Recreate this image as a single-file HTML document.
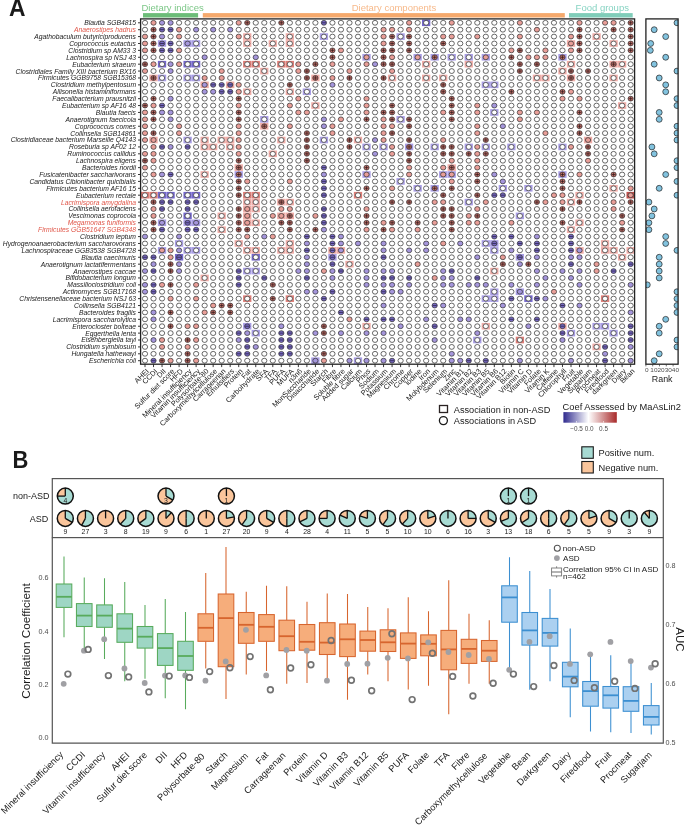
<!DOCTYPE html>
<html><head><meta charset="utf-8"><style>
html,body{margin:0;padding:0;background:#fff;overflow:hidden;}
svg{display:block;will-change:transform;}
text{font-family:"Liberation Sans", sans-serif;}
</style></head><body>
<svg width="685" height="825" viewBox="0 0 685 825" font-family='"Liberation Sans", sans-serif'><rect x="0" y="0" width="685" height="825" fill="#fff"/>
<text transform="translate(8.9,15.9) scale(1.04,1.09)" font-size="22" font-weight="bold" fill="#1a1a1a">A</text>
<text x="141.5" y="10.9" font-size="9.5" fill="#7cc787">Dietary indices</text>
<rect x="143" y="13.1" width="55.1" height="4.4" fill="#6cbd78"/>
<text x="351.7" y="10.9" font-size="9.5" fill="#f7b98a">Dietary components</text>
<rect x="202.8" y="13.1" width="362" height="4.4" fill="#f5a96c"/>
<text x="575.6" y="10.9" font-size="9.5" fill="#86d3c2">Food groups</text>
<rect x="569" y="13.1" width="63.7" height="4.4" fill="#7fcdb9"/>
<rect x="422.01" y="19.50" width="8.3" height="6.6" fill="#7467cc"/>
<rect x="243.09" y="33.29" width="8.3" height="6.6" fill="#efaca7"/>
<rect x="285.69" y="33.29" width="8.3" height="6.6" fill="#efaca7"/>
<rect x="319.77" y="33.29" width="8.3" height="6.6" fill="#a99ee5"/>
<rect x="396.45" y="33.29" width="8.3" height="6.6" fill="#a99ee5"/>
<rect x="592.41" y="33.29" width="8.3" height="6.6" fill="#efaca7"/>
<rect x="157.89" y="40.19" width="8.3" height="6.6" fill="#a99ee5"/>
<rect x="183.45" y="40.19" width="8.3" height="6.6" fill="#a99ee5"/>
<rect x="191.97" y="40.19" width="8.3" height="6.6" fill="#a99ee5"/>
<rect x="243.09" y="40.19" width="8.3" height="6.6" fill="#efaca7"/>
<rect x="268.65" y="40.19" width="8.3" height="6.6" fill="#efaca7"/>
<rect x="285.69" y="40.19" width="8.3" height="6.6" fill="#efaca7"/>
<rect x="566.85" y="40.19" width="8.3" height="6.6" fill="#efaca7"/>
<rect x="609.45" y="40.19" width="8.3" height="6.6" fill="#efaca7"/>
<rect x="362.37" y="53.98" width="8.3" height="6.6" fill="#a99ee5"/>
<rect x="413.49" y="53.98" width="8.3" height="6.6" fill="#a99ee5"/>
<rect x="430.53" y="53.98" width="8.3" height="6.6" fill="#a99ee5"/>
<rect x="447.57" y="53.98" width="8.3" height="6.6" fill="#a99ee5"/>
<rect x="464.61" y="53.98" width="8.3" height="6.6" fill="#a99ee5"/>
<rect x="481.65" y="53.98" width="8.3" height="6.6" fill="#a99ee5"/>
<rect x="558.33" y="53.98" width="8.3" height="6.6" fill="#a99ee5"/>
<rect x="157.89" y="60.88" width="8.3" height="6.6" fill="#7467cc"/>
<rect x="183.45" y="60.88" width="8.3" height="6.6" fill="#7467cc"/>
<rect x="191.97" y="60.88" width="8.3" height="6.6" fill="#7467cc"/>
<rect x="243.09" y="60.88" width="8.3" height="6.6" fill="#dc7d77"/>
<rect x="251.61" y="60.88" width="8.3" height="6.6" fill="#dc7d77"/>
<rect x="277.17" y="60.88" width="8.3" height="6.6" fill="#dc7d77"/>
<rect x="285.69" y="60.88" width="8.3" height="6.6" fill="#dc7d77"/>
<rect x="422.01" y="60.88" width="8.3" height="6.6" fill="#efaca7"/>
<rect x="464.61" y="60.88" width="8.3" height="6.6" fill="#efaca7"/>
<rect x="566.85" y="60.88" width="8.3" height="6.6" fill="#efaca7"/>
<rect x="609.45" y="60.88" width="8.3" height="6.6" fill="#efaca7"/>
<rect x="617.97" y="60.88" width="8.3" height="6.6" fill="#efaca7"/>
<rect x="260.13" y="67.77" width="8.3" height="6.6" fill="#efaca7"/>
<rect x="558.33" y="67.77" width="8.3" height="6.6" fill="#efaca7"/>
<rect x="149.37" y="74.67" width="8.3" height="6.6" fill="#efaca7"/>
<rect x="157.89" y="74.67" width="8.3" height="6.6" fill="#a99ee5"/>
<rect x="183.45" y="74.67" width="8.3" height="6.6" fill="#a99ee5"/>
<rect x="191.97" y="74.67" width="8.3" height="6.6" fill="#a99ee5"/>
<rect x="311.25" y="74.67" width="8.3" height="6.6" fill="#efaca7"/>
<rect x="387.93" y="74.67" width="8.3" height="6.6" fill="#efaca7"/>
<rect x="422.01" y="74.67" width="8.3" height="6.6" fill="#efaca7"/>
<rect x="439.05" y="74.67" width="8.3" height="6.6" fill="#efaca7"/>
<rect x="532.77" y="74.67" width="8.3" height="6.6" fill="#efaca7"/>
<rect x="541.29" y="74.67" width="8.3" height="6.6" fill="#efaca7"/>
<rect x="566.85" y="74.67" width="8.3" height="6.6" fill="#efaca7"/>
<rect x="609.45" y="74.67" width="8.3" height="6.6" fill="#efaca7"/>
<rect x="200.49" y="81.56" width="8.3" height="6.6" fill="#efaca7"/>
<rect x="226.05" y="81.56" width="8.3" height="6.6" fill="#efaca7"/>
<rect x="481.65" y="81.56" width="8.3" height="6.6" fill="#a99ee5"/>
<rect x="490.17" y="81.56" width="8.3" height="6.6" fill="#a99ee5"/>
<rect x="243.09" y="88.46" width="8.3" height="6.6" fill="#efaca7"/>
<rect x="285.69" y="88.46" width="8.3" height="6.6" fill="#efaca7"/>
<rect x="302.73" y="88.46" width="8.3" height="6.6" fill="#a99ee5"/>
<rect x="311.25" y="102.25" width="8.3" height="6.6" fill="#efaca7"/>
<rect x="617.97" y="102.25" width="8.3" height="6.6" fill="#efaca7"/>
<rect x="490.17" y="109.15" width="8.3" height="6.6" fill="#a99ee5"/>
<rect x="260.13" y="116.04" width="8.3" height="6.6" fill="#a99ee5"/>
<rect x="396.45" y="116.04" width="8.3" height="6.6" fill="#a99ee5"/>
<rect x="260.13" y="122.94" width="8.3" height="6.6" fill="#efaca7"/>
<rect x="149.37" y="136.73" width="8.3" height="6.6" fill="#efaca7"/>
<rect x="183.45" y="136.73" width="8.3" height="6.6" fill="#a99ee5"/>
<rect x="200.49" y="136.73" width="8.3" height="6.6" fill="#efaca7"/>
<rect x="217.53" y="136.73" width="8.3" height="6.6" fill="#efaca7"/>
<rect x="226.05" y="136.73" width="8.3" height="6.6" fill="#efaca7"/>
<rect x="277.17" y="136.73" width="8.3" height="6.6" fill="#efaca7"/>
<rect x="319.77" y="136.73" width="8.3" height="6.6" fill="#a99ee5"/>
<rect x="353.85" y="136.73" width="8.3" height="6.6" fill="#efaca7"/>
<rect x="583.89" y="136.73" width="8.3" height="6.6" fill="#efaca7"/>
<rect x="200.49" y="143.63" width="8.3" height="6.6" fill="#efaca7"/>
<rect x="209.01" y="143.63" width="8.3" height="6.6" fill="#efaca7"/>
<rect x="226.05" y="143.63" width="8.3" height="6.6" fill="#efaca7"/>
<rect x="362.37" y="143.63" width="8.3" height="6.6" fill="#a99ee5"/>
<rect x="379.41" y="143.63" width="8.3" height="6.6" fill="#a99ee5"/>
<rect x="404.97" y="143.63" width="8.3" height="6.6" fill="#a99ee5"/>
<rect x="430.53" y="143.63" width="8.3" height="6.6" fill="#a99ee5"/>
<rect x="464.61" y="143.63" width="8.3" height="6.6" fill="#a99ee5"/>
<rect x="481.65" y="143.63" width="8.3" height="6.6" fill="#a99ee5"/>
<rect x="507.21" y="143.63" width="8.3" height="6.6" fill="#a99ee5"/>
<rect x="558.33" y="143.63" width="8.3" height="6.6" fill="#a99ee5"/>
<rect x="268.65" y="150.52" width="8.3" height="6.6" fill="#efaca7"/>
<rect x="234.57" y="164.32" width="8.3" height="6.6" fill="#efaca7"/>
<rect x="447.57" y="164.32" width="8.3" height="6.6" fill="#efaca7"/>
<rect x="200.49" y="171.21" width="8.3" height="6.6" fill="#efaca7"/>
<rect x="234.57" y="171.21" width="8.3" height="6.6" fill="#a99ee5"/>
<rect x="362.37" y="171.21" width="8.3" height="6.6" fill="#a99ee5"/>
<rect x="439.05" y="171.21" width="8.3" height="6.6" fill="#a99ee5"/>
<rect x="447.57" y="171.21" width="8.3" height="6.6" fill="#a99ee5"/>
<rect x="558.33" y="171.21" width="8.3" height="6.6" fill="#a99ee5"/>
<rect x="396.45" y="178.11" width="8.3" height="6.6" fill="#a99ee5"/>
<rect x="413.49" y="185.00" width="8.3" height="6.6" fill="#a99ee5"/>
<rect x="430.53" y="185.00" width="8.3" height="6.6" fill="#a99ee5"/>
<rect x="498.69" y="185.00" width="8.3" height="6.6" fill="#a99ee5"/>
<rect x="524.25" y="185.00" width="8.3" height="6.6" fill="#a99ee5"/>
<rect x="609.45" y="185.00" width="8.3" height="6.6" fill="#efaca7"/>
<rect x="140.85" y="191.90" width="8.3" height="6.6" fill="#dc7d77"/>
<rect x="149.37" y="191.90" width="8.3" height="6.6" fill="#dc7d77"/>
<rect x="157.89" y="191.90" width="8.3" height="6.6" fill="#7467cc"/>
<rect x="166.41" y="191.90" width="8.3" height="6.6" fill="#7467cc"/>
<rect x="183.45" y="191.90" width="8.3" height="6.6" fill="#7467cc"/>
<rect x="191.97" y="191.90" width="8.3" height="6.6" fill="#7467cc"/>
<rect x="243.09" y="191.90" width="8.3" height="6.6" fill="#dc7d77"/>
<rect x="251.61" y="191.90" width="8.3" height="6.6" fill="#dc7d77"/>
<rect x="353.85" y="191.90" width="8.3" height="6.6" fill="#dc7d77"/>
<rect x="575.37" y="191.90" width="8.3" height="6.6" fill="#efaca7"/>
<rect x="626.49" y="191.90" width="8.3" height="6.6" fill="#c2524d"/>
<rect x="243.09" y="198.80" width="8.3" height="6.6" fill="#efaca7"/>
<rect x="251.61" y="198.80" width="8.3" height="6.6" fill="#efaca7"/>
<rect x="277.17" y="198.80" width="8.3" height="6.6" fill="#efaca7"/>
<rect x="285.69" y="198.80" width="8.3" height="6.6" fill="#efaca7"/>
<rect x="464.61" y="198.80" width="8.3" height="6.6" fill="#a99ee5"/>
<rect x="566.85" y="198.80" width="8.3" height="6.6" fill="#efaca7"/>
<rect x="243.09" y="205.69" width="8.3" height="6.6" fill="#efaca7"/>
<rect x="251.61" y="205.69" width="8.3" height="6.6" fill="#efaca7"/>
<rect x="183.45" y="212.59" width="8.3" height="6.6" fill="#7467cc"/>
<rect x="217.53" y="212.59" width="8.3" height="6.6" fill="#efaca7"/>
<rect x="243.09" y="212.59" width="8.3" height="6.6" fill="#efaca7"/>
<rect x="277.17" y="212.59" width="8.3" height="6.6" fill="#efaca7"/>
<rect x="285.69" y="212.59" width="8.3" height="6.6" fill="#efaca7"/>
<rect x="515.73" y="212.59" width="8.3" height="6.6" fill="#a99ee5"/>
<rect x="157.89" y="219.48" width="8.3" height="6.6" fill="#a99ee5"/>
<rect x="183.45" y="219.48" width="8.3" height="6.6" fill="#a99ee5"/>
<rect x="191.97" y="219.48" width="8.3" height="6.6" fill="#a99ee5"/>
<rect x="243.09" y="219.48" width="8.3" height="6.6" fill="#efaca7"/>
<rect x="251.61" y="219.48" width="8.3" height="6.6" fill="#efaca7"/>
<rect x="575.37" y="219.48" width="8.3" height="6.6" fill="#efaca7"/>
<rect x="217.53" y="226.38" width="8.3" height="6.6" fill="#efaca7"/>
<rect x="566.85" y="226.38" width="8.3" height="6.6" fill="#efaca7"/>
<rect x="174.93" y="240.17" width="8.3" height="6.6" fill="#a99ee5"/>
<rect x="234.57" y="240.17" width="8.3" height="6.6" fill="#efaca7"/>
<rect x="285.69" y="240.17" width="8.3" height="6.6" fill="#efaca7"/>
<rect x="481.65" y="240.17" width="8.3" height="6.6" fill="#a99ee5"/>
<rect x="490.17" y="240.17" width="8.3" height="6.6" fill="#a99ee5"/>
<rect x="600.93" y="240.17" width="8.3" height="6.6" fill="#efaca7"/>
<rect x="157.89" y="247.07" width="8.3" height="6.6" fill="#a99ee5"/>
<rect x="183.45" y="247.07" width="8.3" height="6.6" fill="#a99ee5"/>
<rect x="191.97" y="247.07" width="8.3" height="6.6" fill="#a99ee5"/>
<rect x="243.09" y="247.07" width="8.3" height="6.6" fill="#efaca7"/>
<rect x="251.61" y="247.07" width="8.3" height="6.6" fill="#efaca7"/>
<rect x="277.17" y="247.07" width="8.3" height="6.6" fill="#efaca7"/>
<rect x="285.69" y="247.07" width="8.3" height="6.6" fill="#efaca7"/>
<rect x="328.29" y="247.07" width="8.3" height="6.6" fill="#efaca7"/>
<rect x="336.81" y="247.07" width="8.3" height="6.6" fill="#efaca7"/>
<rect x="490.17" y="247.07" width="8.3" height="6.6" fill="#a99ee5"/>
<rect x="575.37" y="247.07" width="8.3" height="6.6" fill="#efaca7"/>
<rect x="600.93" y="247.07" width="8.3" height="6.6" fill="#efaca7"/>
<rect x="609.45" y="247.07" width="8.3" height="6.6" fill="#efaca7"/>
<rect x="626.49" y="247.07" width="8.3" height="6.6" fill="#efaca7"/>
<rect x="174.93" y="253.96" width="8.3" height="6.6" fill="#7467cc"/>
<rect x="251.61" y="253.96" width="8.3" height="6.6" fill="#7467cc"/>
<rect x="328.29" y="253.96" width="8.3" height="6.6" fill="#a99ee5"/>
<rect x="515.73" y="253.96" width="8.3" height="6.6" fill="#a99ee5"/>
<rect x="617.97" y="253.96" width="8.3" height="6.6" fill="#efaca7"/>
<rect x="345.33" y="260.86" width="8.3" height="6.6" fill="#efaca7"/>
<rect x="243.09" y="267.76" width="8.3" height="6.6" fill="#a99ee5"/>
<rect x="251.61" y="267.76" width="8.3" height="6.6" fill="#a99ee5"/>
<rect x="490.17" y="267.76" width="8.3" height="6.6" fill="#efaca7"/>
<rect x="200.49" y="274.65" width="8.3" height="6.6" fill="#efaca7"/>
<rect x="490.17" y="288.44" width="8.3" height="6.6" fill="#a99ee5"/>
<rect x="515.73" y="288.44" width="8.3" height="6.6" fill="#a99ee5"/>
<rect x="243.09" y="295.34" width="8.3" height="6.6" fill="#dc7d77"/>
<rect x="285.69" y="295.34" width="8.3" height="6.6" fill="#dc7d77"/>
<rect x="481.65" y="295.34" width="8.3" height="6.6" fill="#a99ee5"/>
<rect x="490.17" y="295.34" width="8.3" height="6.6" fill="#a99ee5"/>
<rect x="524.25" y="295.34" width="8.3" height="6.6" fill="#7467cc"/>
<rect x="600.93" y="295.34" width="8.3" height="6.6" fill="#dc7d77"/>
<rect x="243.09" y="322.92" width="8.3" height="6.6" fill="#a99ee5"/>
<rect x="362.37" y="322.92" width="8.3" height="6.6" fill="#efaca7"/>
<rect x="481.65" y="322.92" width="8.3" height="6.6" fill="#efaca7"/>
<rect x="558.33" y="322.92" width="8.3" height="6.6" fill="#efaca7"/>
<rect x="592.41" y="322.92" width="8.3" height="6.6" fill="#a99ee5"/>
<rect x="600.93" y="322.92" width="8.3" height="6.6" fill="#a99ee5"/>
<rect x="251.61" y="329.82" width="8.3" height="6.6" fill="#a99ee5"/>
<rect x="566.85" y="329.82" width="8.3" height="6.6" fill="#a99ee5"/>
<rect x="609.45" y="329.82" width="8.3" height="6.6" fill="#a99ee5"/>
<rect x="473.13" y="336.72" width="8.3" height="6.6" fill="#a99ee5"/>
<rect x="515.73" y="336.72" width="8.3" height="6.6" fill="#dc7d77"/>
<rect x="592.41" y="343.61" width="8.3" height="6.6" fill="#efaca7"/>
<rect x="311.25" y="357.40" width="8.3" height="6.6" fill="#a99ee5"/>
<rect x="353.85" y="357.40" width="8.3" height="6.6" fill="#a99ee5"/>
<defs><g id="c_"><ellipse rx="2.62" ry="2.42" fill="#fff" stroke="#303030" stroke-width="0.72"/></g><g id="cr"><ellipse rx="2.62" ry="2.42" fill="#e99e98" stroke="#303030" stroke-width="0.72"/></g><g id="cb_"><ellipse rx="2.62" ry="2.42" fill="#a596dc" stroke="#303030" stroke-width="0.72"/></g><g id="cR"><ellipse rx="2.62" ry="2.42" fill="#c26d67" stroke="#303030" stroke-width="0.72"/><path d="M-2 0h4M0 -2v4" stroke="#1a1010" stroke-width="0.6"/></g><g id="cB"><ellipse rx="2.62" ry="2.42" fill="#7768c2" stroke="#303030" stroke-width="0.72"/><path d="M-2.1 0h4.2" stroke="#1a1530" stroke-width="0.65"/></g></defs>
<use href="#c_" x="145.00" y="22.80"/>
<use href="#cr" x="153.52" y="22.80"/>
<use href="#cb_" x="162.04" y="22.80"/>
<use href="#cb_" x="170.56" y="22.80"/>
<use href="#c_" x="179.08" y="22.80"/>
<use href="#c_" x="187.60" y="22.80"/>
<use href="#c_" x="196.12" y="22.80"/>
<use href="#c_" x="204.64" y="22.80"/>
<use href="#c_" x="213.16" y="22.80"/>
<use href="#c_" x="221.68" y="22.80"/>
<use href="#c_" x="230.20" y="22.80"/>
<use href="#cr" x="238.72" y="22.80"/>
<use href="#cR" x="247.24" y="22.80"/>
<use href="#c_" x="255.76" y="22.80"/>
<use href="#c_" x="264.28" y="22.80"/>
<use href="#c_" x="272.80" y="22.80"/>
<use href="#cR" x="281.32" y="22.80"/>
<use href="#c_" x="289.84" y="22.80"/>
<use href="#c_" x="298.36" y="22.80"/>
<use href="#c_" x="306.88" y="22.80"/>
<use href="#c_" x="315.40" y="22.80"/>
<use href="#cB" x="323.92" y="22.80"/>
<use href="#c_" x="332.44" y="22.80"/>
<use href="#c_" x="340.96" y="22.80"/>
<use href="#c_" x="349.48" y="22.80"/>
<use href="#c_" x="358.00" y="22.80"/>
<use href="#c_" x="366.52" y="22.80"/>
<use href="#c_" x="375.04" y="22.80"/>
<use href="#c_" x="383.56" y="22.80"/>
<use href="#c_" x="392.08" y="22.80"/>
<use href="#c_" x="400.60" y="22.80"/>
<use href="#cr" x="409.12" y="22.80"/>
<use href="#c_" x="417.64" y="22.80"/>
<use href="#c_" x="426.16" y="22.80"/>
<use href="#c_" x="434.68" y="22.80"/>
<use href="#c_" x="443.20" y="22.80"/>
<use href="#cr" x="451.72" y="22.80"/>
<use href="#c_" x="460.24" y="22.80"/>
<use href="#c_" x="468.76" y="22.80"/>
<use href="#c_" x="477.28" y="22.80"/>
<use href="#c_" x="485.80" y="22.80"/>
<use href="#c_" x="494.32" y="22.80"/>
<use href="#c_" x="502.84" y="22.80"/>
<use href="#c_" x="511.36" y="22.80"/>
<use href="#cr" x="519.88" y="22.80"/>
<use href="#c_" x="528.40" y="22.80"/>
<use href="#c_" x="536.92" y="22.80"/>
<use href="#c_" x="545.44" y="22.80"/>
<use href="#c_" x="553.96" y="22.80"/>
<use href="#c_" x="562.48" y="22.80"/>
<use href="#c_" x="571.00" y="22.80"/>
<use href="#cr" x="579.52" y="22.80"/>
<use href="#c_" x="588.04" y="22.80"/>
<use href="#c_" x="596.56" y="22.80"/>
<use href="#cr" x="605.08" y="22.80"/>
<use href="#cr" x="613.60" y="22.80"/>
<use href="#c_" x="622.12" y="22.80"/>
<use href="#cR" x="630.64" y="22.80"/>
<use href="#c_" x="145.00" y="29.70"/>
<use href="#cR" x="153.52" y="29.70"/>
<use href="#cB" x="162.04" y="29.70"/>
<use href="#cB" x="170.56" y="29.70"/>
<use href="#cr" x="179.08" y="29.70"/>
<use href="#c_" x="187.60" y="29.70"/>
<use href="#cb_" x="196.12" y="29.70"/>
<use href="#c_" x="204.64" y="29.70"/>
<use href="#cb_" x="213.16" y="29.70"/>
<use href="#c_" x="221.68" y="29.70"/>
<use href="#cb_" x="230.20" y="29.70"/>
<use href="#c_" x="238.72" y="29.70"/>
<use href="#c_" x="247.24" y="29.70"/>
<use href="#c_" x="255.76" y="29.70"/>
<use href="#c_" x="264.28" y="29.70"/>
<use href="#c_" x="272.80" y="29.70"/>
<use href="#c_" x="281.32" y="29.70"/>
<use href="#c_" x="289.84" y="29.70"/>
<use href="#c_" x="298.36" y="29.70"/>
<use href="#c_" x="306.88" y="29.70"/>
<use href="#c_" x="315.40" y="29.70"/>
<use href="#c_" x="323.92" y="29.70"/>
<use href="#c_" x="332.44" y="29.70"/>
<use href="#c_" x="340.96" y="29.70"/>
<use href="#c_" x="349.48" y="29.70"/>
<use href="#c_" x="358.00" y="29.70"/>
<use href="#c_" x="366.52" y="29.70"/>
<use href="#c_" x="375.04" y="29.70"/>
<use href="#cr" x="383.56" y="29.70"/>
<use href="#cr" x="392.08" y="29.70"/>
<use href="#c_" x="400.60" y="29.70"/>
<use href="#cr" x="409.12" y="29.70"/>
<use href="#c_" x="417.64" y="29.70"/>
<use href="#c_" x="426.16" y="29.70"/>
<use href="#c_" x="434.68" y="29.70"/>
<use href="#c_" x="443.20" y="29.70"/>
<use href="#c_" x="451.72" y="29.70"/>
<use href="#c_" x="460.24" y="29.70"/>
<use href="#c_" x="468.76" y="29.70"/>
<use href="#c_" x="477.28" y="29.70"/>
<use href="#c_" x="485.80" y="29.70"/>
<use href="#c_" x="494.32" y="29.70"/>
<use href="#c_" x="502.84" y="29.70"/>
<use href="#c_" x="511.36" y="29.70"/>
<use href="#c_" x="519.88" y="29.70"/>
<use href="#c_" x="528.40" y="29.70"/>
<use href="#cr" x="536.92" y="29.70"/>
<use href="#c_" x="545.44" y="29.70"/>
<use href="#c_" x="553.96" y="29.70"/>
<use href="#c_" x="562.48" y="29.70"/>
<use href="#c_" x="571.00" y="29.70"/>
<use href="#cR" x="579.52" y="29.70"/>
<use href="#c_" x="588.04" y="29.70"/>
<use href="#c_" x="596.56" y="29.70"/>
<use href="#c_" x="605.08" y="29.70"/>
<use href="#cR" x="613.60" y="29.70"/>
<use href="#c_" x="622.12" y="29.70"/>
<use href="#cR" x="630.64" y="29.70"/>
<use href="#cr" x="145.00" y="36.59"/>
<use href="#cR" x="153.52" y="36.59"/>
<use href="#cb_" x="162.04" y="36.59"/>
<use href="#c_" x="170.56" y="36.59"/>
<use href="#cr" x="179.08" y="36.59"/>
<use href="#c_" x="187.60" y="36.59"/>
<use href="#c_" x="196.12" y="36.59"/>
<use href="#c_" x="204.64" y="36.59"/>
<use href="#c_" x="213.16" y="36.59"/>
<use href="#c_" x="221.68" y="36.59"/>
<use href="#c_" x="230.20" y="36.59"/>
<use href="#cr" x="238.72" y="36.59"/>
<use href="#c_" x="247.24" y="36.59"/>
<use href="#c_" x="255.76" y="36.59"/>
<use href="#c_" x="264.28" y="36.59"/>
<use href="#c_" x="272.80" y="36.59"/>
<use href="#c_" x="281.32" y="36.59"/>
<use href="#c_" x="289.84" y="36.59"/>
<use href="#c_" x="298.36" y="36.59"/>
<use href="#c_" x="306.88" y="36.59"/>
<use href="#c_" x="315.40" y="36.59"/>
<use href="#c_" x="323.92" y="36.59"/>
<use href="#c_" x="332.44" y="36.59"/>
<use href="#c_" x="340.96" y="36.59"/>
<use href="#c_" x="349.48" y="36.59"/>
<use href="#c_" x="358.00" y="36.59"/>
<use href="#c_" x="366.52" y="36.59"/>
<use href="#c_" x="375.04" y="36.59"/>
<use href="#cr" x="383.56" y="36.59"/>
<use href="#cR" x="392.08" y="36.59"/>
<use href="#c_" x="400.60" y="36.59"/>
<use href="#cR" x="409.12" y="36.59"/>
<use href="#c_" x="417.64" y="36.59"/>
<use href="#c_" x="426.16" y="36.59"/>
<use href="#c_" x="434.68" y="36.59"/>
<use href="#cr" x="443.20" y="36.59"/>
<use href="#cr" x="451.72" y="36.59"/>
<use href="#c_" x="460.24" y="36.59"/>
<use href="#c_" x="468.76" y="36.59"/>
<use href="#cr" x="477.28" y="36.59"/>
<use href="#c_" x="485.80" y="36.59"/>
<use href="#c_" x="494.32" y="36.59"/>
<use href="#c_" x="502.84" y="36.59"/>
<use href="#c_" x="511.36" y="36.59"/>
<use href="#cr" x="519.88" y="36.59"/>
<use href="#c_" x="528.40" y="36.59"/>
<use href="#c_" x="536.92" y="36.59"/>
<use href="#c_" x="545.44" y="36.59"/>
<use href="#c_" x="553.96" y="36.59"/>
<use href="#c_" x="562.48" y="36.59"/>
<use href="#cr" x="571.00" y="36.59"/>
<use href="#cR" x="579.52" y="36.59"/>
<use href="#c_" x="588.04" y="36.59"/>
<use href="#c_" x="596.56" y="36.59"/>
<use href="#c_" x="605.08" y="36.59"/>
<use href="#c_" x="613.60" y="36.59"/>
<use href="#c_" x="622.12" y="36.59"/>
<use href="#cR" x="630.64" y="36.59"/>
<use href="#cr" x="145.00" y="43.49"/>
<use href="#cR" x="153.52" y="43.49"/>
<use href="#cB" x="162.04" y="43.49"/>
<use href="#cB" x="170.56" y="43.49"/>
<use href="#c_" x="179.08" y="43.49"/>
<use href="#cb_" x="187.60" y="43.49"/>
<use href="#c_" x="196.12" y="43.49"/>
<use href="#c_" x="204.64" y="43.49"/>
<use href="#c_" x="213.16" y="43.49"/>
<use href="#c_" x="221.68" y="43.49"/>
<use href="#c_" x="230.20" y="43.49"/>
<use href="#c_" x="238.72" y="43.49"/>
<use href="#c_" x="247.24" y="43.49"/>
<use href="#c_" x="255.76" y="43.49"/>
<use href="#c_" x="264.28" y="43.49"/>
<use href="#c_" x="272.80" y="43.49"/>
<use href="#c_" x="281.32" y="43.49"/>
<use href="#c_" x="289.84" y="43.49"/>
<use href="#c_" x="298.36" y="43.49"/>
<use href="#c_" x="306.88" y="43.49"/>
<use href="#c_" x="315.40" y="43.49"/>
<use href="#c_" x="323.92" y="43.49"/>
<use href="#c_" x="332.44" y="43.49"/>
<use href="#c_" x="340.96" y="43.49"/>
<use href="#c_" x="349.48" y="43.49"/>
<use href="#c_" x="358.00" y="43.49"/>
<use href="#c_" x="366.52" y="43.49"/>
<use href="#c_" x="375.04" y="43.49"/>
<use href="#cr" x="383.56" y="43.49"/>
<use href="#cR" x="392.08" y="43.49"/>
<use href="#c_" x="400.60" y="43.49"/>
<use href="#cR" x="409.12" y="43.49"/>
<use href="#c_" x="417.64" y="43.49"/>
<use href="#c_" x="426.16" y="43.49"/>
<use href="#c_" x="434.68" y="43.49"/>
<use href="#cR" x="443.20" y="43.49"/>
<use href="#c_" x="451.72" y="43.49"/>
<use href="#c_" x="460.24" y="43.49"/>
<use href="#c_" x="468.76" y="43.49"/>
<use href="#c_" x="477.28" y="43.49"/>
<use href="#c_" x="485.80" y="43.49"/>
<use href="#c_" x="494.32" y="43.49"/>
<use href="#c_" x="502.84" y="43.49"/>
<use href="#c_" x="511.36" y="43.49"/>
<use href="#c_" x="519.88" y="43.49"/>
<use href="#c_" x="528.40" y="43.49"/>
<use href="#c_" x="536.92" y="43.49"/>
<use href="#c_" x="545.44" y="43.49"/>
<use href="#c_" x="553.96" y="43.49"/>
<use href="#c_" x="562.48" y="43.49"/>
<use href="#cr" x="571.00" y="43.49"/>
<use href="#cR" x="579.52" y="43.49"/>
<use href="#c_" x="588.04" y="43.49"/>
<use href="#c_" x="596.56" y="43.49"/>
<use href="#c_" x="605.08" y="43.49"/>
<use href="#c_" x="613.60" y="43.49"/>
<use href="#c_" x="622.12" y="43.49"/>
<use href="#cR" x="630.64" y="43.49"/>
<use href="#cr" x="145.00" y="50.38"/>
<use href="#cR" x="153.52" y="50.38"/>
<use href="#cB" x="162.04" y="50.38"/>
<use href="#cB" x="170.56" y="50.38"/>
<use href="#cr" x="179.08" y="50.38"/>
<use href="#c_" x="187.60" y="50.38"/>
<use href="#c_" x="196.12" y="50.38"/>
<use href="#c_" x="204.64" y="50.38"/>
<use href="#c_" x="213.16" y="50.38"/>
<use href="#c_" x="221.68" y="50.38"/>
<use href="#c_" x="230.20" y="50.38"/>
<use href="#c_" x="238.72" y="50.38"/>
<use href="#c_" x="247.24" y="50.38"/>
<use href="#c_" x="255.76" y="50.38"/>
<use href="#c_" x="264.28" y="50.38"/>
<use href="#c_" x="272.80" y="50.38"/>
<use href="#c_" x="281.32" y="50.38"/>
<use href="#c_" x="289.84" y="50.38"/>
<use href="#c_" x="298.36" y="50.38"/>
<use href="#c_" x="306.88" y="50.38"/>
<use href="#c_" x="315.40" y="50.38"/>
<use href="#c_" x="323.92" y="50.38"/>
<use href="#cR" x="332.44" y="50.38"/>
<use href="#cr" x="340.96" y="50.38"/>
<use href="#c_" x="349.48" y="50.38"/>
<use href="#c_" x="358.00" y="50.38"/>
<use href="#c_" x="366.52" y="50.38"/>
<use href="#c_" x="375.04" y="50.38"/>
<use href="#cR" x="383.56" y="50.38"/>
<use href="#cR" x="392.08" y="50.38"/>
<use href="#c_" x="400.60" y="50.38"/>
<use href="#cR" x="409.12" y="50.38"/>
<use href="#c_" x="417.64" y="50.38"/>
<use href="#c_" x="426.16" y="50.38"/>
<use href="#c_" x="434.68" y="50.38"/>
<use href="#c_" x="443.20" y="50.38"/>
<use href="#c_" x="451.72" y="50.38"/>
<use href="#c_" x="460.24" y="50.38"/>
<use href="#c_" x="468.76" y="50.38"/>
<use href="#c_" x="477.28" y="50.38"/>
<use href="#c_" x="485.80" y="50.38"/>
<use href="#c_" x="494.32" y="50.38"/>
<use href="#c_" x="502.84" y="50.38"/>
<use href="#cr" x="511.36" y="50.38"/>
<use href="#cR" x="519.88" y="50.38"/>
<use href="#c_" x="528.40" y="50.38"/>
<use href="#c_" x="536.92" y="50.38"/>
<use href="#cr" x="545.44" y="50.38"/>
<use href="#c_" x="553.96" y="50.38"/>
<use href="#c_" x="562.48" y="50.38"/>
<use href="#cr" x="571.00" y="50.38"/>
<use href="#cR" x="579.52" y="50.38"/>
<use href="#c_" x="588.04" y="50.38"/>
<use href="#c_" x="596.56" y="50.38"/>
<use href="#c_" x="605.08" y="50.38"/>
<use href="#c_" x="613.60" y="50.38"/>
<use href="#c_" x="622.12" y="50.38"/>
<use href="#cR" x="630.64" y="50.38"/>
<use href="#c_" x="145.00" y="57.28"/>
<use href="#c_" x="153.52" y="57.28"/>
<use href="#c_" x="162.04" y="57.28"/>
<use href="#c_" x="170.56" y="57.28"/>
<use href="#c_" x="179.08" y="57.28"/>
<use href="#c_" x="187.60" y="57.28"/>
<use href="#c_" x="196.12" y="57.28"/>
<use href="#cb_" x="204.64" y="57.28"/>
<use href="#c_" x="213.16" y="57.28"/>
<use href="#c_" x="221.68" y="57.28"/>
<use href="#c_" x="230.20" y="57.28"/>
<use href="#c_" x="238.72" y="57.28"/>
<use href="#c_" x="247.24" y="57.28"/>
<use href="#cb_" x="255.76" y="57.28"/>
<use href="#c_" x="264.28" y="57.28"/>
<use href="#c_" x="272.80" y="57.28"/>
<use href="#c_" x="281.32" y="57.28"/>
<use href="#c_" x="289.84" y="57.28"/>
<use href="#c_" x="298.36" y="57.28"/>
<use href="#c_" x="306.88" y="57.28"/>
<use href="#c_" x="315.40" y="57.28"/>
<use href="#c_" x="323.92" y="57.28"/>
<use href="#cR" x="332.44" y="57.28"/>
<use href="#c_" x="340.96" y="57.28"/>
<use href="#c_" x="349.48" y="57.28"/>
<use href="#c_" x="358.00" y="57.28"/>
<use href="#cr" x="366.52" y="57.28"/>
<use href="#c_" x="375.04" y="57.28"/>
<use href="#cR" x="383.56" y="57.28"/>
<use href="#cr" x="392.08" y="57.28"/>
<use href="#c_" x="400.60" y="57.28"/>
<use href="#c_" x="409.12" y="57.28"/>
<use href="#cr" x="417.64" y="57.28"/>
<use href="#c_" x="426.16" y="57.28"/>
<use href="#cR" x="434.68" y="57.28"/>
<use href="#c_" x="443.20" y="57.28"/>
<use href="#c_" x="451.72" y="57.28"/>
<use href="#c_" x="460.24" y="57.28"/>
<use href="#c_" x="468.76" y="57.28"/>
<use href="#c_" x="477.28" y="57.28"/>
<use href="#cr" x="485.80" y="57.28"/>
<use href="#c_" x="494.32" y="57.28"/>
<use href="#c_" x="502.84" y="57.28"/>
<use href="#cR" x="511.36" y="57.28"/>
<use href="#c_" x="519.88" y="57.28"/>
<use href="#cr" x="528.40" y="57.28"/>
<use href="#cr" x="536.92" y="57.28"/>
<use href="#cr" x="545.44" y="57.28"/>
<use href="#c_" x="553.96" y="57.28"/>
<use href="#cR" x="562.48" y="57.28"/>
<use href="#c_" x="571.00" y="57.28"/>
<use href="#c_" x="579.52" y="57.28"/>
<use href="#c_" x="588.04" y="57.28"/>
<use href="#c_" x="596.56" y="57.28"/>
<use href="#c_" x="605.08" y="57.28"/>
<use href="#c_" x="613.60" y="57.28"/>
<use href="#c_" x="622.12" y="57.28"/>
<use href="#c_" x="630.64" y="57.28"/>
<use href="#cR" x="145.00" y="64.18"/>
<use href="#cr" x="153.52" y="64.18"/>
<use href="#c_" x="162.04" y="64.18"/>
<use href="#cb_" x="170.56" y="64.18"/>
<use href="#cr" x="179.08" y="64.18"/>
<use href="#c_" x="187.60" y="64.18"/>
<use href="#c_" x="196.12" y="64.18"/>
<use href="#c_" x="204.64" y="64.18"/>
<use href="#c_" x="213.16" y="64.18"/>
<use href="#c_" x="221.68" y="64.18"/>
<use href="#c_" x="230.20" y="64.18"/>
<use href="#c_" x="238.72" y="64.18"/>
<use href="#c_" x="247.24" y="64.18"/>
<use href="#c_" x="255.76" y="64.18"/>
<use href="#c_" x="264.28" y="64.18"/>
<use href="#c_" x="272.80" y="64.18"/>
<use href="#c_" x="281.32" y="64.18"/>
<use href="#c_" x="289.84" y="64.18"/>
<use href="#cr" x="298.36" y="64.18"/>
<use href="#c_" x="306.88" y="64.18"/>
<use href="#cR" x="315.40" y="64.18"/>
<use href="#c_" x="323.92" y="64.18"/>
<use href="#cr" x="332.44" y="64.18"/>
<use href="#c_" x="340.96" y="64.18"/>
<use href="#c_" x="349.48" y="64.18"/>
<use href="#c_" x="358.00" y="64.18"/>
<use href="#cr" x="366.52" y="64.18"/>
<use href="#cb_" x="375.04" y="64.18"/>
<use href="#cR" x="383.56" y="64.18"/>
<use href="#cR" x="392.08" y="64.18"/>
<use href="#c_" x="400.60" y="64.18"/>
<use href="#c_" x="409.12" y="64.18"/>
<use href="#c_" x="417.64" y="64.18"/>
<use href="#c_" x="426.16" y="64.18"/>
<use href="#c_" x="434.68" y="64.18"/>
<use href="#c_" x="443.20" y="64.18"/>
<use href="#c_" x="451.72" y="64.18"/>
<use href="#c_" x="460.24" y="64.18"/>
<use href="#c_" x="468.76" y="64.18"/>
<use href="#c_" x="477.28" y="64.18"/>
<use href="#c_" x="485.80" y="64.18"/>
<use href="#c_" x="494.32" y="64.18"/>
<use href="#c_" x="502.84" y="64.18"/>
<use href="#c_" x="511.36" y="64.18"/>
<use href="#cR" x="519.88" y="64.18"/>
<use href="#c_" x="528.40" y="64.18"/>
<use href="#cR" x="536.92" y="64.18"/>
<use href="#c_" x="545.44" y="64.18"/>
<use href="#c_" x="553.96" y="64.18"/>
<use href="#c_" x="562.48" y="64.18"/>
<use href="#c_" x="571.00" y="64.18"/>
<use href="#c_" x="579.52" y="64.18"/>
<use href="#c_" x="588.04" y="64.18"/>
<use href="#c_" x="596.56" y="64.18"/>
<use href="#c_" x="605.08" y="64.18"/>
<use href="#cR" x="613.60" y="64.18"/>
<use href="#c_" x="622.12" y="64.18"/>
<use href="#c_" x="630.64" y="64.18"/>
<use href="#cr" x="145.00" y="71.07"/>
<use href="#c_" x="153.52" y="71.07"/>
<use href="#c_" x="162.04" y="71.07"/>
<use href="#cb_" x="170.56" y="71.07"/>
<use href="#c_" x="179.08" y="71.07"/>
<use href="#c_" x="187.60" y="71.07"/>
<use href="#c_" x="196.12" y="71.07"/>
<use href="#c_" x="204.64" y="71.07"/>
<use href="#c_" x="213.16" y="71.07"/>
<use href="#cr" x="221.68" y="71.07"/>
<use href="#c_" x="230.20" y="71.07"/>
<use href="#c_" x="238.72" y="71.07"/>
<use href="#c_" x="247.24" y="71.07"/>
<use href="#c_" x="255.76" y="71.07"/>
<use href="#c_" x="264.28" y="71.07"/>
<use href="#c_" x="272.80" y="71.07"/>
<use href="#c_" x="281.32" y="71.07"/>
<use href="#c_" x="289.84" y="71.07"/>
<use href="#cr" x="298.36" y="71.07"/>
<use href="#cR" x="306.88" y="71.07"/>
<use href="#c_" x="315.40" y="71.07"/>
<use href="#c_" x="323.92" y="71.07"/>
<use href="#c_" x="332.44" y="71.07"/>
<use href="#c_" x="340.96" y="71.07"/>
<use href="#cr" x="349.48" y="71.07"/>
<use href="#c_" x="358.00" y="71.07"/>
<use href="#c_" x="366.52" y="71.07"/>
<use href="#c_" x="375.04" y="71.07"/>
<use href="#c_" x="383.56" y="71.07"/>
<use href="#cr" x="392.08" y="71.07"/>
<use href="#c_" x="400.60" y="71.07"/>
<use href="#c_" x="409.12" y="71.07"/>
<use href="#c_" x="417.64" y="71.07"/>
<use href="#c_" x="426.16" y="71.07"/>
<use href="#c_" x="434.68" y="71.07"/>
<use href="#c_" x="443.20" y="71.07"/>
<use href="#c_" x="451.72" y="71.07"/>
<use href="#c_" x="460.24" y="71.07"/>
<use href="#c_" x="468.76" y="71.07"/>
<use href="#c_" x="477.28" y="71.07"/>
<use href="#c_" x="485.80" y="71.07"/>
<use href="#c_" x="494.32" y="71.07"/>
<use href="#c_" x="502.84" y="71.07"/>
<use href="#c_" x="511.36" y="71.07"/>
<use href="#cR" x="519.88" y="71.07"/>
<use href="#c_" x="528.40" y="71.07"/>
<use href="#c_" x="536.92" y="71.07"/>
<use href="#c_" x="545.44" y="71.07"/>
<use href="#c_" x="553.96" y="71.07"/>
<use href="#c_" x="562.48" y="71.07"/>
<use href="#cR" x="571.00" y="71.07"/>
<use href="#c_" x="579.52" y="71.07"/>
<use href="#cR" x="588.04" y="71.07"/>
<use href="#c_" x="596.56" y="71.07"/>
<use href="#c_" x="605.08" y="71.07"/>
<use href="#c_" x="613.60" y="71.07"/>
<use href="#c_" x="622.12" y="71.07"/>
<use href="#c_" x="630.64" y="71.07"/>
<use href="#c_" x="145.00" y="77.97"/>
<use href="#cR" x="153.52" y="77.97"/>
<use href="#c_" x="162.04" y="77.97"/>
<use href="#c_" x="170.56" y="77.97"/>
<use href="#c_" x="179.08" y="77.97"/>
<use href="#c_" x="187.60" y="77.97"/>
<use href="#c_" x="196.12" y="77.97"/>
<use href="#cr" x="204.64" y="77.97"/>
<use href="#c_" x="213.16" y="77.97"/>
<use href="#cr" x="221.68" y="77.97"/>
<use href="#c_" x="230.20" y="77.97"/>
<use href="#c_" x="238.72" y="77.97"/>
<use href="#c_" x="247.24" y="77.97"/>
<use href="#c_" x="255.76" y="77.97"/>
<use href="#c_" x="264.28" y="77.97"/>
<use href="#c_" x="272.80" y="77.97"/>
<use href="#c_" x="281.32" y="77.97"/>
<use href="#c_" x="289.84" y="77.97"/>
<use href="#c_" x="298.36" y="77.97"/>
<use href="#cR" x="306.88" y="77.97"/>
<use href="#cR" x="315.40" y="77.97"/>
<use href="#c_" x="323.92" y="77.97"/>
<use href="#cr" x="332.44" y="77.97"/>
<use href="#c_" x="340.96" y="77.97"/>
<use href="#cR" x="349.48" y="77.97"/>
<use href="#c_" x="358.00" y="77.97"/>
<use href="#c_" x="366.52" y="77.97"/>
<use href="#c_" x="375.04" y="77.97"/>
<use href="#cR" x="383.56" y="77.97"/>
<use href="#c_" x="392.08" y="77.97"/>
<use href="#c_" x="400.60" y="77.97"/>
<use href="#c_" x="409.12" y="77.97"/>
<use href="#c_" x="417.64" y="77.97"/>
<use href="#c_" x="426.16" y="77.97"/>
<use href="#c_" x="434.68" y="77.97"/>
<use href="#c_" x="443.20" y="77.97"/>
<use href="#c_" x="451.72" y="77.97"/>
<use href="#c_" x="460.24" y="77.97"/>
<use href="#c_" x="468.76" y="77.97"/>
<use href="#c_" x="477.28" y="77.97"/>
<use href="#c_" x="485.80" y="77.97"/>
<use href="#c_" x="494.32" y="77.97"/>
<use href="#c_" x="502.84" y="77.97"/>
<use href="#c_" x="511.36" y="77.97"/>
<use href="#c_" x="519.88" y="77.97"/>
<use href="#c_" x="528.40" y="77.97"/>
<use href="#c_" x="536.92" y="77.97"/>
<use href="#c_" x="545.44" y="77.97"/>
<use href="#c_" x="553.96" y="77.97"/>
<use href="#c_" x="562.48" y="77.97"/>
<use href="#cR" x="571.00" y="77.97"/>
<use href="#c_" x="579.52" y="77.97"/>
<use href="#c_" x="588.04" y="77.97"/>
<use href="#c_" x="596.56" y="77.97"/>
<use href="#c_" x="605.08" y="77.97"/>
<use href="#c_" x="613.60" y="77.97"/>
<use href="#c_" x="622.12" y="77.97"/>
<use href="#c_" x="630.64" y="77.97"/>
<use href="#c_" x="145.00" y="84.86"/>
<use href="#c_" x="153.52" y="84.86"/>
<use href="#c_" x="162.04" y="84.86"/>
<use href="#c_" x="170.56" y="84.86"/>
<use href="#c_" x="179.08" y="84.86"/>
<use href="#c_" x="187.60" y="84.86"/>
<use href="#c_" x="196.12" y="84.86"/>
<use href="#cb_" x="204.64" y="84.86"/>
<use href="#cB" x="213.16" y="84.86"/>
<use href="#cB" x="221.68" y="84.86"/>
<use href="#cB" x="230.20" y="84.86"/>
<use href="#cr" x="238.72" y="84.86"/>
<use href="#c_" x="247.24" y="84.86"/>
<use href="#c_" x="255.76" y="84.86"/>
<use href="#c_" x="264.28" y="84.86"/>
<use href="#c_" x="272.80" y="84.86"/>
<use href="#c_" x="281.32" y="84.86"/>
<use href="#cR" x="289.84" y="84.86"/>
<use href="#c_" x="298.36" y="84.86"/>
<use href="#c_" x="306.88" y="84.86"/>
<use href="#c_" x="315.40" y="84.86"/>
<use href="#c_" x="323.92" y="84.86"/>
<use href="#cb_" x="332.44" y="84.86"/>
<use href="#c_" x="340.96" y="84.86"/>
<use href="#c_" x="349.48" y="84.86"/>
<use href="#c_" x="358.00" y="84.86"/>
<use href="#c_" x="366.52" y="84.86"/>
<use href="#c_" x="375.04" y="84.86"/>
<use href="#c_" x="383.56" y="84.86"/>
<use href="#c_" x="392.08" y="84.86"/>
<use href="#c_" x="400.60" y="84.86"/>
<use href="#c_" x="409.12" y="84.86"/>
<use href="#c_" x="417.64" y="84.86"/>
<use href="#c_" x="426.16" y="84.86"/>
<use href="#c_" x="434.68" y="84.86"/>
<use href="#cR" x="443.20" y="84.86"/>
<use href="#c_" x="451.72" y="84.86"/>
<use href="#c_" x="460.24" y="84.86"/>
<use href="#c_" x="468.76" y="84.86"/>
<use href="#c_" x="477.28" y="84.86"/>
<use href="#c_" x="485.80" y="84.86"/>
<use href="#c_" x="494.32" y="84.86"/>
<use href="#c_" x="502.84" y="84.86"/>
<use href="#c_" x="511.36" y="84.86"/>
<use href="#c_" x="519.88" y="84.86"/>
<use href="#c_" x="528.40" y="84.86"/>
<use href="#c_" x="536.92" y="84.86"/>
<use href="#c_" x="545.44" y="84.86"/>
<use href="#c_" x="553.96" y="84.86"/>
<use href="#c_" x="562.48" y="84.86"/>
<use href="#c_" x="571.00" y="84.86"/>
<use href="#c_" x="579.52" y="84.86"/>
<use href="#c_" x="588.04" y="84.86"/>
<use href="#c_" x="596.56" y="84.86"/>
<use href="#c_" x="605.08" y="84.86"/>
<use href="#c_" x="613.60" y="84.86"/>
<use href="#c_" x="622.12" y="84.86"/>
<use href="#c_" x="630.64" y="84.86"/>
<use href="#c_" x="145.00" y="91.76"/>
<use href="#c_" x="153.52" y="91.76"/>
<use href="#c_" x="162.04" y="91.76"/>
<use href="#c_" x="170.56" y="91.76"/>
<use href="#c_" x="179.08" y="91.76"/>
<use href="#c_" x="187.60" y="91.76"/>
<use href="#c_" x="196.12" y="91.76"/>
<use href="#cb_" x="204.64" y="91.76"/>
<use href="#cb_" x="213.16" y="91.76"/>
<use href="#cB" x="221.68" y="91.76"/>
<use href="#cB" x="230.20" y="91.76"/>
<use href="#cr" x="238.72" y="91.76"/>
<use href="#c_" x="247.24" y="91.76"/>
<use href="#c_" x="255.76" y="91.76"/>
<use href="#c_" x="264.28" y="91.76"/>
<use href="#c_" x="272.80" y="91.76"/>
<use href="#c_" x="281.32" y="91.76"/>
<use href="#c_" x="289.84" y="91.76"/>
<use href="#c_" x="298.36" y="91.76"/>
<use href="#c_" x="306.88" y="91.76"/>
<use href="#c_" x="315.40" y="91.76"/>
<use href="#c_" x="323.92" y="91.76"/>
<use href="#c_" x="332.44" y="91.76"/>
<use href="#c_" x="340.96" y="91.76"/>
<use href="#c_" x="349.48" y="91.76"/>
<use href="#c_" x="358.00" y="91.76"/>
<use href="#c_" x="366.52" y="91.76"/>
<use href="#c_" x="375.04" y="91.76"/>
<use href="#c_" x="383.56" y="91.76"/>
<use href="#c_" x="392.08" y="91.76"/>
<use href="#c_" x="400.60" y="91.76"/>
<use href="#c_" x="409.12" y="91.76"/>
<use href="#c_" x="417.64" y="91.76"/>
<use href="#c_" x="426.16" y="91.76"/>
<use href="#c_" x="434.68" y="91.76"/>
<use href="#cR" x="443.20" y="91.76"/>
<use href="#c_" x="451.72" y="91.76"/>
<use href="#c_" x="460.24" y="91.76"/>
<use href="#c_" x="468.76" y="91.76"/>
<use href="#c_" x="477.28" y="91.76"/>
<use href="#c_" x="485.80" y="91.76"/>
<use href="#c_" x="494.32" y="91.76"/>
<use href="#c_" x="502.84" y="91.76"/>
<use href="#cR" x="511.36" y="91.76"/>
<use href="#c_" x="519.88" y="91.76"/>
<use href="#c_" x="528.40" y="91.76"/>
<use href="#c_" x="536.92" y="91.76"/>
<use href="#c_" x="545.44" y="91.76"/>
<use href="#c_" x="553.96" y="91.76"/>
<use href="#cR" x="562.48" y="91.76"/>
<use href="#cr" x="571.00" y="91.76"/>
<use href="#c_" x="579.52" y="91.76"/>
<use href="#c_" x="588.04" y="91.76"/>
<use href="#c_" x="596.56" y="91.76"/>
<use href="#c_" x="605.08" y="91.76"/>
<use href="#c_" x="613.60" y="91.76"/>
<use href="#c_" x="622.12" y="91.76"/>
<use href="#c_" x="630.64" y="91.76"/>
<use href="#c_" x="145.00" y="98.66"/>
<use href="#cR" x="153.52" y="98.66"/>
<use href="#c_" x="162.04" y="98.66"/>
<use href="#cb_" x="170.56" y="98.66"/>
<use href="#c_" x="179.08" y="98.66"/>
<use href="#c_" x="187.60" y="98.66"/>
<use href="#c_" x="196.12" y="98.66"/>
<use href="#c_" x="204.64" y="98.66"/>
<use href="#c_" x="213.16" y="98.66"/>
<use href="#c_" x="221.68" y="98.66"/>
<use href="#c_" x="230.20" y="98.66"/>
<use href="#cR" x="238.72" y="98.66"/>
<use href="#c_" x="247.24" y="98.66"/>
<use href="#c_" x="255.76" y="98.66"/>
<use href="#c_" x="264.28" y="98.66"/>
<use href="#c_" x="272.80" y="98.66"/>
<use href="#c_" x="281.32" y="98.66"/>
<use href="#c_" x="289.84" y="98.66"/>
<use href="#cr" x="298.36" y="98.66"/>
<use href="#c_" x="306.88" y="98.66"/>
<use href="#c_" x="315.40" y="98.66"/>
<use href="#c_" x="323.92" y="98.66"/>
<use href="#c_" x="332.44" y="98.66"/>
<use href="#c_" x="340.96" y="98.66"/>
<use href="#c_" x="349.48" y="98.66"/>
<use href="#c_" x="358.00" y="98.66"/>
<use href="#cr" x="366.52" y="98.66"/>
<use href="#c_" x="375.04" y="98.66"/>
<use href="#c_" x="383.56" y="98.66"/>
<use href="#c_" x="392.08" y="98.66"/>
<use href="#c_" x="400.60" y="98.66"/>
<use href="#c_" x="409.12" y="98.66"/>
<use href="#c_" x="417.64" y="98.66"/>
<use href="#c_" x="426.16" y="98.66"/>
<use href="#c_" x="434.68" y="98.66"/>
<use href="#c_" x="443.20" y="98.66"/>
<use href="#cR" x="451.72" y="98.66"/>
<use href="#c_" x="460.24" y="98.66"/>
<use href="#c_" x="468.76" y="98.66"/>
<use href="#c_" x="477.28" y="98.66"/>
<use href="#c_" x="485.80" y="98.66"/>
<use href="#c_" x="494.32" y="98.66"/>
<use href="#c_" x="502.84" y="98.66"/>
<use href="#c_" x="511.36" y="98.66"/>
<use href="#c_" x="519.88" y="98.66"/>
<use href="#c_" x="528.40" y="98.66"/>
<use href="#c_" x="536.92" y="98.66"/>
<use href="#c_" x="545.44" y="98.66"/>
<use href="#c_" x="553.96" y="98.66"/>
<use href="#cr" x="562.48" y="98.66"/>
<use href="#c_" x="571.00" y="98.66"/>
<use href="#cr" x="579.52" y="98.66"/>
<use href="#c_" x="588.04" y="98.66"/>
<use href="#c_" x="596.56" y="98.66"/>
<use href="#c_" x="605.08" y="98.66"/>
<use href="#c_" x="613.60" y="98.66"/>
<use href="#c_" x="622.12" y="98.66"/>
<use href="#cR" x="630.64" y="98.66"/>
<use href="#cR" x="145.00" y="105.55"/>
<use href="#cr" x="153.52" y="105.55"/>
<use href="#cB" x="162.04" y="105.55"/>
<use href="#c_" x="170.56" y="105.55"/>
<use href="#c_" x="179.08" y="105.55"/>
<use href="#c_" x="187.60" y="105.55"/>
<use href="#c_" x="196.12" y="105.55"/>
<use href="#c_" x="204.64" y="105.55"/>
<use href="#c_" x="213.16" y="105.55"/>
<use href="#c_" x="221.68" y="105.55"/>
<use href="#c_" x="230.20" y="105.55"/>
<use href="#cr" x="238.72" y="105.55"/>
<use href="#c_" x="247.24" y="105.55"/>
<use href="#c_" x="255.76" y="105.55"/>
<use href="#c_" x="264.28" y="105.55"/>
<use href="#c_" x="272.80" y="105.55"/>
<use href="#c_" x="281.32" y="105.55"/>
<use href="#cr" x="289.84" y="105.55"/>
<use href="#c_" x="298.36" y="105.55"/>
<use href="#c_" x="306.88" y="105.55"/>
<use href="#c_" x="315.40" y="105.55"/>
<use href="#c_" x="323.92" y="105.55"/>
<use href="#c_" x="332.44" y="105.55"/>
<use href="#c_" x="340.96" y="105.55"/>
<use href="#c_" x="349.48" y="105.55"/>
<use href="#c_" x="358.00" y="105.55"/>
<use href="#cr" x="366.52" y="105.55"/>
<use href="#c_" x="375.04" y="105.55"/>
<use href="#c_" x="383.56" y="105.55"/>
<use href="#cR" x="392.08" y="105.55"/>
<use href="#c_" x="400.60" y="105.55"/>
<use href="#c_" x="409.12" y="105.55"/>
<use href="#c_" x="417.64" y="105.55"/>
<use href="#c_" x="426.16" y="105.55"/>
<use href="#c_" x="434.68" y="105.55"/>
<use href="#c_" x="443.20" y="105.55"/>
<use href="#cR" x="451.72" y="105.55"/>
<use href="#c_" x="460.24" y="105.55"/>
<use href="#c_" x="468.76" y="105.55"/>
<use href="#cr" x="477.28" y="105.55"/>
<use href="#c_" x="485.80" y="105.55"/>
<use href="#cb_" x="494.32" y="105.55"/>
<use href="#c_" x="502.84" y="105.55"/>
<use href="#c_" x="511.36" y="105.55"/>
<use href="#c_" x="519.88" y="105.55"/>
<use href="#c_" x="528.40" y="105.55"/>
<use href="#c_" x="536.92" y="105.55"/>
<use href="#c_" x="545.44" y="105.55"/>
<use href="#c_" x="553.96" y="105.55"/>
<use href="#c_" x="562.48" y="105.55"/>
<use href="#c_" x="571.00" y="105.55"/>
<use href="#c_" x="579.52" y="105.55"/>
<use href="#c_" x="588.04" y="105.55"/>
<use href="#c_" x="596.56" y="105.55"/>
<use href="#c_" x="605.08" y="105.55"/>
<use href="#c_" x="613.60" y="105.55"/>
<use href="#c_" x="622.12" y="105.55"/>
<use href="#c_" x="630.64" y="105.55"/>
<use href="#cr" x="145.00" y="112.45"/>
<use href="#cR" x="153.52" y="112.45"/>
<use href="#cb_" x="162.04" y="112.45"/>
<use href="#cb_" x="170.56" y="112.45"/>
<use href="#c_" x="179.08" y="112.45"/>
<use href="#c_" x="187.60" y="112.45"/>
<use href="#c_" x="196.12" y="112.45"/>
<use href="#c_" x="204.64" y="112.45"/>
<use href="#c_" x="213.16" y="112.45"/>
<use href="#c_" x="221.68" y="112.45"/>
<use href="#c_" x="230.20" y="112.45"/>
<use href="#cR" x="238.72" y="112.45"/>
<use href="#c_" x="247.24" y="112.45"/>
<use href="#c_" x="255.76" y="112.45"/>
<use href="#c_" x="264.28" y="112.45"/>
<use href="#c_" x="272.80" y="112.45"/>
<use href="#c_" x="281.32" y="112.45"/>
<use href="#c_" x="289.84" y="112.45"/>
<use href="#cr" x="298.36" y="112.45"/>
<use href="#cr" x="306.88" y="112.45"/>
<use href="#c_" x="315.40" y="112.45"/>
<use href="#c_" x="323.92" y="112.45"/>
<use href="#c_" x="332.44" y="112.45"/>
<use href="#c_" x="340.96" y="112.45"/>
<use href="#c_" x="349.48" y="112.45"/>
<use href="#c_" x="358.00" y="112.45"/>
<use href="#cr" x="366.52" y="112.45"/>
<use href="#c_" x="375.04" y="112.45"/>
<use href="#cR" x="383.56" y="112.45"/>
<use href="#cR" x="392.08" y="112.45"/>
<use href="#c_" x="400.60" y="112.45"/>
<use href="#c_" x="409.12" y="112.45"/>
<use href="#c_" x="417.64" y="112.45"/>
<use href="#c_" x="426.16" y="112.45"/>
<use href="#c_" x="434.68" y="112.45"/>
<use href="#cr" x="443.20" y="112.45"/>
<use href="#cR" x="451.72" y="112.45"/>
<use href="#c_" x="460.24" y="112.45"/>
<use href="#c_" x="468.76" y="112.45"/>
<use href="#cr" x="477.28" y="112.45"/>
<use href="#c_" x="485.80" y="112.45"/>
<use href="#c_" x="494.32" y="112.45"/>
<use href="#c_" x="502.84" y="112.45"/>
<use href="#c_" x="511.36" y="112.45"/>
<use href="#cr" x="519.88" y="112.45"/>
<use href="#c_" x="528.40" y="112.45"/>
<use href="#cr" x="536.92" y="112.45"/>
<use href="#c_" x="545.44" y="112.45"/>
<use href="#c_" x="553.96" y="112.45"/>
<use href="#c_" x="562.48" y="112.45"/>
<use href="#c_" x="571.00" y="112.45"/>
<use href="#cR" x="579.52" y="112.45"/>
<use href="#c_" x="588.04" y="112.45"/>
<use href="#c_" x="596.56" y="112.45"/>
<use href="#c_" x="605.08" y="112.45"/>
<use href="#c_" x="613.60" y="112.45"/>
<use href="#c_" x="622.12" y="112.45"/>
<use href="#c_" x="630.64" y="112.45"/>
<use href="#cr" x="145.00" y="119.34"/>
<use href="#cR" x="153.52" y="119.34"/>
<use href="#c_" x="162.04" y="119.34"/>
<use href="#cb_" x="170.56" y="119.34"/>
<use href="#c_" x="179.08" y="119.34"/>
<use href="#c_" x="187.60" y="119.34"/>
<use href="#c_" x="196.12" y="119.34"/>
<use href="#c_" x="204.64" y="119.34"/>
<use href="#c_" x="213.16" y="119.34"/>
<use href="#c_" x="221.68" y="119.34"/>
<use href="#c_" x="230.20" y="119.34"/>
<use href="#cR" x="238.72" y="119.34"/>
<use href="#c_" x="247.24" y="119.34"/>
<use href="#c_" x="255.76" y="119.34"/>
<use href="#c_" x="264.28" y="119.34"/>
<use href="#c_" x="272.80" y="119.34"/>
<use href="#c_" x="281.32" y="119.34"/>
<use href="#c_" x="289.84" y="119.34"/>
<use href="#c_" x="298.36" y="119.34"/>
<use href="#c_" x="306.88" y="119.34"/>
<use href="#c_" x="315.40" y="119.34"/>
<use href="#cb_" x="323.92" y="119.34"/>
<use href="#c_" x="332.44" y="119.34"/>
<use href="#cr" x="340.96" y="119.34"/>
<use href="#c_" x="349.48" y="119.34"/>
<use href="#c_" x="358.00" y="119.34"/>
<use href="#cR" x="366.52" y="119.34"/>
<use href="#c_" x="375.04" y="119.34"/>
<use href="#cr" x="383.56" y="119.34"/>
<use href="#cR" x="392.08" y="119.34"/>
<use href="#c_" x="400.60" y="119.34"/>
<use href="#cR" x="409.12" y="119.34"/>
<use href="#c_" x="417.64" y="119.34"/>
<use href="#c_" x="426.16" y="119.34"/>
<use href="#c_" x="434.68" y="119.34"/>
<use href="#c_" x="443.20" y="119.34"/>
<use href="#cR" x="451.72" y="119.34"/>
<use href="#c_" x="460.24" y="119.34"/>
<use href="#c_" x="468.76" y="119.34"/>
<use href="#c_" x="477.28" y="119.34"/>
<use href="#c_" x="485.80" y="119.34"/>
<use href="#c_" x="494.32" y="119.34"/>
<use href="#c_" x="502.84" y="119.34"/>
<use href="#c_" x="511.36" y="119.34"/>
<use href="#cr" x="519.88" y="119.34"/>
<use href="#c_" x="528.40" y="119.34"/>
<use href="#c_" x="536.92" y="119.34"/>
<use href="#c_" x="545.44" y="119.34"/>
<use href="#c_" x="553.96" y="119.34"/>
<use href="#c_" x="562.48" y="119.34"/>
<use href="#c_" x="571.00" y="119.34"/>
<use href="#c_" x="579.52" y="119.34"/>
<use href="#c_" x="588.04" y="119.34"/>
<use href="#c_" x="596.56" y="119.34"/>
<use href="#c_" x="605.08" y="119.34"/>
<use href="#c_" x="613.60" y="119.34"/>
<use href="#c_" x="622.12" y="119.34"/>
<use href="#c_" x="630.64" y="119.34"/>
<use href="#cr" x="145.00" y="126.24"/>
<use href="#c_" x="153.52" y="126.24"/>
<use href="#c_" x="162.04" y="126.24"/>
<use href="#c_" x="170.56" y="126.24"/>
<use href="#cr" x="179.08" y="126.24"/>
<use href="#c_" x="187.60" y="126.24"/>
<use href="#c_" x="196.12" y="126.24"/>
<use href="#c_" x="204.64" y="126.24"/>
<use href="#c_" x="213.16" y="126.24"/>
<use href="#c_" x="221.68" y="126.24"/>
<use href="#c_" x="230.20" y="126.24"/>
<use href="#cr" x="238.72" y="126.24"/>
<use href="#c_" x="247.24" y="126.24"/>
<use href="#c_" x="255.76" y="126.24"/>
<use href="#cR" x="264.28" y="126.24"/>
<use href="#c_" x="272.80" y="126.24"/>
<use href="#c_" x="281.32" y="126.24"/>
<use href="#cr" x="289.84" y="126.24"/>
<use href="#c_" x="298.36" y="126.24"/>
<use href="#c_" x="306.88" y="126.24"/>
<use href="#c_" x="315.40" y="126.24"/>
<use href="#cb_" x="323.92" y="126.24"/>
<use href="#cr" x="332.44" y="126.24"/>
<use href="#c_" x="340.96" y="126.24"/>
<use href="#c_" x="349.48" y="126.24"/>
<use href="#c_" x="358.00" y="126.24"/>
<use href="#c_" x="366.52" y="126.24"/>
<use href="#c_" x="375.04" y="126.24"/>
<use href="#cr" x="383.56" y="126.24"/>
<use href="#cr" x="392.08" y="126.24"/>
<use href="#c_" x="400.60" y="126.24"/>
<use href="#cR" x="409.12" y="126.24"/>
<use href="#c_" x="417.64" y="126.24"/>
<use href="#c_" x="426.16" y="126.24"/>
<use href="#c_" x="434.68" y="126.24"/>
<use href="#c_" x="443.20" y="126.24"/>
<use href="#c_" x="451.72" y="126.24"/>
<use href="#c_" x="460.24" y="126.24"/>
<use href="#c_" x="468.76" y="126.24"/>
<use href="#cr" x="477.28" y="126.24"/>
<use href="#c_" x="485.80" y="126.24"/>
<use href="#c_" x="494.32" y="126.24"/>
<use href="#cb_" x="502.84" y="126.24"/>
<use href="#c_" x="511.36" y="126.24"/>
<use href="#c_" x="519.88" y="126.24"/>
<use href="#c_" x="528.40" y="126.24"/>
<use href="#c_" x="536.92" y="126.24"/>
<use href="#c_" x="545.44" y="126.24"/>
<use href="#c_" x="553.96" y="126.24"/>
<use href="#c_" x="562.48" y="126.24"/>
<use href="#c_" x="571.00" y="126.24"/>
<use href="#cR" x="579.52" y="126.24"/>
<use href="#c_" x="588.04" y="126.24"/>
<use href="#c_" x="596.56" y="126.24"/>
<use href="#c_" x="605.08" y="126.24"/>
<use href="#c_" x="613.60" y="126.24"/>
<use href="#c_" x="622.12" y="126.24"/>
<use href="#c_" x="630.64" y="126.24"/>
<use href="#cr" x="145.00" y="133.14"/>
<use href="#cR" x="153.52" y="133.14"/>
<use href="#c_" x="162.04" y="133.14"/>
<use href="#c_" x="170.56" y="133.14"/>
<use href="#cr" x="179.08" y="133.14"/>
<use href="#c_" x="187.60" y="133.14"/>
<use href="#c_" x="196.12" y="133.14"/>
<use href="#c_" x="204.64" y="133.14"/>
<use href="#c_" x="213.16" y="133.14"/>
<use href="#c_" x="221.68" y="133.14"/>
<use href="#c_" x="230.20" y="133.14"/>
<use href="#cr" x="238.72" y="133.14"/>
<use href="#c_" x="247.24" y="133.14"/>
<use href="#c_" x="255.76" y="133.14"/>
<use href="#c_" x="264.28" y="133.14"/>
<use href="#c_" x="272.80" y="133.14"/>
<use href="#c_" x="281.32" y="133.14"/>
<use href="#c_" x="289.84" y="133.14"/>
<use href="#c_" x="298.36" y="133.14"/>
<use href="#cR" x="306.88" y="133.14"/>
<use href="#c_" x="315.40" y="133.14"/>
<use href="#c_" x="323.92" y="133.14"/>
<use href="#cr" x="332.44" y="133.14"/>
<use href="#c_" x="340.96" y="133.14"/>
<use href="#c_" x="349.48" y="133.14"/>
<use href="#c_" x="358.00" y="133.14"/>
<use href="#c_" x="366.52" y="133.14"/>
<use href="#c_" x="375.04" y="133.14"/>
<use href="#cr" x="383.56" y="133.14"/>
<use href="#cR" x="392.08" y="133.14"/>
<use href="#c_" x="400.60" y="133.14"/>
<use href="#c_" x="409.12" y="133.14"/>
<use href="#c_" x="417.64" y="133.14"/>
<use href="#c_" x="426.16" y="133.14"/>
<use href="#c_" x="434.68" y="133.14"/>
<use href="#c_" x="443.20" y="133.14"/>
<use href="#c_" x="451.72" y="133.14"/>
<use href="#c_" x="460.24" y="133.14"/>
<use href="#c_" x="468.76" y="133.14"/>
<use href="#cr" x="477.28" y="133.14"/>
<use href="#c_" x="485.80" y="133.14"/>
<use href="#c_" x="494.32" y="133.14"/>
<use href="#c_" x="502.84" y="133.14"/>
<use href="#c_" x="511.36" y="133.14"/>
<use href="#c_" x="519.88" y="133.14"/>
<use href="#c_" x="528.40" y="133.14"/>
<use href="#c_" x="536.92" y="133.14"/>
<use href="#cr" x="545.44" y="133.14"/>
<use href="#c_" x="553.96" y="133.14"/>
<use href="#c_" x="562.48" y="133.14"/>
<use href="#c_" x="571.00" y="133.14"/>
<use href="#cR" x="579.52" y="133.14"/>
<use href="#c_" x="588.04" y="133.14"/>
<use href="#c_" x="596.56" y="133.14"/>
<use href="#c_" x="605.08" y="133.14"/>
<use href="#c_" x="613.60" y="133.14"/>
<use href="#c_" x="622.12" y="133.14"/>
<use href="#c_" x="630.64" y="133.14"/>
<use href="#cr" x="145.00" y="140.03"/>
<use href="#cr" x="153.52" y="140.03"/>
<use href="#c_" x="162.04" y="140.03"/>
<use href="#c_" x="170.56" y="140.03"/>
<use href="#c_" x="179.08" y="140.03"/>
<use href="#c_" x="187.60" y="140.03"/>
<use href="#c_" x="196.12" y="140.03"/>
<use href="#c_" x="204.64" y="140.03"/>
<use href="#c_" x="213.16" y="140.03"/>
<use href="#c_" x="221.68" y="140.03"/>
<use href="#c_" x="230.20" y="140.03"/>
<use href="#cr" x="238.72" y="140.03"/>
<use href="#c_" x="247.24" y="140.03"/>
<use href="#c_" x="255.76" y="140.03"/>
<use href="#c_" x="264.28" y="140.03"/>
<use href="#c_" x="272.80" y="140.03"/>
<use href="#c_" x="281.32" y="140.03"/>
<use href="#c_" x="289.84" y="140.03"/>
<use href="#c_" x="298.36" y="140.03"/>
<use href="#cR" x="306.88" y="140.03"/>
<use href="#c_" x="315.40" y="140.03"/>
<use href="#c_" x="323.92" y="140.03"/>
<use href="#c_" x="332.44" y="140.03"/>
<use href="#c_" x="340.96" y="140.03"/>
<use href="#cR" x="349.48" y="140.03"/>
<use href="#c_" x="358.00" y="140.03"/>
<use href="#c_" x="366.52" y="140.03"/>
<use href="#cb_" x="375.04" y="140.03"/>
<use href="#cr" x="383.56" y="140.03"/>
<use href="#c_" x="392.08" y="140.03"/>
<use href="#c_" x="400.60" y="140.03"/>
<use href="#cR" x="409.12" y="140.03"/>
<use href="#c_" x="417.64" y="140.03"/>
<use href="#c_" x="426.16" y="140.03"/>
<use href="#c_" x="434.68" y="140.03"/>
<use href="#cr" x="443.20" y="140.03"/>
<use href="#c_" x="451.72" y="140.03"/>
<use href="#c_" x="460.24" y="140.03"/>
<use href="#c_" x="468.76" y="140.03"/>
<use href="#c_" x="477.28" y="140.03"/>
<use href="#cR" x="485.80" y="140.03"/>
<use href="#c_" x="494.32" y="140.03"/>
<use href="#c_" x="502.84" y="140.03"/>
<use href="#c_" x="511.36" y="140.03"/>
<use href="#c_" x="519.88" y="140.03"/>
<use href="#c_" x="528.40" y="140.03"/>
<use href="#c_" x="536.92" y="140.03"/>
<use href="#c_" x="545.44" y="140.03"/>
<use href="#c_" x="553.96" y="140.03"/>
<use href="#c_" x="562.48" y="140.03"/>
<use href="#c_" x="571.00" y="140.03"/>
<use href="#c_" x="579.52" y="140.03"/>
<use href="#cr" x="588.04" y="140.03"/>
<use href="#c_" x="596.56" y="140.03"/>
<use href="#c_" x="605.08" y="140.03"/>
<use href="#c_" x="613.60" y="140.03"/>
<use href="#c_" x="622.12" y="140.03"/>
<use href="#c_" x="630.64" y="140.03"/>
<use href="#c_" x="145.00" y="146.93"/>
<use href="#cr" x="153.52" y="146.93"/>
<use href="#cB" x="162.04" y="146.93"/>
<use href="#cb_" x="170.56" y="146.93"/>
<use href="#c_" x="179.08" y="146.93"/>
<use href="#cB" x="187.60" y="146.93"/>
<use href="#c_" x="196.12" y="146.93"/>
<use href="#c_" x="204.64" y="146.93"/>
<use href="#c_" x="213.16" y="146.93"/>
<use href="#c_" x="221.68" y="146.93"/>
<use href="#c_" x="230.20" y="146.93"/>
<use href="#cr" x="238.72" y="146.93"/>
<use href="#c_" x="247.24" y="146.93"/>
<use href="#c_" x="255.76" y="146.93"/>
<use href="#c_" x="264.28" y="146.93"/>
<use href="#c_" x="272.80" y="146.93"/>
<use href="#c_" x="281.32" y="146.93"/>
<use href="#c_" x="289.84" y="146.93"/>
<use href="#c_" x="298.36" y="146.93"/>
<use href="#cR" x="306.88" y="146.93"/>
<use href="#c_" x="315.40" y="146.93"/>
<use href="#c_" x="323.92" y="146.93"/>
<use href="#c_" x="332.44" y="146.93"/>
<use href="#c_" x="340.96" y="146.93"/>
<use href="#cR" x="349.48" y="146.93"/>
<use href="#c_" x="358.00" y="146.93"/>
<use href="#c_" x="366.52" y="146.93"/>
<use href="#c_" x="375.04" y="146.93"/>
<use href="#c_" x="383.56" y="146.93"/>
<use href="#cr" x="392.08" y="146.93"/>
<use href="#c_" x="400.60" y="146.93"/>
<use href="#cR" x="409.12" y="146.93"/>
<use href="#c_" x="417.64" y="146.93"/>
<use href="#c_" x="426.16" y="146.93"/>
<use href="#c_" x="434.68" y="146.93"/>
<use href="#cR" x="443.20" y="146.93"/>
<use href="#cR" x="451.72" y="146.93"/>
<use href="#c_" x="460.24" y="146.93"/>
<use href="#c_" x="468.76" y="146.93"/>
<use href="#cr" x="477.28" y="146.93"/>
<use href="#c_" x="485.80" y="146.93"/>
<use href="#c_" x="494.32" y="146.93"/>
<use href="#c_" x="502.84" y="146.93"/>
<use href="#c_" x="511.36" y="146.93"/>
<use href="#c_" x="519.88" y="146.93"/>
<use href="#c_" x="528.40" y="146.93"/>
<use href="#c_" x="536.92" y="146.93"/>
<use href="#c_" x="545.44" y="146.93"/>
<use href="#c_" x="553.96" y="146.93"/>
<use href="#c_" x="562.48" y="146.93"/>
<use href="#cr" x="571.00" y="146.93"/>
<use href="#c_" x="579.52" y="146.93"/>
<use href="#cR" x="588.04" y="146.93"/>
<use href="#c_" x="596.56" y="146.93"/>
<use href="#c_" x="605.08" y="146.93"/>
<use href="#c_" x="613.60" y="146.93"/>
<use href="#c_" x="622.12" y="146.93"/>
<use href="#c_" x="630.64" y="146.93"/>
<use href="#cr" x="145.00" y="153.82"/>
<use href="#cr" x="153.52" y="153.82"/>
<use href="#c_" x="162.04" y="153.82"/>
<use href="#c_" x="170.56" y="153.82"/>
<use href="#c_" x="179.08" y="153.82"/>
<use href="#c_" x="187.60" y="153.82"/>
<use href="#c_" x="196.12" y="153.82"/>
<use href="#c_" x="204.64" y="153.82"/>
<use href="#c_" x="213.16" y="153.82"/>
<use href="#c_" x="221.68" y="153.82"/>
<use href="#c_" x="230.20" y="153.82"/>
<use href="#cr" x="238.72" y="153.82"/>
<use href="#c_" x="247.24" y="153.82"/>
<use href="#c_" x="255.76" y="153.82"/>
<use href="#c_" x="264.28" y="153.82"/>
<use href="#c_" x="272.80" y="153.82"/>
<use href="#c_" x="281.32" y="153.82"/>
<use href="#c_" x="289.84" y="153.82"/>
<use href="#c_" x="298.36" y="153.82"/>
<use href="#cR" x="306.88" y="153.82"/>
<use href="#c_" x="315.40" y="153.82"/>
<use href="#c_" x="323.92" y="153.82"/>
<use href="#c_" x="332.44" y="153.82"/>
<use href="#c_" x="340.96" y="153.82"/>
<use href="#c_" x="349.48" y="153.82"/>
<use href="#c_" x="358.00" y="153.82"/>
<use href="#c_" x="366.52" y="153.82"/>
<use href="#cb_" x="375.04" y="153.82"/>
<use href="#c_" x="383.56" y="153.82"/>
<use href="#cr" x="392.08" y="153.82"/>
<use href="#c_" x="400.60" y="153.82"/>
<use href="#cR" x="409.12" y="153.82"/>
<use href="#c_" x="417.64" y="153.82"/>
<use href="#c_" x="426.16" y="153.82"/>
<use href="#c_" x="434.68" y="153.82"/>
<use href="#cR" x="443.20" y="153.82"/>
<use href="#cR" x="451.72" y="153.82"/>
<use href="#c_" x="460.24" y="153.82"/>
<use href="#cR" x="468.76" y="153.82"/>
<use href="#cr" x="477.28" y="153.82"/>
<use href="#cR" x="485.80" y="153.82"/>
<use href="#c_" x="494.32" y="153.82"/>
<use href="#c_" x="502.84" y="153.82"/>
<use href="#c_" x="511.36" y="153.82"/>
<use href="#c_" x="519.88" y="153.82"/>
<use href="#c_" x="528.40" y="153.82"/>
<use href="#c_" x="536.92" y="153.82"/>
<use href="#c_" x="545.44" y="153.82"/>
<use href="#c_" x="553.96" y="153.82"/>
<use href="#c_" x="562.48" y="153.82"/>
<use href="#c_" x="571.00" y="153.82"/>
<use href="#c_" x="579.52" y="153.82"/>
<use href="#cR" x="588.04" y="153.82"/>
<use href="#c_" x="596.56" y="153.82"/>
<use href="#c_" x="605.08" y="153.82"/>
<use href="#c_" x="613.60" y="153.82"/>
<use href="#c_" x="622.12" y="153.82"/>
<use href="#c_" x="630.64" y="153.82"/>
<use href="#cR" x="145.00" y="160.72"/>
<use href="#cr" x="153.52" y="160.72"/>
<use href="#c_" x="162.04" y="160.72"/>
<use href="#c_" x="170.56" y="160.72"/>
<use href="#c_" x="179.08" y="160.72"/>
<use href="#c_" x="187.60" y="160.72"/>
<use href="#c_" x="196.12" y="160.72"/>
<use href="#c_" x="204.64" y="160.72"/>
<use href="#c_" x="213.16" y="160.72"/>
<use href="#c_" x="221.68" y="160.72"/>
<use href="#c_" x="230.20" y="160.72"/>
<use href="#cR" x="238.72" y="160.72"/>
<use href="#c_" x="247.24" y="160.72"/>
<use href="#c_" x="255.76" y="160.72"/>
<use href="#c_" x="264.28" y="160.72"/>
<use href="#c_" x="272.80" y="160.72"/>
<use href="#c_" x="281.32" y="160.72"/>
<use href="#c_" x="289.84" y="160.72"/>
<use href="#c_" x="298.36" y="160.72"/>
<use href="#cR" x="306.88" y="160.72"/>
<use href="#c_" x="315.40" y="160.72"/>
<use href="#c_" x="323.92" y="160.72"/>
<use href="#c_" x="332.44" y="160.72"/>
<use href="#c_" x="340.96" y="160.72"/>
<use href="#c_" x="349.48" y="160.72"/>
<use href="#c_" x="358.00" y="160.72"/>
<use href="#c_" x="366.52" y="160.72"/>
<use href="#c_" x="375.04" y="160.72"/>
<use href="#c_" x="383.56" y="160.72"/>
<use href="#c_" x="392.08" y="160.72"/>
<use href="#c_" x="400.60" y="160.72"/>
<use href="#cR" x="409.12" y="160.72"/>
<use href="#c_" x="417.64" y="160.72"/>
<use href="#c_" x="426.16" y="160.72"/>
<use href="#c_" x="434.68" y="160.72"/>
<use href="#c_" x="443.20" y="160.72"/>
<use href="#cr" x="451.72" y="160.72"/>
<use href="#c_" x="460.24" y="160.72"/>
<use href="#c_" x="468.76" y="160.72"/>
<use href="#cr" x="477.28" y="160.72"/>
<use href="#c_" x="485.80" y="160.72"/>
<use href="#c_" x="494.32" y="160.72"/>
<use href="#c_" x="502.84" y="160.72"/>
<use href="#c_" x="511.36" y="160.72"/>
<use href="#c_" x="519.88" y="160.72"/>
<use href="#c_" x="528.40" y="160.72"/>
<use href="#c_" x="536.92" y="160.72"/>
<use href="#c_" x="545.44" y="160.72"/>
<use href="#c_" x="553.96" y="160.72"/>
<use href="#c_" x="562.48" y="160.72"/>
<use href="#c_" x="571.00" y="160.72"/>
<use href="#c_" x="579.52" y="160.72"/>
<use href="#cr" x="588.04" y="160.72"/>
<use href="#c_" x="596.56" y="160.72"/>
<use href="#c_" x="605.08" y="160.72"/>
<use href="#c_" x="613.60" y="160.72"/>
<use href="#c_" x="622.12" y="160.72"/>
<use href="#c_" x="630.64" y="160.72"/>
<use href="#cr" x="145.00" y="167.62"/>
<use href="#c_" x="153.52" y="167.62"/>
<use href="#c_" x="162.04" y="167.62"/>
<use href="#c_" x="170.56" y="167.62"/>
<use href="#c_" x="179.08" y="167.62"/>
<use href="#c_" x="187.60" y="167.62"/>
<use href="#c_" x="196.12" y="167.62"/>
<use href="#c_" x="204.64" y="167.62"/>
<use href="#c_" x="213.16" y="167.62"/>
<use href="#c_" x="221.68" y="167.62"/>
<use href="#c_" x="230.20" y="167.62"/>
<use href="#cR" x="238.72" y="167.62"/>
<use href="#c_" x="247.24" y="167.62"/>
<use href="#c_" x="255.76" y="167.62"/>
<use href="#c_" x="264.28" y="167.62"/>
<use href="#c_" x="272.80" y="167.62"/>
<use href="#c_" x="281.32" y="167.62"/>
<use href="#c_" x="289.84" y="167.62"/>
<use href="#c_" x="298.36" y="167.62"/>
<use href="#c_" x="306.88" y="167.62"/>
<use href="#c_" x="315.40" y="167.62"/>
<use href="#cB" x="323.92" y="167.62"/>
<use href="#c_" x="332.44" y="167.62"/>
<use href="#c_" x="340.96" y="167.62"/>
<use href="#c_" x="349.48" y="167.62"/>
<use href="#c_" x="358.00" y="167.62"/>
<use href="#cR" x="366.52" y="167.62"/>
<use href="#c_" x="375.04" y="167.62"/>
<use href="#c_" x="383.56" y="167.62"/>
<use href="#c_" x="392.08" y="167.62"/>
<use href="#c_" x="400.60" y="167.62"/>
<use href="#cr" x="409.12" y="167.62"/>
<use href="#c_" x="417.64" y="167.62"/>
<use href="#c_" x="426.16" y="167.62"/>
<use href="#c_" x="434.68" y="167.62"/>
<use href="#cr" x="443.20" y="167.62"/>
<use href="#cR" x="451.72" y="167.62"/>
<use href="#c_" x="460.24" y="167.62"/>
<use href="#c_" x="468.76" y="167.62"/>
<use href="#cr" x="477.28" y="167.62"/>
<use href="#c_" x="485.80" y="167.62"/>
<use href="#c_" x="494.32" y="167.62"/>
<use href="#c_" x="502.84" y="167.62"/>
<use href="#c_" x="511.36" y="167.62"/>
<use href="#c_" x="519.88" y="167.62"/>
<use href="#c_" x="528.40" y="167.62"/>
<use href="#c_" x="536.92" y="167.62"/>
<use href="#c_" x="545.44" y="167.62"/>
<use href="#c_" x="553.96" y="167.62"/>
<use href="#c_" x="562.48" y="167.62"/>
<use href="#c_" x="571.00" y="167.62"/>
<use href="#c_" x="579.52" y="167.62"/>
<use href="#c_" x="588.04" y="167.62"/>
<use href="#c_" x="596.56" y="167.62"/>
<use href="#c_" x="605.08" y="167.62"/>
<use href="#c_" x="613.60" y="167.62"/>
<use href="#c_" x="622.12" y="167.62"/>
<use href="#c_" x="630.64" y="167.62"/>
<use href="#c_" x="145.00" y="174.51"/>
<use href="#cr" x="153.52" y="174.51"/>
<use href="#cb_" x="162.04" y="174.51"/>
<use href="#cB" x="170.56" y="174.51"/>
<use href="#c_" x="179.08" y="174.51"/>
<use href="#c_" x="187.60" y="174.51"/>
<use href="#c_" x="196.12" y="174.51"/>
<use href="#c_" x="204.64" y="174.51"/>
<use href="#c_" x="213.16" y="174.51"/>
<use href="#c_" x="221.68" y="174.51"/>
<use href="#c_" x="230.20" y="174.51"/>
<use href="#cR" x="238.72" y="174.51"/>
<use href="#c_" x="247.24" y="174.51"/>
<use href="#c_" x="255.76" y="174.51"/>
<use href="#c_" x="264.28" y="174.51"/>
<use href="#c_" x="272.80" y="174.51"/>
<use href="#c_" x="281.32" y="174.51"/>
<use href="#c_" x="289.84" y="174.51"/>
<use href="#c_" x="298.36" y="174.51"/>
<use href="#c_" x="306.88" y="174.51"/>
<use href="#c_" x="315.40" y="174.51"/>
<use href="#cb_" x="323.92" y="174.51"/>
<use href="#c_" x="332.44" y="174.51"/>
<use href="#c_" x="340.96" y="174.51"/>
<use href="#c_" x="349.48" y="174.51"/>
<use href="#c_" x="358.00" y="174.51"/>
<use href="#cr" x="366.52" y="174.51"/>
<use href="#c_" x="375.04" y="174.51"/>
<use href="#c_" x="383.56" y="174.51"/>
<use href="#c_" x="392.08" y="174.51"/>
<use href="#c_" x="400.60" y="174.51"/>
<use href="#cr" x="409.12" y="174.51"/>
<use href="#c_" x="417.64" y="174.51"/>
<use href="#c_" x="426.16" y="174.51"/>
<use href="#c_" x="434.68" y="174.51"/>
<use href="#cr" x="443.20" y="174.51"/>
<use href="#cr" x="451.72" y="174.51"/>
<use href="#c_" x="460.24" y="174.51"/>
<use href="#c_" x="468.76" y="174.51"/>
<use href="#cR" x="477.28" y="174.51"/>
<use href="#c_" x="485.80" y="174.51"/>
<use href="#cb_" x="494.32" y="174.51"/>
<use href="#c_" x="502.84" y="174.51"/>
<use href="#c_" x="511.36" y="174.51"/>
<use href="#c_" x="519.88" y="174.51"/>
<use href="#c_" x="528.40" y="174.51"/>
<use href="#c_" x="536.92" y="174.51"/>
<use href="#c_" x="545.44" y="174.51"/>
<use href="#c_" x="553.96" y="174.51"/>
<use href="#cR" x="562.48" y="174.51"/>
<use href="#c_" x="571.00" y="174.51"/>
<use href="#cr" x="579.52" y="174.51"/>
<use href="#c_" x="588.04" y="174.51"/>
<use href="#c_" x="596.56" y="174.51"/>
<use href="#c_" x="605.08" y="174.51"/>
<use href="#cR" x="613.60" y="174.51"/>
<use href="#c_" x="622.12" y="174.51"/>
<use href="#c_" x="630.64" y="174.51"/>
<use href="#c_" x="145.00" y="181.41"/>
<use href="#c_" x="153.52" y="181.41"/>
<use href="#c_" x="162.04" y="181.41"/>
<use href="#c_" x="170.56" y="181.41"/>
<use href="#c_" x="179.08" y="181.41"/>
<use href="#c_" x="187.60" y="181.41"/>
<use href="#c_" x="196.12" y="181.41"/>
<use href="#c_" x="204.64" y="181.41"/>
<use href="#c_" x="213.16" y="181.41"/>
<use href="#c_" x="221.68" y="181.41"/>
<use href="#c_" x="230.20" y="181.41"/>
<use href="#cR" x="238.72" y="181.41"/>
<use href="#cr" x="247.24" y="181.41"/>
<use href="#c_" x="255.76" y="181.41"/>
<use href="#c_" x="264.28" y="181.41"/>
<use href="#c_" x="272.80" y="181.41"/>
<use href="#c_" x="281.32" y="181.41"/>
<use href="#cr" x="289.84" y="181.41"/>
<use href="#c_" x="298.36" y="181.41"/>
<use href="#c_" x="306.88" y="181.41"/>
<use href="#c_" x="315.40" y="181.41"/>
<use href="#cB" x="323.92" y="181.41"/>
<use href="#c_" x="332.44" y="181.41"/>
<use href="#c_" x="340.96" y="181.41"/>
<use href="#c_" x="349.48" y="181.41"/>
<use href="#c_" x="358.00" y="181.41"/>
<use href="#c_" x="366.52" y="181.41"/>
<use href="#c_" x="375.04" y="181.41"/>
<use href="#c_" x="383.56" y="181.41"/>
<use href="#c_" x="392.08" y="181.41"/>
<use href="#c_" x="400.60" y="181.41"/>
<use href="#c_" x="409.12" y="181.41"/>
<use href="#c_" x="417.64" y="181.41"/>
<use href="#c_" x="426.16" y="181.41"/>
<use href="#c_" x="434.68" y="181.41"/>
<use href="#c_" x="443.20" y="181.41"/>
<use href="#cr" x="451.72" y="181.41"/>
<use href="#c_" x="460.24" y="181.41"/>
<use href="#c_" x="468.76" y="181.41"/>
<use href="#cR" x="477.28" y="181.41"/>
<use href="#c_" x="485.80" y="181.41"/>
<use href="#c_" x="494.32" y="181.41"/>
<use href="#cb_" x="502.84" y="181.41"/>
<use href="#c_" x="511.36" y="181.41"/>
<use href="#c_" x="519.88" y="181.41"/>
<use href="#c_" x="528.40" y="181.41"/>
<use href="#c_" x="536.92" y="181.41"/>
<use href="#c_" x="545.44" y="181.41"/>
<use href="#c_" x="553.96" y="181.41"/>
<use href="#cR" x="562.48" y="181.41"/>
<use href="#c_" x="571.00" y="181.41"/>
<use href="#c_" x="579.52" y="181.41"/>
<use href="#c_" x="588.04" y="181.41"/>
<use href="#c_" x="596.56" y="181.41"/>
<use href="#c_" x="605.08" y="181.41"/>
<use href="#c_" x="613.60" y="181.41"/>
<use href="#c_" x="622.12" y="181.41"/>
<use href="#c_" x="630.64" y="181.41"/>
<use href="#c_" x="145.00" y="188.30"/>
<use href="#c_" x="153.52" y="188.30"/>
<use href="#c_" x="162.04" y="188.30"/>
<use href="#c_" x="170.56" y="188.30"/>
<use href="#c_" x="179.08" y="188.30"/>
<use href="#c_" x="187.60" y="188.30"/>
<use href="#c_" x="196.12" y="188.30"/>
<use href="#c_" x="204.64" y="188.30"/>
<use href="#c_" x="213.16" y="188.30"/>
<use href="#c_" x="221.68" y="188.30"/>
<use href="#c_" x="230.20" y="188.30"/>
<use href="#cR" x="238.72" y="188.30"/>
<use href="#c_" x="247.24" y="188.30"/>
<use href="#c_" x="255.76" y="188.30"/>
<use href="#c_" x="264.28" y="188.30"/>
<use href="#c_" x="272.80" y="188.30"/>
<use href="#c_" x="281.32" y="188.30"/>
<use href="#c_" x="289.84" y="188.30"/>
<use href="#c_" x="298.36" y="188.30"/>
<use href="#c_" x="306.88" y="188.30"/>
<use href="#c_" x="315.40" y="188.30"/>
<use href="#cB" x="323.92" y="188.30"/>
<use href="#c_" x="332.44" y="188.30"/>
<use href="#c_" x="340.96" y="188.30"/>
<use href="#c_" x="349.48" y="188.30"/>
<use href="#c_" x="358.00" y="188.30"/>
<use href="#cR" x="366.52" y="188.30"/>
<use href="#c_" x="375.04" y="188.30"/>
<use href="#c_" x="383.56" y="188.30"/>
<use href="#cr" x="392.08" y="188.30"/>
<use href="#c_" x="400.60" y="188.30"/>
<use href="#c_" x="409.12" y="188.30"/>
<use href="#c_" x="417.64" y="188.30"/>
<use href="#c_" x="426.16" y="188.30"/>
<use href="#cR" x="434.68" y="188.30"/>
<use href="#c_" x="443.20" y="188.30"/>
<use href="#cR" x="451.72" y="188.30"/>
<use href="#c_" x="460.24" y="188.30"/>
<use href="#c_" x="468.76" y="188.30"/>
<use href="#c_" x="477.28" y="188.30"/>
<use href="#c_" x="485.80" y="188.30"/>
<use href="#c_" x="494.32" y="188.30"/>
<use href="#c_" x="502.84" y="188.30"/>
<use href="#c_" x="511.36" y="188.30"/>
<use href="#c_" x="519.88" y="188.30"/>
<use href="#c_" x="528.40" y="188.30"/>
<use href="#c_" x="536.92" y="188.30"/>
<use href="#c_" x="545.44" y="188.30"/>
<use href="#c_" x="553.96" y="188.30"/>
<use href="#cR" x="562.48" y="188.30"/>
<use href="#c_" x="571.00" y="188.30"/>
<use href="#c_" x="579.52" y="188.30"/>
<use href="#c_" x="588.04" y="188.30"/>
<use href="#c_" x="596.56" y="188.30"/>
<use href="#c_" x="605.08" y="188.30"/>
<use href="#c_" x="613.60" y="188.30"/>
<use href="#c_" x="622.12" y="188.30"/>
<use href="#cr" x="630.64" y="188.30"/>
<use href="#c_" x="145.00" y="195.20"/>
<use href="#c_" x="153.52" y="195.20"/>
<use href="#c_" x="162.04" y="195.20"/>
<use href="#c_" x="170.56" y="195.20"/>
<use href="#c_" x="179.08" y="195.20"/>
<use href="#c_" x="187.60" y="195.20"/>
<use href="#c_" x="196.12" y="195.20"/>
<use href="#c_" x="204.64" y="195.20"/>
<use href="#c_" x="213.16" y="195.20"/>
<use href="#c_" x="221.68" y="195.20"/>
<use href="#c_" x="230.20" y="195.20"/>
<use href="#cR" x="238.72" y="195.20"/>
<use href="#c_" x="247.24" y="195.20"/>
<use href="#c_" x="255.76" y="195.20"/>
<use href="#c_" x="264.28" y="195.20"/>
<use href="#c_" x="272.80" y="195.20"/>
<use href="#c_" x="281.32" y="195.20"/>
<use href="#c_" x="289.84" y="195.20"/>
<use href="#c_" x="298.36" y="195.20"/>
<use href="#c_" x="306.88" y="195.20"/>
<use href="#c_" x="315.40" y="195.20"/>
<use href="#cB" x="323.92" y="195.20"/>
<use href="#c_" x="332.44" y="195.20"/>
<use href="#c_" x="340.96" y="195.20"/>
<use href="#c_" x="349.48" y="195.20"/>
<use href="#c_" x="358.00" y="195.20"/>
<use href="#c_" x="366.52" y="195.20"/>
<use href="#c_" x="375.04" y="195.20"/>
<use href="#c_" x="383.56" y="195.20"/>
<use href="#c_" x="392.08" y="195.20"/>
<use href="#c_" x="400.60" y="195.20"/>
<use href="#c_" x="409.12" y="195.20"/>
<use href="#c_" x="417.64" y="195.20"/>
<use href="#c_" x="426.16" y="195.20"/>
<use href="#c_" x="434.68" y="195.20"/>
<use href="#cR" x="443.20" y="195.20"/>
<use href="#c_" x="451.72" y="195.20"/>
<use href="#c_" x="460.24" y="195.20"/>
<use href="#c_" x="468.76" y="195.20"/>
<use href="#cR" x="477.28" y="195.20"/>
<use href="#c_" x="485.80" y="195.20"/>
<use href="#cB" x="494.32" y="195.20"/>
<use href="#cB" x="502.84" y="195.20"/>
<use href="#c_" x="511.36" y="195.20"/>
<use href="#c_" x="519.88" y="195.20"/>
<use href="#c_" x="528.40" y="195.20"/>
<use href="#c_" x="536.92" y="195.20"/>
<use href="#c_" x="545.44" y="195.20"/>
<use href="#cr" x="553.96" y="195.20"/>
<use href="#cr" x="562.48" y="195.20"/>
<use href="#c_" x="571.00" y="195.20"/>
<use href="#c_" x="579.52" y="195.20"/>
<use href="#c_" x="588.04" y="195.20"/>
<use href="#c_" x="596.56" y="195.20"/>
<use href="#c_" x="605.08" y="195.20"/>
<use href="#c_" x="613.60" y="195.20"/>
<use href="#c_" x="622.12" y="195.20"/>
<use href="#cr" x="630.64" y="195.20"/>
<use href="#c_" x="145.00" y="202.10"/>
<use href="#cR" x="153.52" y="202.10"/>
<use href="#cB" x="162.04" y="202.10"/>
<use href="#cB" x="170.56" y="202.10"/>
<use href="#c_" x="179.08" y="202.10"/>
<use href="#cB" x="187.60" y="202.10"/>
<use href="#cB" x="196.12" y="202.10"/>
<use href="#c_" x="204.64" y="202.10"/>
<use href="#c_" x="213.16" y="202.10"/>
<use href="#c_" x="221.68" y="202.10"/>
<use href="#c_" x="230.20" y="202.10"/>
<use href="#c_" x="238.72" y="202.10"/>
<use href="#c_" x="247.24" y="202.10"/>
<use href="#c_" x="255.76" y="202.10"/>
<use href="#c_" x="264.28" y="202.10"/>
<use href="#c_" x="272.80" y="202.10"/>
<use href="#cR" x="281.32" y="202.10"/>
<use href="#c_" x="289.84" y="202.10"/>
<use href="#c_" x="298.36" y="202.10"/>
<use href="#c_" x="306.88" y="202.10"/>
<use href="#c_" x="315.40" y="202.10"/>
<use href="#c_" x="323.92" y="202.10"/>
<use href="#c_" x="332.44" y="202.10"/>
<use href="#c_" x="340.96" y="202.10"/>
<use href="#c_" x="349.48" y="202.10"/>
<use href="#c_" x="358.00" y="202.10"/>
<use href="#c_" x="366.52" y="202.10"/>
<use href="#c_" x="375.04" y="202.10"/>
<use href="#c_" x="383.56" y="202.10"/>
<use href="#cR" x="392.08" y="202.10"/>
<use href="#c_" x="400.60" y="202.10"/>
<use href="#cR" x="409.12" y="202.10"/>
<use href="#c_" x="417.64" y="202.10"/>
<use href="#c_" x="426.16" y="202.10"/>
<use href="#cr" x="434.68" y="202.10"/>
<use href="#cr" x="443.20" y="202.10"/>
<use href="#c_" x="451.72" y="202.10"/>
<use href="#c_" x="460.24" y="202.10"/>
<use href="#c_" x="468.76" y="202.10"/>
<use href="#c_" x="477.28" y="202.10"/>
<use href="#cr" x="485.80" y="202.10"/>
<use href="#c_" x="494.32" y="202.10"/>
<use href="#c_" x="502.84" y="202.10"/>
<use href="#c_" x="511.36" y="202.10"/>
<use href="#c_" x="519.88" y="202.10"/>
<use href="#c_" x="528.40" y="202.10"/>
<use href="#cR" x="536.92" y="202.10"/>
<use href="#cr" x="545.44" y="202.10"/>
<use href="#c_" x="553.96" y="202.10"/>
<use href="#cr" x="562.48" y="202.10"/>
<use href="#c_" x="571.00" y="202.10"/>
<use href="#cR" x="579.52" y="202.10"/>
<use href="#c_" x="588.04" y="202.10"/>
<use href="#c_" x="596.56" y="202.10"/>
<use href="#c_" x="605.08" y="202.10"/>
<use href="#cr" x="613.60" y="202.10"/>
<use href="#c_" x="622.12" y="202.10"/>
<use href="#cR" x="630.64" y="202.10"/>
<use href="#c_" x="145.00" y="208.99"/>
<use href="#cr" x="153.52" y="208.99"/>
<use href="#cB" x="162.04" y="208.99"/>
<use href="#c_" x="170.56" y="208.99"/>
<use href="#c_" x="179.08" y="208.99"/>
<use href="#cB" x="187.60" y="208.99"/>
<use href="#c_" x="196.12" y="208.99"/>
<use href="#c_" x="204.64" y="208.99"/>
<use href="#c_" x="213.16" y="208.99"/>
<use href="#c_" x="221.68" y="208.99"/>
<use href="#c_" x="230.20" y="208.99"/>
<use href="#cR" x="238.72" y="208.99"/>
<use href="#cr" x="247.24" y="208.99"/>
<use href="#c_" x="255.76" y="208.99"/>
<use href="#c_" x="264.28" y="208.99"/>
<use href="#c_" x="272.80" y="208.99"/>
<use href="#cr" x="281.32" y="208.99"/>
<use href="#cr" x="289.84" y="208.99"/>
<use href="#c_" x="298.36" y="208.99"/>
<use href="#c_" x="306.88" y="208.99"/>
<use href="#c_" x="315.40" y="208.99"/>
<use href="#cB" x="323.92" y="208.99"/>
<use href="#c_" x="332.44" y="208.99"/>
<use href="#c_" x="340.96" y="208.99"/>
<use href="#c_" x="349.48" y="208.99"/>
<use href="#c_" x="358.00" y="208.99"/>
<use href="#cr" x="366.52" y="208.99"/>
<use href="#c_" x="375.04" y="208.99"/>
<use href="#c_" x="383.56" y="208.99"/>
<use href="#c_" x="392.08" y="208.99"/>
<use href="#c_" x="400.60" y="208.99"/>
<use href="#c_" x="409.12" y="208.99"/>
<use href="#c_" x="417.64" y="208.99"/>
<use href="#c_" x="426.16" y="208.99"/>
<use href="#c_" x="434.68" y="208.99"/>
<use href="#cR" x="443.20" y="208.99"/>
<use href="#cR" x="451.72" y="208.99"/>
<use href="#c_" x="460.24" y="208.99"/>
<use href="#c_" x="468.76" y="208.99"/>
<use href="#cr" x="477.28" y="208.99"/>
<use href="#c_" x="485.80" y="208.99"/>
<use href="#c_" x="494.32" y="208.99"/>
<use href="#c_" x="502.84" y="208.99"/>
<use href="#c_" x="511.36" y="208.99"/>
<use href="#c_" x="519.88" y="208.99"/>
<use href="#c_" x="528.40" y="208.99"/>
<use href="#c_" x="536.92" y="208.99"/>
<use href="#c_" x="545.44" y="208.99"/>
<use href="#c_" x="553.96" y="208.99"/>
<use href="#cR" x="562.48" y="208.99"/>
<use href="#c_" x="571.00" y="208.99"/>
<use href="#c_" x="579.52" y="208.99"/>
<use href="#c_" x="588.04" y="208.99"/>
<use href="#c_" x="596.56" y="208.99"/>
<use href="#c_" x="605.08" y="208.99"/>
<use href="#cr" x="613.60" y="208.99"/>
<use href="#c_" x="622.12" y="208.99"/>
<use href="#c_" x="630.64" y="208.99"/>
<use href="#c_" x="145.00" y="215.89"/>
<use href="#cr" x="153.52" y="215.89"/>
<use href="#c_" x="162.04" y="215.89"/>
<use href="#c_" x="170.56" y="215.89"/>
<use href="#c_" x="179.08" y="215.89"/>
<use href="#c_" x="187.60" y="215.89"/>
<use href="#c_" x="196.12" y="215.89"/>
<use href="#c_" x="204.64" y="215.89"/>
<use href="#c_" x="213.16" y="215.89"/>
<use href="#c_" x="221.68" y="215.89"/>
<use href="#c_" x="230.20" y="215.89"/>
<use href="#cR" x="238.72" y="215.89"/>
<use href="#cr" x="247.24" y="215.89"/>
<use href="#c_" x="255.76" y="215.89"/>
<use href="#c_" x="264.28" y="215.89"/>
<use href="#cr" x="272.80" y="215.89"/>
<use href="#cr" x="281.32" y="215.89"/>
<use href="#cR" x="289.84" y="215.89"/>
<use href="#c_" x="298.36" y="215.89"/>
<use href="#c_" x="306.88" y="215.89"/>
<use href="#cr" x="315.40" y="215.89"/>
<use href="#cB" x="323.92" y="215.89"/>
<use href="#c_" x="332.44" y="215.89"/>
<use href="#c_" x="340.96" y="215.89"/>
<use href="#c_" x="349.48" y="215.89"/>
<use href="#c_" x="358.00" y="215.89"/>
<use href="#cR" x="366.52" y="215.89"/>
<use href="#c_" x="375.04" y="215.89"/>
<use href="#c_" x="383.56" y="215.89"/>
<use href="#c_" x="392.08" y="215.89"/>
<use href="#c_" x="400.60" y="215.89"/>
<use href="#c_" x="409.12" y="215.89"/>
<use href="#c_" x="417.64" y="215.89"/>
<use href="#c_" x="426.16" y="215.89"/>
<use href="#c_" x="434.68" y="215.89"/>
<use href="#cR" x="443.20" y="215.89"/>
<use href="#cR" x="451.72" y="215.89"/>
<use href="#c_" x="460.24" y="215.89"/>
<use href="#cr" x="468.76" y="215.89"/>
<use href="#cR" x="477.28" y="215.89"/>
<use href="#c_" x="485.80" y="215.89"/>
<use href="#c_" x="494.32" y="215.89"/>
<use href="#c_" x="502.84" y="215.89"/>
<use href="#c_" x="511.36" y="215.89"/>
<use href="#c_" x="519.88" y="215.89"/>
<use href="#c_" x="528.40" y="215.89"/>
<use href="#c_" x="536.92" y="215.89"/>
<use href="#c_" x="545.44" y="215.89"/>
<use href="#c_" x="553.96" y="215.89"/>
<use href="#c_" x="562.48" y="215.89"/>
<use href="#c_" x="571.00" y="215.89"/>
<use href="#c_" x="579.52" y="215.89"/>
<use href="#c_" x="588.04" y="215.89"/>
<use href="#c_" x="596.56" y="215.89"/>
<use href="#c_" x="605.08" y="215.89"/>
<use href="#c_" x="613.60" y="215.89"/>
<use href="#cR" x="622.12" y="215.89"/>
<use href="#c_" x="630.64" y="215.89"/>
<use href="#c_" x="145.00" y="222.78"/>
<use href="#cR" x="153.52" y="222.78"/>
<use href="#cb_" x="162.04" y="222.78"/>
<use href="#c_" x="170.56" y="222.78"/>
<use href="#c_" x="179.08" y="222.78"/>
<use href="#cB" x="187.60" y="222.78"/>
<use href="#cb_" x="196.12" y="222.78"/>
<use href="#c_" x="204.64" y="222.78"/>
<use href="#c_" x="213.16" y="222.78"/>
<use href="#c_" x="221.68" y="222.78"/>
<use href="#c_" x="230.20" y="222.78"/>
<use href="#cR" x="238.72" y="222.78"/>
<use href="#cr" x="247.24" y="222.78"/>
<use href="#c_" x="255.76" y="222.78"/>
<use href="#c_" x="264.28" y="222.78"/>
<use href="#c_" x="272.80" y="222.78"/>
<use href="#cR" x="281.32" y="222.78"/>
<use href="#cR" x="289.84" y="222.78"/>
<use href="#c_" x="298.36" y="222.78"/>
<use href="#c_" x="306.88" y="222.78"/>
<use href="#c_" x="315.40" y="222.78"/>
<use href="#cB" x="323.92" y="222.78"/>
<use href="#c_" x="332.44" y="222.78"/>
<use href="#c_" x="340.96" y="222.78"/>
<use href="#c_" x="349.48" y="222.78"/>
<use href="#c_" x="358.00" y="222.78"/>
<use href="#cR" x="366.52" y="222.78"/>
<use href="#c_" x="375.04" y="222.78"/>
<use href="#cr" x="383.56" y="222.78"/>
<use href="#cR" x="392.08" y="222.78"/>
<use href="#c_" x="400.60" y="222.78"/>
<use href="#c_" x="409.12" y="222.78"/>
<use href="#cR" x="417.64" y="222.78"/>
<use href="#c_" x="426.16" y="222.78"/>
<use href="#cr" x="434.68" y="222.78"/>
<use href="#c_" x="443.20" y="222.78"/>
<use href="#cR" x="451.72" y="222.78"/>
<use href="#c_" x="460.24" y="222.78"/>
<use href="#cr" x="468.76" y="222.78"/>
<use href="#cr" x="477.28" y="222.78"/>
<use href="#c_" x="485.80" y="222.78"/>
<use href="#c_" x="494.32" y="222.78"/>
<use href="#c_" x="502.84" y="222.78"/>
<use href="#cr" x="511.36" y="222.78"/>
<use href="#c_" x="519.88" y="222.78"/>
<use href="#c_" x="528.40" y="222.78"/>
<use href="#c_" x="536.92" y="222.78"/>
<use href="#c_" x="545.44" y="222.78"/>
<use href="#c_" x="553.96" y="222.78"/>
<use href="#cR" x="562.48" y="222.78"/>
<use href="#c_" x="571.00" y="222.78"/>
<use href="#c_" x="579.52" y="222.78"/>
<use href="#c_" x="588.04" y="222.78"/>
<use href="#c_" x="596.56" y="222.78"/>
<use href="#c_" x="605.08" y="222.78"/>
<use href="#c_" x="613.60" y="222.78"/>
<use href="#cr" x="622.12" y="222.78"/>
<use href="#c_" x="630.64" y="222.78"/>
<use href="#c_" x="145.00" y="229.68"/>
<use href="#cR" x="153.52" y="229.68"/>
<use href="#cB" x="162.04" y="229.68"/>
<use href="#c_" x="170.56" y="229.68"/>
<use href="#c_" x="179.08" y="229.68"/>
<use href="#cB" x="187.60" y="229.68"/>
<use href="#cB" x="196.12" y="229.68"/>
<use href="#c_" x="204.64" y="229.68"/>
<use href="#c_" x="213.16" y="229.68"/>
<use href="#c_" x="221.68" y="229.68"/>
<use href="#c_" x="230.20" y="229.68"/>
<use href="#cR" x="238.72" y="229.68"/>
<use href="#cR" x="247.24" y="229.68"/>
<use href="#c_" x="255.76" y="229.68"/>
<use href="#c_" x="264.28" y="229.68"/>
<use href="#c_" x="272.80" y="229.68"/>
<use href="#c_" x="281.32" y="229.68"/>
<use href="#cR" x="289.84" y="229.68"/>
<use href="#c_" x="298.36" y="229.68"/>
<use href="#c_" x="306.88" y="229.68"/>
<use href="#cR" x="315.40" y="229.68"/>
<use href="#cb_" x="323.92" y="229.68"/>
<use href="#c_" x="332.44" y="229.68"/>
<use href="#c_" x="340.96" y="229.68"/>
<use href="#c_" x="349.48" y="229.68"/>
<use href="#c_" x="358.00" y="229.68"/>
<use href="#cr" x="366.52" y="229.68"/>
<use href="#c_" x="375.04" y="229.68"/>
<use href="#cR" x="383.56" y="229.68"/>
<use href="#cr" x="392.08" y="229.68"/>
<use href="#c_" x="400.60" y="229.68"/>
<use href="#c_" x="409.12" y="229.68"/>
<use href="#cr" x="417.64" y="229.68"/>
<use href="#c_" x="426.16" y="229.68"/>
<use href="#c_" x="434.68" y="229.68"/>
<use href="#c_" x="443.20" y="229.68"/>
<use href="#cR" x="451.72" y="229.68"/>
<use href="#c_" x="460.24" y="229.68"/>
<use href="#c_" x="468.76" y="229.68"/>
<use href="#c_" x="477.28" y="229.68"/>
<use href="#c_" x="485.80" y="229.68"/>
<use href="#c_" x="494.32" y="229.68"/>
<use href="#c_" x="502.84" y="229.68"/>
<use href="#c_" x="511.36" y="229.68"/>
<use href="#c_" x="519.88" y="229.68"/>
<use href="#c_" x="528.40" y="229.68"/>
<use href="#c_" x="536.92" y="229.68"/>
<use href="#c_" x="545.44" y="229.68"/>
<use href="#c_" x="553.96" y="229.68"/>
<use href="#c_" x="562.48" y="229.68"/>
<use href="#c_" x="571.00" y="229.68"/>
<use href="#c_" x="579.52" y="229.68"/>
<use href="#c_" x="588.04" y="229.68"/>
<use href="#c_" x="596.56" y="229.68"/>
<use href="#c_" x="605.08" y="229.68"/>
<use href="#c_" x="613.60" y="229.68"/>
<use href="#cR" x="622.12" y="229.68"/>
<use href="#c_" x="630.64" y="229.68"/>
<use href="#cb_" x="145.00" y="236.58"/>
<use href="#c_" x="153.52" y="236.58"/>
<use href="#c_" x="162.04" y="236.58"/>
<use href="#c_" x="170.56" y="236.58"/>
<use href="#cb_" x="179.08" y="236.58"/>
<use href="#c_" x="187.60" y="236.58"/>
<use href="#c_" x="196.12" y="236.58"/>
<use href="#c_" x="204.64" y="236.58"/>
<use href="#c_" x="213.16" y="236.58"/>
<use href="#c_" x="221.68" y="236.58"/>
<use href="#c_" x="230.20" y="236.58"/>
<use href="#c_" x="238.72" y="236.58"/>
<use href="#cr" x="247.24" y="236.58"/>
<use href="#c_" x="255.76" y="236.58"/>
<use href="#cb_" x="264.28" y="236.58"/>
<use href="#cr" x="272.80" y="236.58"/>
<use href="#c_" x="281.32" y="236.58"/>
<use href="#c_" x="289.84" y="236.58"/>
<use href="#c_" x="298.36" y="236.58"/>
<use href="#cB" x="306.88" y="236.58"/>
<use href="#c_" x="315.40" y="236.58"/>
<use href="#c_" x="323.92" y="236.58"/>
<use href="#cB" x="332.44" y="236.58"/>
<use href="#cb_" x="340.96" y="236.58"/>
<use href="#c_" x="349.48" y="236.58"/>
<use href="#c_" x="358.00" y="236.58"/>
<use href="#c_" x="366.52" y="236.58"/>
<use href="#c_" x="375.04" y="236.58"/>
<use href="#c_" x="383.56" y="236.58"/>
<use href="#c_" x="392.08" y="236.58"/>
<use href="#c_" x="400.60" y="236.58"/>
<use href="#c_" x="409.12" y="236.58"/>
<use href="#c_" x="417.64" y="236.58"/>
<use href="#c_" x="426.16" y="236.58"/>
<use href="#c_" x="434.68" y="236.58"/>
<use href="#c_" x="443.20" y="236.58"/>
<use href="#c_" x="451.72" y="236.58"/>
<use href="#c_" x="460.24" y="236.58"/>
<use href="#c_" x="468.76" y="236.58"/>
<use href="#c_" x="477.28" y="236.58"/>
<use href="#c_" x="485.80" y="236.58"/>
<use href="#cB" x="494.32" y="236.58"/>
<use href="#c_" x="502.84" y="236.58"/>
<use href="#cB" x="511.36" y="236.58"/>
<use href="#c_" x="519.88" y="236.58"/>
<use href="#c_" x="528.40" y="236.58"/>
<use href="#cb_" x="536.92" y="236.58"/>
<use href="#c_" x="545.44" y="236.58"/>
<use href="#c_" x="553.96" y="236.58"/>
<use href="#c_" x="562.48" y="236.58"/>
<use href="#cB" x="571.00" y="236.58"/>
<use href="#c_" x="579.52" y="236.58"/>
<use href="#c_" x="588.04" y="236.58"/>
<use href="#c_" x="596.56" y="236.58"/>
<use href="#c_" x="605.08" y="236.58"/>
<use href="#c_" x="613.60" y="236.58"/>
<use href="#c_" x="622.12" y="236.58"/>
<use href="#c_" x="630.64" y="236.58"/>
<use href="#c_" x="145.00" y="243.47"/>
<use href="#c_" x="153.52" y="243.47"/>
<use href="#c_" x="162.04" y="243.47"/>
<use href="#c_" x="170.56" y="243.47"/>
<use href="#c_" x="179.08" y="243.47"/>
<use href="#c_" x="187.60" y="243.47"/>
<use href="#c_" x="196.12" y="243.47"/>
<use href="#c_" x="204.64" y="243.47"/>
<use href="#c_" x="213.16" y="243.47"/>
<use href="#c_" x="221.68" y="243.47"/>
<use href="#c_" x="230.20" y="243.47"/>
<use href="#c_" x="238.72" y="243.47"/>
<use href="#c_" x="247.24" y="243.47"/>
<use href="#c_" x="255.76" y="243.47"/>
<use href="#c_" x="264.28" y="243.47"/>
<use href="#c_" x="272.80" y="243.47"/>
<use href="#c_" x="281.32" y="243.47"/>
<use href="#c_" x="289.84" y="243.47"/>
<use href="#c_" x="298.36" y="243.47"/>
<use href="#cb_" x="306.88" y="243.47"/>
<use href="#c_" x="315.40" y="243.47"/>
<use href="#c_" x="323.92" y="243.47"/>
<use href="#cB" x="332.44" y="243.47"/>
<use href="#cb_" x="340.96" y="243.47"/>
<use href="#c_" x="349.48" y="243.47"/>
<use href="#cb_" x="358.00" y="243.47"/>
<use href="#c_" x="366.52" y="243.47"/>
<use href="#c_" x="375.04" y="243.47"/>
<use href="#cb_" x="383.56" y="243.47"/>
<use href="#c_" x="392.08" y="243.47"/>
<use href="#c_" x="400.60" y="243.47"/>
<use href="#c_" x="409.12" y="243.47"/>
<use href="#c_" x="417.64" y="243.47"/>
<use href="#cb_" x="426.16" y="243.47"/>
<use href="#c_" x="434.68" y="243.47"/>
<use href="#cr" x="443.20" y="243.47"/>
<use href="#c_" x="451.72" y="243.47"/>
<use href="#cb_" x="460.24" y="243.47"/>
<use href="#c_" x="468.76" y="243.47"/>
<use href="#c_" x="477.28" y="243.47"/>
<use href="#c_" x="485.80" y="243.47"/>
<use href="#cB" x="494.32" y="243.47"/>
<use href="#c_" x="502.84" y="243.47"/>
<use href="#c_" x="511.36" y="243.47"/>
<use href="#cB" x="519.88" y="243.47"/>
<use href="#c_" x="528.40" y="243.47"/>
<use href="#cB" x="536.92" y="243.47"/>
<use href="#c_" x="545.44" y="243.47"/>
<use href="#c_" x="553.96" y="243.47"/>
<use href="#c_" x="562.48" y="243.47"/>
<use href="#cB" x="571.00" y="243.47"/>
<use href="#c_" x="579.52" y="243.47"/>
<use href="#c_" x="588.04" y="243.47"/>
<use href="#c_" x="596.56" y="243.47"/>
<use href="#c_" x="605.08" y="243.47"/>
<use href="#c_" x="613.60" y="243.47"/>
<use href="#c_" x="622.12" y="243.47"/>
<use href="#c_" x="630.64" y="243.47"/>
<use href="#c_" x="145.00" y="250.37"/>
<use href="#c_" x="153.52" y="250.37"/>
<use href="#cr" x="162.04" y="250.37"/>
<use href="#cr" x="170.56" y="250.37"/>
<use href="#cb_" x="179.08" y="250.37"/>
<use href="#c_" x="187.60" y="250.37"/>
<use href="#c_" x="196.12" y="250.37"/>
<use href="#c_" x="204.64" y="250.37"/>
<use href="#c_" x="213.16" y="250.37"/>
<use href="#c_" x="221.68" y="250.37"/>
<use href="#c_" x="230.20" y="250.37"/>
<use href="#c_" x="238.72" y="250.37"/>
<use href="#c_" x="247.24" y="250.37"/>
<use href="#c_" x="255.76" y="250.37"/>
<use href="#c_" x="264.28" y="250.37"/>
<use href="#c_" x="272.80" y="250.37"/>
<use href="#c_" x="281.32" y="250.37"/>
<use href="#c_" x="289.84" y="250.37"/>
<use href="#c_" x="298.36" y="250.37"/>
<use href="#cB" x="306.88" y="250.37"/>
<use href="#c_" x="315.40" y="250.37"/>
<use href="#c_" x="323.92" y="250.37"/>
<use href="#cB" x="332.44" y="250.37"/>
<use href="#cb_" x="340.96" y="250.37"/>
<use href="#c_" x="349.48" y="250.37"/>
<use href="#c_" x="358.00" y="250.37"/>
<use href="#c_" x="366.52" y="250.37"/>
<use href="#c_" x="375.04" y="250.37"/>
<use href="#cb_" x="383.56" y="250.37"/>
<use href="#c_" x="392.08" y="250.37"/>
<use href="#c_" x="400.60" y="250.37"/>
<use href="#cb_" x="409.12" y="250.37"/>
<use href="#c_" x="417.64" y="250.37"/>
<use href="#cb_" x="426.16" y="250.37"/>
<use href="#c_" x="434.68" y="250.37"/>
<use href="#c_" x="443.20" y="250.37"/>
<use href="#c_" x="451.72" y="250.37"/>
<use href="#c_" x="460.24" y="250.37"/>
<use href="#c_" x="468.76" y="250.37"/>
<use href="#c_" x="477.28" y="250.37"/>
<use href="#c_" x="485.80" y="250.37"/>
<use href="#c_" x="494.32" y="250.37"/>
<use href="#c_" x="502.84" y="250.37"/>
<use href="#cb_" x="511.36" y="250.37"/>
<use href="#c_" x="519.88" y="250.37"/>
<use href="#c_" x="528.40" y="250.37"/>
<use href="#cB" x="536.92" y="250.37"/>
<use href="#c_" x="545.44" y="250.37"/>
<use href="#c_" x="553.96" y="250.37"/>
<use href="#c_" x="562.48" y="250.37"/>
<use href="#cB" x="571.00" y="250.37"/>
<use href="#cb_" x="579.52" y="250.37"/>
<use href="#c_" x="588.04" y="250.37"/>
<use href="#c_" x="596.56" y="250.37"/>
<use href="#c_" x="605.08" y="250.37"/>
<use href="#c_" x="613.60" y="250.37"/>
<use href="#c_" x="622.12" y="250.37"/>
<use href="#c_" x="630.64" y="250.37"/>
<use href="#cB" x="145.00" y="257.26"/>
<use href="#cB" x="153.52" y="257.26"/>
<use href="#c_" x="162.04" y="257.26"/>
<use href="#cr" x="170.56" y="257.26"/>
<use href="#cB" x="179.08" y="257.26"/>
<use href="#c_" x="187.60" y="257.26"/>
<use href="#c_" x="196.12" y="257.26"/>
<use href="#c_" x="204.64" y="257.26"/>
<use href="#c_" x="213.16" y="257.26"/>
<use href="#c_" x="221.68" y="257.26"/>
<use href="#c_" x="230.20" y="257.26"/>
<use href="#c_" x="238.72" y="257.26"/>
<use href="#c_" x="247.24" y="257.26"/>
<use href="#c_" x="255.76" y="257.26"/>
<use href="#c_" x="264.28" y="257.26"/>
<use href="#c_" x="272.80" y="257.26"/>
<use href="#c_" x="281.32" y="257.26"/>
<use href="#c_" x="289.84" y="257.26"/>
<use href="#c_" x="298.36" y="257.26"/>
<use href="#cb_" x="306.88" y="257.26"/>
<use href="#c_" x="315.40" y="257.26"/>
<use href="#c_" x="323.92" y="257.26"/>
<use href="#cB" x="332.44" y="257.26"/>
<use href="#c_" x="340.96" y="257.26"/>
<use href="#c_" x="349.48" y="257.26"/>
<use href="#c_" x="358.00" y="257.26"/>
<use href="#c_" x="366.52" y="257.26"/>
<use href="#c_" x="375.04" y="257.26"/>
<use href="#cB" x="383.56" y="257.26"/>
<use href="#c_" x="392.08" y="257.26"/>
<use href="#c_" x="400.60" y="257.26"/>
<use href="#c_" x="409.12" y="257.26"/>
<use href="#c_" x="417.64" y="257.26"/>
<use href="#c_" x="426.16" y="257.26"/>
<use href="#c_" x="434.68" y="257.26"/>
<use href="#c_" x="443.20" y="257.26"/>
<use href="#c_" x="451.72" y="257.26"/>
<use href="#c_" x="460.24" y="257.26"/>
<use href="#c_" x="468.76" y="257.26"/>
<use href="#cb_" x="477.28" y="257.26"/>
<use href="#c_" x="485.80" y="257.26"/>
<use href="#c_" x="494.32" y="257.26"/>
<use href="#cr" x="502.84" y="257.26"/>
<use href="#c_" x="511.36" y="257.26"/>
<use href="#cB" x="519.88" y="257.26"/>
<use href="#c_" x="528.40" y="257.26"/>
<use href="#cb_" x="536.92" y="257.26"/>
<use href="#c_" x="545.44" y="257.26"/>
<use href="#c_" x="553.96" y="257.26"/>
<use href="#c_" x="562.48" y="257.26"/>
<use href="#cb_" x="571.00" y="257.26"/>
<use href="#cb_" x="579.52" y="257.26"/>
<use href="#c_" x="588.04" y="257.26"/>
<use href="#c_" x="596.56" y="257.26"/>
<use href="#c_" x="605.08" y="257.26"/>
<use href="#c_" x="613.60" y="257.26"/>
<use href="#c_" x="622.12" y="257.26"/>
<use href="#c_" x="630.64" y="257.26"/>
<use href="#c_" x="145.00" y="264.16"/>
<use href="#cb_" x="153.52" y="264.16"/>
<use href="#c_" x="162.04" y="264.16"/>
<use href="#cR" x="170.56" y="264.16"/>
<use href="#cb_" x="179.08" y="264.16"/>
<use href="#c_" x="187.60" y="264.16"/>
<use href="#c_" x="196.12" y="264.16"/>
<use href="#c_" x="204.64" y="264.16"/>
<use href="#c_" x="213.16" y="264.16"/>
<use href="#c_" x="221.68" y="264.16"/>
<use href="#c_" x="230.20" y="264.16"/>
<use href="#c_" x="238.72" y="264.16"/>
<use href="#c_" x="247.24" y="264.16"/>
<use href="#c_" x="255.76" y="264.16"/>
<use href="#c_" x="264.28" y="264.16"/>
<use href="#c_" x="272.80" y="264.16"/>
<use href="#c_" x="281.32" y="264.16"/>
<use href="#c_" x="289.84" y="264.16"/>
<use href="#c_" x="298.36" y="264.16"/>
<use href="#cb_" x="306.88" y="264.16"/>
<use href="#c_" x="315.40" y="264.16"/>
<use href="#c_" x="323.92" y="264.16"/>
<use href="#cB" x="332.44" y="264.16"/>
<use href="#c_" x="340.96" y="264.16"/>
<use href="#c_" x="349.48" y="264.16"/>
<use href="#c_" x="358.00" y="264.16"/>
<use href="#c_" x="366.52" y="264.16"/>
<use href="#c_" x="375.04" y="264.16"/>
<use href="#c_" x="383.56" y="264.16"/>
<use href="#c_" x="392.08" y="264.16"/>
<use href="#c_" x="400.60" y="264.16"/>
<use href="#c_" x="409.12" y="264.16"/>
<use href="#cr" x="417.64" y="264.16"/>
<use href="#c_" x="426.16" y="264.16"/>
<use href="#c_" x="434.68" y="264.16"/>
<use href="#c_" x="443.20" y="264.16"/>
<use href="#c_" x="451.72" y="264.16"/>
<use href="#c_" x="460.24" y="264.16"/>
<use href="#c_" x="468.76" y="264.16"/>
<use href="#c_" x="477.28" y="264.16"/>
<use href="#c_" x="485.80" y="264.16"/>
<use href="#c_" x="494.32" y="264.16"/>
<use href="#cR" x="502.84" y="264.16"/>
<use href="#c_" x="511.36" y="264.16"/>
<use href="#cb_" x="519.88" y="264.16"/>
<use href="#cR" x="528.40" y="264.16"/>
<use href="#c_" x="536.92" y="264.16"/>
<use href="#c_" x="545.44" y="264.16"/>
<use href="#c_" x="553.96" y="264.16"/>
<use href="#c_" x="562.48" y="264.16"/>
<use href="#cB" x="571.00" y="264.16"/>
<use href="#c_" x="579.52" y="264.16"/>
<use href="#c_" x="588.04" y="264.16"/>
<use href="#cr" x="596.56" y="264.16"/>
<use href="#c_" x="605.08" y="264.16"/>
<use href="#c_" x="613.60" y="264.16"/>
<use href="#c_" x="622.12" y="264.16"/>
<use href="#cB" x="630.64" y="264.16"/>
<use href="#cb_" x="145.00" y="271.06"/>
<use href="#cB" x="153.52" y="271.06"/>
<use href="#c_" x="162.04" y="271.06"/>
<use href="#cR" x="170.56" y="271.06"/>
<use href="#cb_" x="179.08" y="271.06"/>
<use href="#c_" x="187.60" y="271.06"/>
<use href="#c_" x="196.12" y="271.06"/>
<use href="#c_" x="204.64" y="271.06"/>
<use href="#c_" x="213.16" y="271.06"/>
<use href="#c_" x="221.68" y="271.06"/>
<use href="#c_" x="230.20" y="271.06"/>
<use href="#cB" x="238.72" y="271.06"/>
<use href="#c_" x="247.24" y="271.06"/>
<use href="#c_" x="255.76" y="271.06"/>
<use href="#c_" x="264.28" y="271.06"/>
<use href="#c_" x="272.80" y="271.06"/>
<use href="#c_" x="281.32" y="271.06"/>
<use href="#c_" x="289.84" y="271.06"/>
<use href="#cb_" x="298.36" y="271.06"/>
<use href="#cb_" x="306.88" y="271.06"/>
<use href="#c_" x="315.40" y="271.06"/>
<use href="#cr" x="323.92" y="271.06"/>
<use href="#cb_" x="332.44" y="271.06"/>
<use href="#cB" x="340.96" y="271.06"/>
<use href="#c_" x="349.48" y="271.06"/>
<use href="#c_" x="358.00" y="271.06"/>
<use href="#cb_" x="366.52" y="271.06"/>
<use href="#c_" x="375.04" y="271.06"/>
<use href="#cb_" x="383.56" y="271.06"/>
<use href="#cb_" x="392.08" y="271.06"/>
<use href="#c_" x="400.60" y="271.06"/>
<use href="#c_" x="409.12" y="271.06"/>
<use href="#c_" x="417.64" y="271.06"/>
<use href="#c_" x="426.16" y="271.06"/>
<use href="#c_" x="434.68" y="271.06"/>
<use href="#cb_" x="443.20" y="271.06"/>
<use href="#cB" x="451.72" y="271.06"/>
<use href="#c_" x="460.24" y="271.06"/>
<use href="#c_" x="468.76" y="271.06"/>
<use href="#c_" x="477.28" y="271.06"/>
<use href="#c_" x="485.80" y="271.06"/>
<use href="#c_" x="494.32" y="271.06"/>
<use href="#c_" x="502.84" y="271.06"/>
<use href="#c_" x="511.36" y="271.06"/>
<use href="#c_" x="519.88" y="271.06"/>
<use href="#c_" x="528.40" y="271.06"/>
<use href="#cb_" x="536.92" y="271.06"/>
<use href="#c_" x="545.44" y="271.06"/>
<use href="#c_" x="553.96" y="271.06"/>
<use href="#cb_" x="562.48" y="271.06"/>
<use href="#c_" x="571.00" y="271.06"/>
<use href="#cb_" x="579.52" y="271.06"/>
<use href="#c_" x="588.04" y="271.06"/>
<use href="#cr" x="596.56" y="271.06"/>
<use href="#c_" x="605.08" y="271.06"/>
<use href="#cB" x="613.60" y="271.06"/>
<use href="#c_" x="622.12" y="271.06"/>
<use href="#c_" x="630.64" y="271.06"/>
<use href="#c_" x="145.00" y="277.95"/>
<use href="#c_" x="153.52" y="277.95"/>
<use href="#c_" x="162.04" y="277.95"/>
<use href="#c_" x="170.56" y="277.95"/>
<use href="#c_" x="179.08" y="277.95"/>
<use href="#c_" x="187.60" y="277.95"/>
<use href="#c_" x="196.12" y="277.95"/>
<use href="#c_" x="204.64" y="277.95"/>
<use href="#c_" x="213.16" y="277.95"/>
<use href="#c_" x="221.68" y="277.95"/>
<use href="#c_" x="230.20" y="277.95"/>
<use href="#cB" x="238.72" y="277.95"/>
<use href="#c_" x="247.24" y="277.95"/>
<use href="#c_" x="255.76" y="277.95"/>
<use href="#cB" x="264.28" y="277.95"/>
<use href="#c_" x="272.80" y="277.95"/>
<use href="#c_" x="281.32" y="277.95"/>
<use href="#c_" x="289.84" y="277.95"/>
<use href="#c_" x="298.36" y="277.95"/>
<use href="#cB" x="306.88" y="277.95"/>
<use href="#c_" x="315.40" y="277.95"/>
<use href="#c_" x="323.92" y="277.95"/>
<use href="#cb_" x="332.44" y="277.95"/>
<use href="#c_" x="340.96" y="277.95"/>
<use href="#c_" x="349.48" y="277.95"/>
<use href="#c_" x="358.00" y="277.95"/>
<use href="#cb_" x="366.52" y="277.95"/>
<use href="#c_" x="375.04" y="277.95"/>
<use href="#cB" x="383.56" y="277.95"/>
<use href="#cB" x="392.08" y="277.95"/>
<use href="#c_" x="400.60" y="277.95"/>
<use href="#cB" x="409.12" y="277.95"/>
<use href="#c_" x="417.64" y="277.95"/>
<use href="#c_" x="426.16" y="277.95"/>
<use href="#cr" x="434.68" y="277.95"/>
<use href="#cb_" x="443.20" y="277.95"/>
<use href="#cb_" x="451.72" y="277.95"/>
<use href="#c_" x="460.24" y="277.95"/>
<use href="#c_" x="468.76" y="277.95"/>
<use href="#cB" x="477.28" y="277.95"/>
<use href="#c_" x="485.80" y="277.95"/>
<use href="#c_" x="494.32" y="277.95"/>
<use href="#c_" x="502.84" y="277.95"/>
<use href="#c_" x="511.36" y="277.95"/>
<use href="#c_" x="519.88" y="277.95"/>
<use href="#c_" x="528.40" y="277.95"/>
<use href="#c_" x="536.92" y="277.95"/>
<use href="#cb_" x="545.44" y="277.95"/>
<use href="#c_" x="553.96" y="277.95"/>
<use href="#c_" x="562.48" y="277.95"/>
<use href="#cb_" x="571.00" y="277.95"/>
<use href="#c_" x="579.52" y="277.95"/>
<use href="#c_" x="588.04" y="277.95"/>
<use href="#c_" x="596.56" y="277.95"/>
<use href="#c_" x="605.08" y="277.95"/>
<use href="#c_" x="613.60" y="277.95"/>
<use href="#c_" x="622.12" y="277.95"/>
<use href="#c_" x="630.64" y="277.95"/>
<use href="#cb_" x="145.00" y="284.85"/>
<use href="#cB" x="153.52" y="284.85"/>
<use href="#cr" x="162.04" y="284.85"/>
<use href="#cR" x="170.56" y="284.85"/>
<use href="#c_" x="179.08" y="284.85"/>
<use href="#c_" x="187.60" y="284.85"/>
<use href="#cr" x="196.12" y="284.85"/>
<use href="#c_" x="204.64" y="284.85"/>
<use href="#c_" x="213.16" y="284.85"/>
<use href="#c_" x="221.68" y="284.85"/>
<use href="#c_" x="230.20" y="284.85"/>
<use href="#cB" x="238.72" y="284.85"/>
<use href="#c_" x="247.24" y="284.85"/>
<use href="#c_" x="255.76" y="284.85"/>
<use href="#c_" x="264.28" y="284.85"/>
<use href="#cR" x="272.80" y="284.85"/>
<use href="#c_" x="281.32" y="284.85"/>
<use href="#c_" x="289.84" y="284.85"/>
<use href="#c_" x="298.36" y="284.85"/>
<use href="#c_" x="306.88" y="284.85"/>
<use href="#c_" x="315.40" y="284.85"/>
<use href="#c_" x="323.92" y="284.85"/>
<use href="#c_" x="332.44" y="284.85"/>
<use href="#c_" x="340.96" y="284.85"/>
<use href="#c_" x="349.48" y="284.85"/>
<use href="#c_" x="358.00" y="284.85"/>
<use href="#cb_" x="366.52" y="284.85"/>
<use href="#c_" x="375.04" y="284.85"/>
<use href="#cb_" x="383.56" y="284.85"/>
<use href="#cb_" x="392.08" y="284.85"/>
<use href="#c_" x="400.60" y="284.85"/>
<use href="#cb_" x="409.12" y="284.85"/>
<use href="#c_" x="417.64" y="284.85"/>
<use href="#c_" x="426.16" y="284.85"/>
<use href="#c_" x="434.68" y="284.85"/>
<use href="#cb_" x="443.20" y="284.85"/>
<use href="#cb_" x="451.72" y="284.85"/>
<use href="#c_" x="460.24" y="284.85"/>
<use href="#cb_" x="468.76" y="284.85"/>
<use href="#cb_" x="477.28" y="284.85"/>
<use href="#cb_" x="485.80" y="284.85"/>
<use href="#c_" x="494.32" y="284.85"/>
<use href="#c_" x="502.84" y="284.85"/>
<use href="#cb_" x="511.36" y="284.85"/>
<use href="#c_" x="519.88" y="284.85"/>
<use href="#c_" x="528.40" y="284.85"/>
<use href="#cb_" x="536.92" y="284.85"/>
<use href="#c_" x="545.44" y="284.85"/>
<use href="#c_" x="553.96" y="284.85"/>
<use href="#c_" x="562.48" y="284.85"/>
<use href="#c_" x="571.00" y="284.85"/>
<use href="#cb_" x="579.52" y="284.85"/>
<use href="#c_" x="588.04" y="284.85"/>
<use href="#c_" x="596.56" y="284.85"/>
<use href="#c_" x="605.08" y="284.85"/>
<use href="#c_" x="613.60" y="284.85"/>
<use href="#c_" x="622.12" y="284.85"/>
<use href="#cb_" x="630.64" y="284.85"/>
<use href="#cb_" x="145.00" y="291.74"/>
<use href="#cB" x="153.52" y="291.74"/>
<use href="#c_" x="162.04" y="291.74"/>
<use href="#c_" x="170.56" y="291.74"/>
<use href="#c_" x="179.08" y="291.74"/>
<use href="#c_" x="187.60" y="291.74"/>
<use href="#c_" x="196.12" y="291.74"/>
<use href="#c_" x="204.64" y="291.74"/>
<use href="#c_" x="213.16" y="291.74"/>
<use href="#c_" x="221.68" y="291.74"/>
<use href="#c_" x="230.20" y="291.74"/>
<use href="#c_" x="238.72" y="291.74"/>
<use href="#c_" x="247.24" y="291.74"/>
<use href="#c_" x="255.76" y="291.74"/>
<use href="#c_" x="264.28" y="291.74"/>
<use href="#c_" x="272.80" y="291.74"/>
<use href="#c_" x="281.32" y="291.74"/>
<use href="#c_" x="289.84" y="291.74"/>
<use href="#c_" x="298.36" y="291.74"/>
<use href="#cb_" x="306.88" y="291.74"/>
<use href="#cb_" x="315.40" y="291.74"/>
<use href="#c_" x="323.92" y="291.74"/>
<use href="#cB" x="332.44" y="291.74"/>
<use href="#c_" x="340.96" y="291.74"/>
<use href="#c_" x="349.48" y="291.74"/>
<use href="#c_" x="358.00" y="291.74"/>
<use href="#c_" x="366.52" y="291.74"/>
<use href="#c_" x="375.04" y="291.74"/>
<use href="#cB" x="383.56" y="291.74"/>
<use href="#cb_" x="392.08" y="291.74"/>
<use href="#cb_" x="400.60" y="291.74"/>
<use href="#c_" x="409.12" y="291.74"/>
<use href="#c_" x="417.64" y="291.74"/>
<use href="#c_" x="426.16" y="291.74"/>
<use href="#c_" x="434.68" y="291.74"/>
<use href="#c_" x="443.20" y="291.74"/>
<use href="#c_" x="451.72" y="291.74"/>
<use href="#c_" x="460.24" y="291.74"/>
<use href="#c_" x="468.76" y="291.74"/>
<use href="#c_" x="477.28" y="291.74"/>
<use href="#c_" x="485.80" y="291.74"/>
<use href="#c_" x="494.32" y="291.74"/>
<use href="#c_" x="502.84" y="291.74"/>
<use href="#c_" x="511.36" y="291.74"/>
<use href="#cb_" x="519.88" y="291.74"/>
<use href="#c_" x="528.40" y="291.74"/>
<use href="#c_" x="536.92" y="291.74"/>
<use href="#c_" x="545.44" y="291.74"/>
<use href="#cr" x="553.96" y="291.74"/>
<use href="#c_" x="562.48" y="291.74"/>
<use href="#c_" x="571.00" y="291.74"/>
<use href="#c_" x="579.52" y="291.74"/>
<use href="#c_" x="588.04" y="291.74"/>
<use href="#c_" x="596.56" y="291.74"/>
<use href="#c_" x="605.08" y="291.74"/>
<use href="#c_" x="613.60" y="291.74"/>
<use href="#c_" x="622.12" y="291.74"/>
<use href="#c_" x="630.64" y="291.74"/>
<use href="#c_" x="145.00" y="298.64"/>
<use href="#c_" x="153.52" y="298.64"/>
<use href="#c_" x="162.04" y="298.64"/>
<use href="#cr" x="170.56" y="298.64"/>
<use href="#c_" x="179.08" y="298.64"/>
<use href="#c_" x="187.60" y="298.64"/>
<use href="#cr" x="196.12" y="298.64"/>
<use href="#c_" x="204.64" y="298.64"/>
<use href="#c_" x="213.16" y="298.64"/>
<use href="#c_" x="221.68" y="298.64"/>
<use href="#c_" x="230.20" y="298.64"/>
<use href="#c_" x="238.72" y="298.64"/>
<use href="#c_" x="247.24" y="298.64"/>
<use href="#c_" x="255.76" y="298.64"/>
<use href="#c_" x="264.28" y="298.64"/>
<use href="#cR" x="272.80" y="298.64"/>
<use href="#c_" x="281.32" y="298.64"/>
<use href="#c_" x="289.84" y="298.64"/>
<use href="#c_" x="298.36" y="298.64"/>
<use href="#c_" x="306.88" y="298.64"/>
<use href="#c_" x="315.40" y="298.64"/>
<use href="#cB" x="323.92" y="298.64"/>
<use href="#c_" x="332.44" y="298.64"/>
<use href="#c_" x="340.96" y="298.64"/>
<use href="#c_" x="349.48" y="298.64"/>
<use href="#c_" x="358.00" y="298.64"/>
<use href="#c_" x="366.52" y="298.64"/>
<use href="#c_" x="375.04" y="298.64"/>
<use href="#c_" x="383.56" y="298.64"/>
<use href="#c_" x="392.08" y="298.64"/>
<use href="#c_" x="400.60" y="298.64"/>
<use href="#c_" x="409.12" y="298.64"/>
<use href="#c_" x="417.64" y="298.64"/>
<use href="#c_" x="426.16" y="298.64"/>
<use href="#c_" x="434.68" y="298.64"/>
<use href="#c_" x="443.20" y="298.64"/>
<use href="#c_" x="451.72" y="298.64"/>
<use href="#c_" x="460.24" y="298.64"/>
<use href="#c_" x="468.76" y="298.64"/>
<use href="#c_" x="477.28" y="298.64"/>
<use href="#c_" x="485.80" y="298.64"/>
<use href="#c_" x="494.32" y="298.64"/>
<use href="#c_" x="502.84" y="298.64"/>
<use href="#cB" x="511.36" y="298.64"/>
<use href="#c_" x="519.88" y="298.64"/>
<use href="#c_" x="528.40" y="298.64"/>
<use href="#cB" x="536.92" y="298.64"/>
<use href="#cb_" x="545.44" y="298.64"/>
<use href="#c_" x="553.96" y="298.64"/>
<use href="#c_" x="562.48" y="298.64"/>
<use href="#c_" x="571.00" y="298.64"/>
<use href="#c_" x="579.52" y="298.64"/>
<use href="#c_" x="588.04" y="298.64"/>
<use href="#c_" x="596.56" y="298.64"/>
<use href="#c_" x="605.08" y="298.64"/>
<use href="#c_" x="613.60" y="298.64"/>
<use href="#c_" x="622.12" y="298.64"/>
<use href="#c_" x="630.64" y="298.64"/>
<use href="#c_" x="145.00" y="305.54"/>
<use href="#c_" x="153.52" y="305.54"/>
<use href="#c_" x="162.04" y="305.54"/>
<use href="#c_" x="170.56" y="305.54"/>
<use href="#c_" x="179.08" y="305.54"/>
<use href="#c_" x="187.60" y="305.54"/>
<use href="#c_" x="196.12" y="305.54"/>
<use href="#c_" x="204.64" y="305.54"/>
<use href="#cr" x="213.16" y="305.54"/>
<use href="#cR" x="221.68" y="305.54"/>
<use href="#cR" x="230.20" y="305.54"/>
<use href="#c_" x="238.72" y="305.54"/>
<use href="#c_" x="247.24" y="305.54"/>
<use href="#c_" x="255.76" y="305.54"/>
<use href="#c_" x="264.28" y="305.54"/>
<use href="#c_" x="272.80" y="305.54"/>
<use href="#c_" x="281.32" y="305.54"/>
<use href="#c_" x="289.84" y="305.54"/>
<use href="#c_" x="298.36" y="305.54"/>
<use href="#c_" x="306.88" y="305.54"/>
<use href="#c_" x="315.40" y="305.54"/>
<use href="#c_" x="323.92" y="305.54"/>
<use href="#c_" x="332.44" y="305.54"/>
<use href="#c_" x="340.96" y="305.54"/>
<use href="#c_" x="349.48" y="305.54"/>
<use href="#c_" x="358.00" y="305.54"/>
<use href="#c_" x="366.52" y="305.54"/>
<use href="#c_" x="375.04" y="305.54"/>
<use href="#cb_" x="383.56" y="305.54"/>
<use href="#c_" x="392.08" y="305.54"/>
<use href="#c_" x="400.60" y="305.54"/>
<use href="#c_" x="409.12" y="305.54"/>
<use href="#c_" x="417.64" y="305.54"/>
<use href="#c_" x="426.16" y="305.54"/>
<use href="#cB" x="434.68" y="305.54"/>
<use href="#cb_" x="443.20" y="305.54"/>
<use href="#c_" x="451.72" y="305.54"/>
<use href="#c_" x="460.24" y="305.54"/>
<use href="#c_" x="468.76" y="305.54"/>
<use href="#c_" x="477.28" y="305.54"/>
<use href="#c_" x="485.80" y="305.54"/>
<use href="#c_" x="494.32" y="305.54"/>
<use href="#cb_" x="502.84" y="305.54"/>
<use href="#c_" x="511.36" y="305.54"/>
<use href="#c_" x="519.88" y="305.54"/>
<use href="#c_" x="528.40" y="305.54"/>
<use href="#c_" x="536.92" y="305.54"/>
<use href="#c_" x="545.44" y="305.54"/>
<use href="#c_" x="553.96" y="305.54"/>
<use href="#cB" x="562.48" y="305.54"/>
<use href="#c_" x="571.00" y="305.54"/>
<use href="#cb_" x="579.52" y="305.54"/>
<use href="#c_" x="588.04" y="305.54"/>
<use href="#c_" x="596.56" y="305.54"/>
<use href="#c_" x="605.08" y="305.54"/>
<use href="#c_" x="613.60" y="305.54"/>
<use href="#c_" x="622.12" y="305.54"/>
<use href="#c_" x="630.64" y="305.54"/>
<use href="#c_" x="145.00" y="312.43"/>
<use href="#cb_" x="153.52" y="312.43"/>
<use href="#c_" x="162.04" y="312.43"/>
<use href="#cR" x="170.56" y="312.43"/>
<use href="#c_" x="179.08" y="312.43"/>
<use href="#c_" x="187.60" y="312.43"/>
<use href="#c_" x="196.12" y="312.43"/>
<use href="#cr" x="204.64" y="312.43"/>
<use href="#cR" x="213.16" y="312.43"/>
<use href="#c_" x="221.68" y="312.43"/>
<use href="#cR" x="230.20" y="312.43"/>
<use href="#c_" x="238.72" y="312.43"/>
<use href="#c_" x="247.24" y="312.43"/>
<use href="#c_" x="255.76" y="312.43"/>
<use href="#c_" x="264.28" y="312.43"/>
<use href="#c_" x="272.80" y="312.43"/>
<use href="#c_" x="281.32" y="312.43"/>
<use href="#c_" x="289.84" y="312.43"/>
<use href="#c_" x="298.36" y="312.43"/>
<use href="#c_" x="306.88" y="312.43"/>
<use href="#c_" x="315.40" y="312.43"/>
<use href="#c_" x="323.92" y="312.43"/>
<use href="#c_" x="332.44" y="312.43"/>
<use href="#cB" x="340.96" y="312.43"/>
<use href="#c_" x="349.48" y="312.43"/>
<use href="#c_" x="358.00" y="312.43"/>
<use href="#c_" x="366.52" y="312.43"/>
<use href="#c_" x="375.04" y="312.43"/>
<use href="#c_" x="383.56" y="312.43"/>
<use href="#c_" x="392.08" y="312.43"/>
<use href="#c_" x="400.60" y="312.43"/>
<use href="#c_" x="409.12" y="312.43"/>
<use href="#c_" x="417.64" y="312.43"/>
<use href="#c_" x="426.16" y="312.43"/>
<use href="#c_" x="434.68" y="312.43"/>
<use href="#c_" x="443.20" y="312.43"/>
<use href="#c_" x="451.72" y="312.43"/>
<use href="#c_" x="460.24" y="312.43"/>
<use href="#c_" x="468.76" y="312.43"/>
<use href="#c_" x="477.28" y="312.43"/>
<use href="#c_" x="485.80" y="312.43"/>
<use href="#c_" x="494.32" y="312.43"/>
<use href="#c_" x="502.84" y="312.43"/>
<use href="#c_" x="511.36" y="312.43"/>
<use href="#c_" x="519.88" y="312.43"/>
<use href="#c_" x="528.40" y="312.43"/>
<use href="#c_" x="536.92" y="312.43"/>
<use href="#c_" x="545.44" y="312.43"/>
<use href="#c_" x="553.96" y="312.43"/>
<use href="#c_" x="562.48" y="312.43"/>
<use href="#c_" x="571.00" y="312.43"/>
<use href="#c_" x="579.52" y="312.43"/>
<use href="#c_" x="588.04" y="312.43"/>
<use href="#c_" x="596.56" y="312.43"/>
<use href="#c_" x="605.08" y="312.43"/>
<use href="#c_" x="613.60" y="312.43"/>
<use href="#c_" x="622.12" y="312.43"/>
<use href="#cb_" x="630.64" y="312.43"/>
<use href="#c_" x="145.00" y="319.33"/>
<use href="#cb_" x="153.52" y="319.33"/>
<use href="#c_" x="162.04" y="319.33"/>
<use href="#c_" x="170.56" y="319.33"/>
<use href="#c_" x="179.08" y="319.33"/>
<use href="#c_" x="187.60" y="319.33"/>
<use href="#c_" x="196.12" y="319.33"/>
<use href="#c_" x="204.64" y="319.33"/>
<use href="#c_" x="213.16" y="319.33"/>
<use href="#c_" x="221.68" y="319.33"/>
<use href="#c_" x="230.20" y="319.33"/>
<use href="#c_" x="238.72" y="319.33"/>
<use href="#c_" x="247.24" y="319.33"/>
<use href="#c_" x="255.76" y="319.33"/>
<use href="#c_" x="264.28" y="319.33"/>
<use href="#c_" x="272.80" y="319.33"/>
<use href="#c_" x="281.32" y="319.33"/>
<use href="#c_" x="289.84" y="319.33"/>
<use href="#c_" x="298.36" y="319.33"/>
<use href="#c_" x="306.88" y="319.33"/>
<use href="#c_" x="315.40" y="319.33"/>
<use href="#c_" x="323.92" y="319.33"/>
<use href="#c_" x="332.44" y="319.33"/>
<use href="#c_" x="340.96" y="319.33"/>
<use href="#cr" x="349.48" y="319.33"/>
<use href="#c_" x="358.00" y="319.33"/>
<use href="#cB" x="366.52" y="319.33"/>
<use href="#c_" x="375.04" y="319.33"/>
<use href="#cB" x="383.56" y="319.33"/>
<use href="#cB" x="392.08" y="319.33"/>
<use href="#c_" x="400.60" y="319.33"/>
<use href="#c_" x="409.12" y="319.33"/>
<use href="#c_" x="417.64" y="319.33"/>
<use href="#cb_" x="426.16" y="319.33"/>
<use href="#c_" x="434.68" y="319.33"/>
<use href="#c_" x="443.20" y="319.33"/>
<use href="#c_" x="451.72" y="319.33"/>
<use href="#cb_" x="460.24" y="319.33"/>
<use href="#cb_" x="468.76" y="319.33"/>
<use href="#c_" x="477.28" y="319.33"/>
<use href="#c_" x="485.80" y="319.33"/>
<use href="#c_" x="494.32" y="319.33"/>
<use href="#c_" x="502.84" y="319.33"/>
<use href="#cB" x="511.36" y="319.33"/>
<use href="#c_" x="519.88" y="319.33"/>
<use href="#c_" x="528.40" y="319.33"/>
<use href="#cB" x="536.92" y="319.33"/>
<use href="#c_" x="545.44" y="319.33"/>
<use href="#c_" x="553.96" y="319.33"/>
<use href="#c_" x="562.48" y="319.33"/>
<use href="#c_" x="571.00" y="319.33"/>
<use href="#c_" x="579.52" y="319.33"/>
<use href="#c_" x="588.04" y="319.33"/>
<use href="#c_" x="596.56" y="319.33"/>
<use href="#c_" x="605.08" y="319.33"/>
<use href="#c_" x="613.60" y="319.33"/>
<use href="#c_" x="622.12" y="319.33"/>
<use href="#c_" x="630.64" y="319.33"/>
<use href="#c_" x="145.00" y="326.22"/>
<use href="#c_" x="153.52" y="326.22"/>
<use href="#c_" x="162.04" y="326.22"/>
<use href="#cR" x="170.56" y="326.22"/>
<use href="#c_" x="179.08" y="326.22"/>
<use href="#cr" x="187.60" y="326.22"/>
<use href="#cr" x="196.12" y="326.22"/>
<use href="#c_" x="204.64" y="326.22"/>
<use href="#c_" x="213.16" y="326.22"/>
<use href="#c_" x="221.68" y="326.22"/>
<use href="#c_" x="230.20" y="326.22"/>
<use href="#c_" x="238.72" y="326.22"/>
<use href="#cB" x="247.24" y="326.22"/>
<use href="#c_" x="255.76" y="326.22"/>
<use href="#c_" x="264.28" y="326.22"/>
<use href="#c_" x="272.80" y="326.22"/>
<use href="#cb_" x="281.32" y="326.22"/>
<use href="#c_" x="289.84" y="326.22"/>
<use href="#c_" x="298.36" y="326.22"/>
<use href="#c_" x="306.88" y="326.22"/>
<use href="#c_" x="315.40" y="326.22"/>
<use href="#cR" x="323.92" y="326.22"/>
<use href="#c_" x="332.44" y="326.22"/>
<use href="#c_" x="340.96" y="326.22"/>
<use href="#c_" x="349.48" y="326.22"/>
<use href="#c_" x="358.00" y="326.22"/>
<use href="#c_" x="366.52" y="326.22"/>
<use href="#c_" x="375.04" y="326.22"/>
<use href="#c_" x="383.56" y="326.22"/>
<use href="#c_" x="392.08" y="326.22"/>
<use href="#cb_" x="400.60" y="326.22"/>
<use href="#c_" x="409.12" y="326.22"/>
<use href="#c_" x="417.64" y="326.22"/>
<use href="#c_" x="426.16" y="326.22"/>
<use href="#cB" x="434.68" y="326.22"/>
<use href="#c_" x="443.20" y="326.22"/>
<use href="#c_" x="451.72" y="326.22"/>
<use href="#c_" x="460.24" y="326.22"/>
<use href="#c_" x="468.76" y="326.22"/>
<use href="#c_" x="477.28" y="326.22"/>
<use href="#c_" x="485.80" y="326.22"/>
<use href="#c_" x="494.32" y="326.22"/>
<use href="#c_" x="502.84" y="326.22"/>
<use href="#c_" x="511.36" y="326.22"/>
<use href="#c_" x="519.88" y="326.22"/>
<use href="#cb_" x="528.40" y="326.22"/>
<use href="#c_" x="536.92" y="326.22"/>
<use href="#c_" x="545.44" y="326.22"/>
<use href="#c_" x="553.96" y="326.22"/>
<use href="#cB" x="562.48" y="326.22"/>
<use href="#c_" x="571.00" y="326.22"/>
<use href="#c_" x="579.52" y="326.22"/>
<use href="#c_" x="588.04" y="326.22"/>
<use href="#c_" x="596.56" y="326.22"/>
<use href="#c_" x="605.08" y="326.22"/>
<use href="#c_" x="613.60" y="326.22"/>
<use href="#c_" x="622.12" y="326.22"/>
<use href="#cB" x="630.64" y="326.22"/>
<use href="#c_" x="145.00" y="333.12"/>
<use href="#c_" x="153.52" y="333.12"/>
<use href="#c_" x="162.04" y="333.12"/>
<use href="#c_" x="170.56" y="333.12"/>
<use href="#c_" x="179.08" y="333.12"/>
<use href="#c_" x="187.60" y="333.12"/>
<use href="#c_" x="196.12" y="333.12"/>
<use href="#c_" x="204.64" y="333.12"/>
<use href="#c_" x="213.16" y="333.12"/>
<use href="#c_" x="221.68" y="333.12"/>
<use href="#c_" x="230.20" y="333.12"/>
<use href="#cB" x="238.72" y="333.12"/>
<use href="#cb_" x="247.24" y="333.12"/>
<use href="#c_" x="255.76" y="333.12"/>
<use href="#c_" x="264.28" y="333.12"/>
<use href="#c_" x="272.80" y="333.12"/>
<use href="#cB" x="281.32" y="333.12"/>
<use href="#cB" x="289.84" y="333.12"/>
<use href="#c_" x="298.36" y="333.12"/>
<use href="#c_" x="306.88" y="333.12"/>
<use href="#cb_" x="315.40" y="333.12"/>
<use href="#cR" x="323.92" y="333.12"/>
<use href="#c_" x="332.44" y="333.12"/>
<use href="#cb_" x="340.96" y="333.12"/>
<use href="#c_" x="349.48" y="333.12"/>
<use href="#c_" x="358.00" y="333.12"/>
<use href="#cb_" x="366.52" y="333.12"/>
<use href="#c_" x="375.04" y="333.12"/>
<use href="#cb_" x="383.56" y="333.12"/>
<use href="#c_" x="392.08" y="333.12"/>
<use href="#c_" x="400.60" y="333.12"/>
<use href="#c_" x="409.12" y="333.12"/>
<use href="#c_" x="417.64" y="333.12"/>
<use href="#c_" x="426.16" y="333.12"/>
<use href="#c_" x="434.68" y="333.12"/>
<use href="#c_" x="443.20" y="333.12"/>
<use href="#c_" x="451.72" y="333.12"/>
<use href="#c_" x="460.24" y="333.12"/>
<use href="#c_" x="468.76" y="333.12"/>
<use href="#cb_" x="477.28" y="333.12"/>
<use href="#c_" x="485.80" y="333.12"/>
<use href="#c_" x="494.32" y="333.12"/>
<use href="#c_" x="502.84" y="333.12"/>
<use href="#c_" x="511.36" y="333.12"/>
<use href="#c_" x="519.88" y="333.12"/>
<use href="#c_" x="528.40" y="333.12"/>
<use href="#c_" x="536.92" y="333.12"/>
<use href="#c_" x="545.44" y="333.12"/>
<use href="#c_" x="553.96" y="333.12"/>
<use href="#cB" x="562.48" y="333.12"/>
<use href="#c_" x="571.00" y="333.12"/>
<use href="#c_" x="579.52" y="333.12"/>
<use href="#c_" x="588.04" y="333.12"/>
<use href="#c_" x="596.56" y="333.12"/>
<use href="#c_" x="605.08" y="333.12"/>
<use href="#c_" x="613.60" y="333.12"/>
<use href="#c_" x="622.12" y="333.12"/>
<use href="#cB" x="630.64" y="333.12"/>
<use href="#c_" x="145.00" y="340.02"/>
<use href="#cb_" x="153.52" y="340.02"/>
<use href="#cr" x="162.04" y="340.02"/>
<use href="#c_" x="170.56" y="340.02"/>
<use href="#c_" x="179.08" y="340.02"/>
<use href="#cR" x="187.60" y="340.02"/>
<use href="#cr" x="196.12" y="340.02"/>
<use href="#c_" x="204.64" y="340.02"/>
<use href="#c_" x="213.16" y="340.02"/>
<use href="#c_" x="221.68" y="340.02"/>
<use href="#c_" x="230.20" y="340.02"/>
<use href="#cb_" x="238.72" y="340.02"/>
<use href="#cB" x="247.24" y="340.02"/>
<use href="#c_" x="255.76" y="340.02"/>
<use href="#c_" x="264.28" y="340.02"/>
<use href="#c_" x="272.80" y="340.02"/>
<use href="#cB" x="281.32" y="340.02"/>
<use href="#cB" x="289.84" y="340.02"/>
<use href="#c_" x="298.36" y="340.02"/>
<use href="#c_" x="306.88" y="340.02"/>
<use href="#c_" x="315.40" y="340.02"/>
<use href="#c_" x="323.92" y="340.02"/>
<use href="#c_" x="332.44" y="340.02"/>
<use href="#c_" x="340.96" y="340.02"/>
<use href="#c_" x="349.48" y="340.02"/>
<use href="#c_" x="358.00" y="340.02"/>
<use href="#c_" x="366.52" y="340.02"/>
<use href="#c_" x="375.04" y="340.02"/>
<use href="#c_" x="383.56" y="340.02"/>
<use href="#c_" x="392.08" y="340.02"/>
<use href="#c_" x="400.60" y="340.02"/>
<use href="#c_" x="409.12" y="340.02"/>
<use href="#c_" x="417.64" y="340.02"/>
<use href="#c_" x="426.16" y="340.02"/>
<use href="#cb_" x="434.68" y="340.02"/>
<use href="#c_" x="443.20" y="340.02"/>
<use href="#c_" x="451.72" y="340.02"/>
<use href="#c_" x="460.24" y="340.02"/>
<use href="#c_" x="468.76" y="340.02"/>
<use href="#c_" x="477.28" y="340.02"/>
<use href="#c_" x="485.80" y="340.02"/>
<use href="#c_" x="494.32" y="340.02"/>
<use href="#c_" x="502.84" y="340.02"/>
<use href="#c_" x="511.36" y="340.02"/>
<use href="#c_" x="519.88" y="340.02"/>
<use href="#c_" x="528.40" y="340.02"/>
<use href="#c_" x="536.92" y="340.02"/>
<use href="#c_" x="545.44" y="340.02"/>
<use href="#c_" x="553.96" y="340.02"/>
<use href="#cb_" x="562.48" y="340.02"/>
<use href="#c_" x="571.00" y="340.02"/>
<use href="#c_" x="579.52" y="340.02"/>
<use href="#c_" x="588.04" y="340.02"/>
<use href="#c_" x="596.56" y="340.02"/>
<use href="#c_" x="605.08" y="340.02"/>
<use href="#c_" x="613.60" y="340.02"/>
<use href="#c_" x="622.12" y="340.02"/>
<use href="#cB" x="630.64" y="340.02"/>
<use href="#c_" x="145.00" y="346.91"/>
<use href="#c_" x="153.52" y="346.91"/>
<use href="#cr" x="162.04" y="346.91"/>
<use href="#c_" x="170.56" y="346.91"/>
<use href="#c_" x="179.08" y="346.91"/>
<use href="#cr" x="187.60" y="346.91"/>
<use href="#c_" x="196.12" y="346.91"/>
<use href="#c_" x="204.64" y="346.91"/>
<use href="#c_" x="213.16" y="346.91"/>
<use href="#c_" x="221.68" y="346.91"/>
<use href="#c_" x="230.20" y="346.91"/>
<use href="#c_" x="238.72" y="346.91"/>
<use href="#cB" x="247.24" y="346.91"/>
<use href="#cb_" x="255.76" y="346.91"/>
<use href="#c_" x="264.28" y="346.91"/>
<use href="#c_" x="272.80" y="346.91"/>
<use href="#cB" x="281.32" y="346.91"/>
<use href="#cB" x="289.84" y="346.91"/>
<use href="#c_" x="298.36" y="346.91"/>
<use href="#c_" x="306.88" y="346.91"/>
<use href="#c_" x="315.40" y="346.91"/>
<use href="#c_" x="323.92" y="346.91"/>
<use href="#c_" x="332.44" y="346.91"/>
<use href="#c_" x="340.96" y="346.91"/>
<use href="#c_" x="349.48" y="346.91"/>
<use href="#c_" x="358.00" y="346.91"/>
<use href="#c_" x="366.52" y="346.91"/>
<use href="#c_" x="375.04" y="346.91"/>
<use href="#c_" x="383.56" y="346.91"/>
<use href="#c_" x="392.08" y="346.91"/>
<use href="#c_" x="400.60" y="346.91"/>
<use href="#c_" x="409.12" y="346.91"/>
<use href="#c_" x="417.64" y="346.91"/>
<use href="#c_" x="426.16" y="346.91"/>
<use href="#c_" x="434.68" y="346.91"/>
<use href="#c_" x="443.20" y="346.91"/>
<use href="#c_" x="451.72" y="346.91"/>
<use href="#c_" x="460.24" y="346.91"/>
<use href="#c_" x="468.76" y="346.91"/>
<use href="#c_" x="477.28" y="346.91"/>
<use href="#c_" x="485.80" y="346.91"/>
<use href="#c_" x="494.32" y="346.91"/>
<use href="#c_" x="502.84" y="346.91"/>
<use href="#c_" x="511.36" y="346.91"/>
<use href="#c_" x="519.88" y="346.91"/>
<use href="#c_" x="528.40" y="346.91"/>
<use href="#c_" x="536.92" y="346.91"/>
<use href="#c_" x="545.44" y="346.91"/>
<use href="#c_" x="553.96" y="346.91"/>
<use href="#c_" x="562.48" y="346.91"/>
<use href="#c_" x="571.00" y="346.91"/>
<use href="#c_" x="579.52" y="346.91"/>
<use href="#c_" x="588.04" y="346.91"/>
<use href="#c_" x="596.56" y="346.91"/>
<use href="#cB" x="605.08" y="346.91"/>
<use href="#c_" x="613.60" y="346.91"/>
<use href="#c_" x="622.12" y="346.91"/>
<use href="#cb_" x="630.64" y="346.91"/>
<use href="#c_" x="145.00" y="353.81"/>
<use href="#c_" x="153.52" y="353.81"/>
<use href="#c_" x="162.04" y="353.81"/>
<use href="#c_" x="170.56" y="353.81"/>
<use href="#c_" x="179.08" y="353.81"/>
<use href="#cR" x="187.60" y="353.81"/>
<use href="#c_" x="196.12" y="353.81"/>
<use href="#c_" x="204.64" y="353.81"/>
<use href="#c_" x="213.16" y="353.81"/>
<use href="#c_" x="221.68" y="353.81"/>
<use href="#c_" x="230.20" y="353.81"/>
<use href="#cB" x="238.72" y="353.81"/>
<use href="#cB" x="247.24" y="353.81"/>
<use href="#c_" x="255.76" y="353.81"/>
<use href="#c_" x="264.28" y="353.81"/>
<use href="#c_" x="272.80" y="353.81"/>
<use href="#cB" x="281.32" y="353.81"/>
<use href="#cB" x="289.84" y="353.81"/>
<use href="#c_" x="298.36" y="353.81"/>
<use href="#c_" x="306.88" y="353.81"/>
<use href="#c_" x="315.40" y="353.81"/>
<use href="#cR" x="323.92" y="353.81"/>
<use href="#c_" x="332.44" y="353.81"/>
<use href="#c_" x="340.96" y="353.81"/>
<use href="#c_" x="349.48" y="353.81"/>
<use href="#c_" x="358.00" y="353.81"/>
<use href="#c_" x="366.52" y="353.81"/>
<use href="#c_" x="375.04" y="353.81"/>
<use href="#c_" x="383.56" y="353.81"/>
<use href="#c_" x="392.08" y="353.81"/>
<use href="#c_" x="400.60" y="353.81"/>
<use href="#c_" x="409.12" y="353.81"/>
<use href="#c_" x="417.64" y="353.81"/>
<use href="#c_" x="426.16" y="353.81"/>
<use href="#c_" x="434.68" y="353.81"/>
<use href="#c_" x="443.20" y="353.81"/>
<use href="#cb_" x="451.72" y="353.81"/>
<use href="#c_" x="460.24" y="353.81"/>
<use href="#c_" x="468.76" y="353.81"/>
<use href="#c_" x="477.28" y="353.81"/>
<use href="#c_" x="485.80" y="353.81"/>
<use href="#c_" x="494.32" y="353.81"/>
<use href="#c_" x="502.84" y="353.81"/>
<use href="#c_" x="511.36" y="353.81"/>
<use href="#c_" x="519.88" y="353.81"/>
<use href="#c_" x="528.40" y="353.81"/>
<use href="#c_" x="536.92" y="353.81"/>
<use href="#c_" x="545.44" y="353.81"/>
<use href="#c_" x="553.96" y="353.81"/>
<use href="#c_" x="562.48" y="353.81"/>
<use href="#c_" x="571.00" y="353.81"/>
<use href="#c_" x="579.52" y="353.81"/>
<use href="#c_" x="588.04" y="353.81"/>
<use href="#c_" x="596.56" y="353.81"/>
<use href="#cb_" x="605.08" y="353.81"/>
<use href="#c_" x="613.60" y="353.81"/>
<use href="#c_" x="622.12" y="353.81"/>
<use href="#c_" x="630.64" y="353.81"/>
<use href="#c_" x="145.00" y="360.70"/>
<use href="#cB" x="153.52" y="360.70"/>
<use href="#cR" x="162.04" y="360.70"/>
<use href="#cr" x="170.56" y="360.70"/>
<use href="#c_" x="179.08" y="360.70"/>
<use href="#cR" x="187.60" y="360.70"/>
<use href="#cr" x="196.12" y="360.70"/>
<use href="#c_" x="204.64" y="360.70"/>
<use href="#c_" x="213.16" y="360.70"/>
<use href="#c_" x="221.68" y="360.70"/>
<use href="#c_" x="230.20" y="360.70"/>
<use href="#c_" x="238.72" y="360.70"/>
<use href="#c_" x="247.24" y="360.70"/>
<use href="#c_" x="255.76" y="360.70"/>
<use href="#c_" x="264.28" y="360.70"/>
<use href="#c_" x="272.80" y="360.70"/>
<use href="#c_" x="281.32" y="360.70"/>
<use href="#c_" x="289.84" y="360.70"/>
<use href="#c_" x="298.36" y="360.70"/>
<use href="#c_" x="306.88" y="360.70"/>
<use href="#cb_" x="315.40" y="360.70"/>
<use href="#cr" x="323.92" y="360.70"/>
<use href="#c_" x="332.44" y="360.70"/>
<use href="#c_" x="340.96" y="360.70"/>
<use href="#cb_" x="349.48" y="360.70"/>
<use href="#c_" x="358.00" y="360.70"/>
<use href="#cb_" x="366.52" y="360.70"/>
<use href="#c_" x="375.04" y="360.70"/>
<use href="#cb_" x="383.56" y="360.70"/>
<use href="#cB" x="392.08" y="360.70"/>
<use href="#c_" x="400.60" y="360.70"/>
<use href="#c_" x="409.12" y="360.70"/>
<use href="#c_" x="417.64" y="360.70"/>
<use href="#c_" x="426.16" y="360.70"/>
<use href="#c_" x="434.68" y="360.70"/>
<use href="#c_" x="443.20" y="360.70"/>
<use href="#cb_" x="451.72" y="360.70"/>
<use href="#cb_" x="460.24" y="360.70"/>
<use href="#cB" x="468.76" y="360.70"/>
<use href="#c_" x="477.28" y="360.70"/>
<use href="#cB" x="485.80" y="360.70"/>
<use href="#c_" x="494.32" y="360.70"/>
<use href="#c_" x="502.84" y="360.70"/>
<use href="#c_" x="511.36" y="360.70"/>
<use href="#cb_" x="519.88" y="360.70"/>
<use href="#c_" x="528.40" y="360.70"/>
<use href="#c_" x="536.92" y="360.70"/>
<use href="#c_" x="545.44" y="360.70"/>
<use href="#c_" x="553.96" y="360.70"/>
<use href="#c_" x="562.48" y="360.70"/>
<use href="#cb_" x="571.00" y="360.70"/>
<use href="#c_" x="579.52" y="360.70"/>
<use href="#c_" x="588.04" y="360.70"/>
<use href="#c_" x="596.56" y="360.70"/>
<use href="#cB" x="605.08" y="360.70"/>
<use href="#c_" x="613.60" y="360.70"/>
<use href="#c_" x="622.12" y="360.70"/>
<use href="#cb_" x="630.64" y="360.70"/>
<rect x="140.6" y="18.9" width="494.0" height="345.3" fill="none" stroke="#222" stroke-width="1.3"/>
<path d="M138.0 22.80H140.6 M138.0 29.70H140.6 M138.0 36.59H140.6 M138.0 43.49H140.6 M138.0 50.38H140.6 M138.0 57.28H140.6 M138.0 64.18H140.6 M138.0 71.07H140.6 M138.0 77.97H140.6 M138.0 84.86H140.6 M138.0 91.76H140.6 M138.0 98.66H140.6 M138.0 105.55H140.6 M138.0 112.45H140.6 M138.0 119.34H140.6 M138.0 126.24H140.6 M138.0 133.14H140.6 M138.0 140.03H140.6 M138.0 146.93H140.6 M138.0 153.82H140.6 M138.0 160.72H140.6 M138.0 167.62H140.6 M138.0 174.51H140.6 M138.0 181.41H140.6 M138.0 188.30H140.6 M138.0 195.20H140.6 M138.0 202.10H140.6 M138.0 208.99H140.6 M138.0 215.89H140.6 M138.0 222.78H140.6 M138.0 229.68H140.6 M138.0 236.58H140.6 M138.0 243.47H140.6 M138.0 250.37H140.6 M138.0 257.26H140.6 M138.0 264.16H140.6 M138.0 271.06H140.6 M138.0 277.95H140.6 M138.0 284.85H140.6 M138.0 291.74H140.6 M138.0 298.64H140.6 M138.0 305.54H140.6 M138.0 312.43H140.6 M138.0 319.33H140.6 M138.0 326.22H140.6 M138.0 333.12H140.6 M138.0 340.02H140.6 M138.0 346.91H140.6 M138.0 353.81H140.6 M138.0 360.70H140.6 M145.00 364.2V367.09999999999997 M153.52 364.2V367.09999999999997 M162.04 364.2V367.09999999999997 M170.56 364.2V367.09999999999997 M179.08 364.2V367.09999999999997 M187.60 364.2V367.09999999999997 M196.12 364.2V367.09999999999997 M204.64 364.2V367.09999999999997 M213.16 364.2V367.09999999999997 M221.68 364.2V367.09999999999997 M230.20 364.2V367.09999999999997 M238.72 364.2V367.09999999999997 M247.24 364.2V367.09999999999997 M255.76 364.2V367.09999999999997 M264.28 364.2V367.09999999999997 M272.80 364.2V367.09999999999997 M281.32 364.2V367.09999999999997 M289.84 364.2V367.09999999999997 M298.36 364.2V367.09999999999997 M306.88 364.2V367.09999999999997 M315.40 364.2V367.09999999999997 M323.92 364.2V367.09999999999997 M332.44 364.2V367.09999999999997 M340.96 364.2V367.09999999999997 M349.48 364.2V367.09999999999997 M358.00 364.2V367.09999999999997 M366.52 364.2V367.09999999999997 M375.04 364.2V367.09999999999997 M383.56 364.2V367.09999999999997 M392.08 364.2V367.09999999999997 M400.60 364.2V367.09999999999997 M409.12 364.2V367.09999999999997 M417.64 364.2V367.09999999999997 M426.16 364.2V367.09999999999997 M434.68 364.2V367.09999999999997 M443.20 364.2V367.09999999999997 M451.72 364.2V367.09999999999997 M460.24 364.2V367.09999999999997 M468.76 364.2V367.09999999999997 M477.28 364.2V367.09999999999997 M485.80 364.2V367.09999999999997 M494.32 364.2V367.09999999999997 M502.84 364.2V367.09999999999997 M511.36 364.2V367.09999999999997 M519.88 364.2V367.09999999999997 M528.40 364.2V367.09999999999997 M536.92 364.2V367.09999999999997 M545.44 364.2V367.09999999999997 M553.96 364.2V367.09999999999997 M562.48 364.2V367.09999999999997 M571.00 364.2V367.09999999999997 M579.52 364.2V367.09999999999997 M588.04 364.2V367.09999999999997 M596.56 364.2V367.09999999999997 M605.08 364.2V367.09999999999997 M613.60 364.2V367.09999999999997 M622.12 364.2V367.09999999999997 M630.64 364.2V367.09999999999997" stroke="#222" stroke-width="0.9"/>
<text x="136" y="25.25" font-size="6.75" font-style="italic" text-anchor="end" fill="#1a1a1a">Blautia SGB4815</text>
<text x="136" y="32.15" font-size="6.75" font-style="italic" text-anchor="end" fill="#e0574a">Anaerostipes hadrus</text>
<text x="136" y="39.04" font-size="6.75" font-style="italic" text-anchor="end" fill="#1a1a1a">Agathobaculum butyriciproducens</text>
<text x="136" y="45.94" font-size="6.75" font-style="italic" text-anchor="end" fill="#1a1a1a">Coprococcus eutactus</text>
<text x="136" y="52.83" font-size="6.75" font-style="italic" text-anchor="end" fill="#1a1a1a">Clostridium sp AM33 3</text>
<text x="136" y="59.73" font-size="6.75" font-style="italic" text-anchor="end" fill="#1a1a1a">Lachnospira sp NSJ 43</text>
<text x="136" y="66.63" font-size="6.75" font-style="italic" text-anchor="end" fill="#1a1a1a">Eubacterium siraeum</text>
<text x="136" y="73.52" font-size="6.75" font-style="italic" text-anchor="end" fill="#1a1a1a">Clostridiales Family XIII bacterium BX16</text>
<text x="136" y="80.42" font-size="6.75" font-style="italic" text-anchor="end" fill="#1a1a1a">Firmicutes GGB9758 SGB15368</text>
<text x="136" y="87.31" font-size="6.75" font-style="italic" text-anchor="end" fill="#1a1a1a">Clostridium methylpentosum</text>
<text x="136" y="94.21" font-size="6.75" font-style="italic" text-anchor="end" fill="#1a1a1a">Allisonella histaminiformans</text>
<text x="136" y="101.11" font-size="6.75" font-style="italic" text-anchor="end" fill="#1a1a1a">Faecalibacterium prausnitzii</text>
<text x="136" y="108.00" font-size="6.75" font-style="italic" text-anchor="end" fill="#1a1a1a">Eubacterium sp AF16 48</text>
<text x="136" y="114.90" font-size="6.75" font-style="italic" text-anchor="end" fill="#1a1a1a">Blautia faecis</text>
<text x="136" y="121.79" font-size="6.75" font-style="italic" text-anchor="end" fill="#1a1a1a">Anaerotignum faecicola</text>
<text x="136" y="128.69" font-size="6.75" font-style="italic" text-anchor="end" fill="#1a1a1a">Coprococcus comes</text>
<text x="136" y="135.59" font-size="6.75" font-style="italic" text-anchor="end" fill="#1a1a1a">Collinsella SGB14861</text>
<text x="136" y="142.48" font-size="6.75" font-style="italic" text-anchor="end" fill="#1a1a1a">Clostridiaceae bacterium Marseille Q4143</text>
<text x="136" y="149.38" font-size="6.75" font-style="italic" text-anchor="end" fill="#1a1a1a">Roseburia sp AF02 12</text>
<text x="136" y="156.27" font-size="6.75" font-style="italic" text-anchor="end" fill="#1a1a1a">Ruminococcus callidus</text>
<text x="136" y="163.17" font-size="6.75" font-style="italic" text-anchor="end" fill="#1a1a1a">Lachnospira eligens</text>
<text x="136" y="170.07" font-size="6.75" font-style="italic" text-anchor="end" fill="#1a1a1a">Bacteroides nordii</text>
<text x="136" y="176.96" font-size="6.75" font-style="italic" text-anchor="end" fill="#1a1a1a">Fusicatenibacter saccharivorans</text>
<text x="136" y="183.86" font-size="6.75" font-style="italic" text-anchor="end" fill="#1a1a1a">Candidatus Cibionibacter quicibialis</text>
<text x="136" y="190.75" font-size="6.75" font-style="italic" text-anchor="end" fill="#1a1a1a">Firmicutes bacterium AF16 15</text>
<text x="136" y="197.65" font-size="6.75" font-style="italic" text-anchor="end" fill="#1a1a1a">Eubacterium rectale</text>
<text x="136" y="204.55" font-size="6.75" font-style="italic" text-anchor="end" fill="#e0574a">Lacrimispora amygdalina</text>
<text x="136" y="211.44" font-size="6.75" font-style="italic" text-anchor="end" fill="#1a1a1a">Collinsella aerofaciens</text>
<text x="136" y="218.34" font-size="6.75" font-style="italic" text-anchor="end" fill="#1a1a1a">Vescimonas coprocola</text>
<text x="136" y="225.23" font-size="6.75" font-style="italic" text-anchor="end" fill="#e0574a">Megamonas funiformis</text>
<text x="136" y="232.13" font-size="6.75" font-style="italic" text-anchor="end" fill="#e0574a">Firmicutes GGB51647 SGB4348</text>
<text x="136" y="239.03" font-size="6.75" font-style="italic" text-anchor="end" fill="#1a1a1a">Clostridium leptum</text>
<text x="136" y="245.92" font-size="6.75" font-style="italic" text-anchor="end" fill="#1a1a1a">Hydrogenoanaerobacterium saccharovorans</text>
<text x="136" y="252.82" font-size="6.75" font-style="italic" text-anchor="end" fill="#1a1a1a">Lachnospiraceae GGB3538 SGB4728</text>
<text x="136" y="259.71" font-size="6.75" font-style="italic" text-anchor="end" fill="#1a1a1a">Blautia caecimuris</text>
<text x="136" y="266.61" font-size="6.75" font-style="italic" text-anchor="end" fill="#1a1a1a">Anaerotignum lactatifermentans</text>
<text x="136" y="273.51" font-size="6.75" font-style="italic" text-anchor="end" fill="#1a1a1a">Anaerostipes caccae</text>
<text x="136" y="280.40" font-size="6.75" font-style="italic" text-anchor="end" fill="#1a1a1a">Bifidobacterium longum</text>
<text x="136" y="287.30" font-size="6.75" font-style="italic" text-anchor="end" fill="#1a1a1a">Massiliociostridium coli</text>
<text x="136" y="294.19" font-size="6.75" font-style="italic" text-anchor="end" fill="#1a1a1a">Actinomyces SGB17168</text>
<text x="136" y="301.09" font-size="6.75" font-style="italic" text-anchor="end" fill="#1a1a1a">Christensenellaceae bacterium NSJ 63</text>
<text x="136" y="307.99" font-size="6.75" font-style="italic" text-anchor="end" fill="#1a1a1a">Collinsella SGB4121</text>
<text x="136" y="314.88" font-size="6.75" font-style="italic" text-anchor="end" fill="#1a1a1a">Bacteroides fragilis</text>
<text x="136" y="321.78" font-size="6.75" font-style="italic" text-anchor="end" fill="#1a1a1a">Lacrimispora saccharolytica</text>
<text x="136" y="328.67" font-size="6.75" font-style="italic" text-anchor="end" fill="#1a1a1a">Enterocloster bolteae</text>
<text x="136" y="335.57" font-size="6.75" font-style="italic" text-anchor="end" fill="#1a1a1a">Eggerthella lenta</text>
<text x="136" y="342.47" font-size="6.75" font-style="italic" text-anchor="end" fill="#1a1a1a">Eisenbergiella tayi</text>
<text x="136" y="349.36" font-size="6.75" font-style="italic" text-anchor="end" fill="#1a1a1a">Clostridium symbiosum</text>
<text x="136" y="356.26" font-size="6.75" font-style="italic" text-anchor="end" fill="#1a1a1a">Hungatella hathewayi</text>
<text x="136" y="363.15" font-size="6.75" font-style="italic" text-anchor="end" fill="#1a1a1a">Escherichia coli</text>
<text transform="translate(149.40,371.70) rotate(-45)" font-size="7.35" text-anchor="end" fill="#1a1a1a">AHEI</text>
<text transform="translate(157.92,371.70) rotate(-45)" font-size="7.35" text-anchor="end" fill="#1a1a1a">CCDI</text>
<text transform="translate(166.44,371.70) rotate(-45)" font-size="7.35" text-anchor="end" fill="#1a1a1a">DII</text>
<text transform="translate(174.96,371.70) rotate(-45)" font-size="7.35" text-anchor="end" fill="#1a1a1a">Sulfur diet score</text>
<text transform="translate(183.48,371.70) rotate(-45)" font-size="7.35" text-anchor="end" fill="#1a1a1a">HFD</text>
<text transform="translate(192.00,371.70) rotate(-45)" font-size="7.35" text-anchor="end" fill="#1a1a1a">Mineral insufficiency</text>
<text transform="translate(200.52,371.70) rotate(-45)" font-size="7.35" text-anchor="end" fill="#1a1a1a">Vitamin insufficiency</text>
<text transform="translate(209.04,371.70) rotate(-45)" font-size="7.35" text-anchor="end" fill="#1a1a1a">Polysorbate-80</text>
<text transform="translate(217.56,371.70) rotate(-45)" font-size="7.35" text-anchor="end" fill="#1a1a1a">Carboxymethylcellulose</text>
<text transform="translate(226.08,371.70) rotate(-45)" font-size="7.35" text-anchor="end" fill="#1a1a1a">Carrageenan</text>
<text transform="translate(234.60,371.70) rotate(-45)" font-size="7.35" text-anchor="end" fill="#1a1a1a">Emulsifiers</text>
<text transform="translate(243.12,371.70) rotate(-45)" font-size="7.35" text-anchor="end" fill="#1a1a1a">Protein</text>
<text transform="translate(251.64,371.70) rotate(-45)" font-size="7.35" text-anchor="end" fill="#1a1a1a">Fat</text>
<text transform="translate(260.16,371.70) rotate(-45)" font-size="7.35" text-anchor="end" fill="#1a1a1a">Carbohydrate</text>
<text transform="translate(268.68,371.70) rotate(-45)" font-size="7.35" text-anchor="end" fill="#1a1a1a">SFA</text>
<text transform="translate(277.20,371.70) rotate(-45)" font-size="7.35" text-anchor="end" fill="#1a1a1a">TFA</text>
<text transform="translate(285.72,371.70) rotate(-45)" font-size="7.35" text-anchor="end" fill="#1a1a1a">PUFA</text>
<text transform="translate(294.24,371.70) rotate(-45)" font-size="7.35" text-anchor="end" fill="#1a1a1a">MUFA</text>
<text transform="translate(302.76,371.70) rotate(-45)" font-size="7.35" text-anchor="end" fill="#1a1a1a">n3n6</text>
<text transform="translate(311.28,371.70) rotate(-45)" font-size="7.35" text-anchor="end" fill="#1a1a1a">MonSaccharide</text>
<text transform="translate(319.80,371.70) rotate(-45)" font-size="7.35" text-anchor="end" fill="#1a1a1a">Disaccharide</text>
<text transform="translate(328.32,371.70) rotate(-45)" font-size="7.35" text-anchor="end" fill="#1a1a1a">Starch</text>
<text transform="translate(336.84,371.70) rotate(-45)" font-size="7.35" text-anchor="end" fill="#1a1a1a">Fibre</text>
<text transform="translate(345.36,371.70) rotate(-45)" font-size="7.35" text-anchor="end" fill="#1a1a1a">Soluble fibre</text>
<text transform="translate(353.88,371.70) rotate(-45)" font-size="7.35" text-anchor="end" fill="#1a1a1a">Added sugar</text>
<text transform="translate(362.40,371.70) rotate(-45)" font-size="7.35" text-anchor="end" fill="#1a1a1a">Calcium</text>
<text transform="translate(370.92,371.70) rotate(-45)" font-size="7.35" text-anchor="end" fill="#1a1a1a">Phos</text>
<text transform="translate(379.44,371.70) rotate(-45)" font-size="7.35" text-anchor="end" fill="#1a1a1a">Sodium</text>
<text transform="translate(387.96,371.70) rotate(-45)" font-size="7.35" text-anchor="end" fill="#1a1a1a">Potassium</text>
<text transform="translate(396.48,371.70) rotate(-45)" font-size="7.35" text-anchor="end" fill="#1a1a1a">Magnesium</text>
<text transform="translate(405.00,371.70) rotate(-45)" font-size="7.35" text-anchor="end" fill="#1a1a1a">Chrome</text>
<text transform="translate(413.52,371.70) rotate(-45)" font-size="7.35" text-anchor="end" fill="#1a1a1a">Copper</text>
<text transform="translate(422.04,371.70) rotate(-45)" font-size="7.35" text-anchor="end" fill="#1a1a1a">Iodine</text>
<text transform="translate(430.56,371.70) rotate(-45)" font-size="7.35" text-anchor="end" fill="#1a1a1a">Iron</text>
<text transform="translate(439.08,371.70) rotate(-45)" font-size="7.35" text-anchor="end" fill="#1a1a1a">Molybdenum</text>
<text transform="translate(447.60,371.70) rotate(-45)" font-size="7.35" text-anchor="end" fill="#1a1a1a">Selenium</text>
<text transform="translate(456.12,371.70) rotate(-45)" font-size="7.35" text-anchor="end" fill="#1a1a1a">Zinc</text>
<text transform="translate(464.64,371.70) rotate(-45)" font-size="7.35" text-anchor="end" fill="#1a1a1a">Vitamin B1</text>
<text transform="translate(473.16,371.70) rotate(-45)" font-size="7.35" text-anchor="end" fill="#1a1a1a">Vitamin B2</text>
<text transform="translate(481.68,371.70) rotate(-45)" font-size="7.35" text-anchor="end" fill="#1a1a1a">Vitamin B3</text>
<text transform="translate(490.20,371.70) rotate(-45)" font-size="7.35" text-anchor="end" fill="#1a1a1a">Vitamin B5</text>
<text transform="translate(498.72,371.70) rotate(-45)" font-size="7.35" text-anchor="end" fill="#1a1a1a">Vitamin B6</text>
<text transform="translate(507.24,371.70) rotate(-45)" font-size="7.35" text-anchor="end" fill="#1a1a1a">Vitamin B12</text>
<text transform="translate(515.76,371.70) rotate(-45)" font-size="7.35" text-anchor="end" fill="#1a1a1a">Biotin</text>
<text transform="translate(524.28,371.70) rotate(-45)" font-size="7.35" text-anchor="end" fill="#1a1a1a">Vitamin C</text>
<text transform="translate(532.80,371.70) rotate(-45)" font-size="7.35" text-anchor="end" fill="#1a1a1a">Vitamin D</text>
<text transform="translate(541.32,371.70) rotate(-45)" font-size="7.35" text-anchor="end" fill="#1a1a1a">Folate</text>
<text transform="translate(549.84,371.70) rotate(-45)" font-size="7.35" text-anchor="end" fill="#1a1a1a">Vitamin K</text>
<text transform="translate(558.36,371.70) rotate(-45)" font-size="7.35" text-anchor="end" fill="#1a1a1a">Caffeine</text>
<text transform="translate(566.88,371.70) rotate(-45)" font-size="7.35" text-anchor="end" fill="#1a1a1a">Chlorophyll</text>
<text transform="translate(575.40,371.70) rotate(-45)" font-size="7.35" text-anchor="end" fill="#1a1a1a">Fruit</text>
<text transform="translate(583.92,371.70) rotate(-45)" font-size="7.35" text-anchor="end" fill="#1a1a1a">Vegetable</text>
<text transform="translate(592.44,371.70) rotate(-45)" font-size="7.35" text-anchor="end" fill="#1a1a1a">Sugarjam</text>
<text transform="translate(600.96,371.70) rotate(-45)" font-size="7.35" text-anchor="end" fill="#1a1a1a">Procmeat</text>
<text transform="translate(609.48,371.70) rotate(-45)" font-size="7.35" text-anchor="end" fill="#1a1a1a">Firedfood</text>
<text transform="translate(618.00,371.70) rotate(-45)" font-size="7.35" text-anchor="end" fill="#1a1a1a">darkgreen</text>
<text transform="translate(626.52,371.70) rotate(-45)" font-size="7.35" text-anchor="end" fill="#1a1a1a">Dairy</text>
<text transform="translate(635.04,371.70) rotate(-45)" font-size="7.35" text-anchor="end" fill="#1a1a1a">Bean</text>
<clipPath id="rk"><rect x="645.9" y="18.9" width="32.200000000000045" height="345.3"/></clipPath>
<g clip-path="url(#rk)"><circle cx="677" cy="22.80" r="2.95" fill="#82c3df" stroke="#222" stroke-width="0.7"/><circle cx="654.2" cy="29.70" r="2.95" fill="#82c3df" stroke="#222" stroke-width="0.7"/><circle cx="665.7" cy="36.59" r="2.95" fill="#82c3df" stroke="#222" stroke-width="0.7"/><circle cx="650.7" cy="43.49" r="2.95" fill="#82c3df" stroke="#222" stroke-width="0.7"/><circle cx="650.3" cy="50.38" r="2.95" fill="#82c3df" stroke="#222" stroke-width="0.7"/><circle cx="665.7" cy="57.28" r="2.95" fill="#82c3df" stroke="#222" stroke-width="0.7"/><circle cx="654.2" cy="64.18" r="2.95" fill="#82c3df" stroke="#222" stroke-width="0.7"/><circle cx="677" cy="71.07" r="2.95" fill="#82c3df" stroke="#222" stroke-width="0.7"/><circle cx="659.2" cy="77.97" r="2.95" fill="#82c3df" stroke="#222" stroke-width="0.7"/><circle cx="665.7" cy="84.86" r="2.95" fill="#82c3df" stroke="#222" stroke-width="0.7"/><circle cx="665.7" cy="91.76" r="2.95" fill="#82c3df" stroke="#222" stroke-width="0.7"/><circle cx="677" cy="98.66" r="2.95" fill="#82c3df" stroke="#222" stroke-width="0.7"/><circle cx="677" cy="105.55" r="2.95" fill="#82c3df" stroke="#222" stroke-width="0.7"/><circle cx="659.2" cy="112.45" r="2.95" fill="#82c3df" stroke="#222" stroke-width="0.7"/><circle cx="659.2" cy="119.34" r="2.95" fill="#82c3df" stroke="#222" stroke-width="0.7"/><circle cx="677" cy="126.24" r="2.95" fill="#82c3df" stroke="#222" stroke-width="0.7"/><circle cx="677" cy="133.14" r="2.95" fill="#82c3df" stroke="#222" stroke-width="0.7"/><circle cx="677" cy="140.03" r="2.95" fill="#82c3df" stroke="#222" stroke-width="0.7"/><circle cx="651.9" cy="146.93" r="2.95" fill="#82c3df" stroke="#222" stroke-width="0.7"/><circle cx="654.2" cy="153.82" r="2.95" fill="#82c3df" stroke="#222" stroke-width="0.7"/><circle cx="677" cy="160.72" r="2.95" fill="#82c3df" stroke="#222" stroke-width="0.7"/><circle cx="677" cy="167.62" r="2.95" fill="#82c3df" stroke="#222" stroke-width="0.7"/><circle cx="665.7" cy="174.51" r="2.95" fill="#82c3df" stroke="#222" stroke-width="0.7"/><circle cx="677" cy="181.41" r="2.95" fill="#82c3df" stroke="#222" stroke-width="0.7"/><circle cx="659.2" cy="188.30" r="2.95" fill="#82c3df" stroke="#222" stroke-width="0.7"/><circle cx="677" cy="195.20" r="2.95" fill="#82c3df" stroke="#222" stroke-width="0.7"/><circle cx="648.9" cy="202.10" r="2.95" fill="#82c3df" stroke="#222" stroke-width="0.7"/><circle cx="654.2" cy="208.99" r="2.95" fill="#82c3df" stroke="#222" stroke-width="0.7"/><circle cx="651.9" cy="215.89" r="2.95" fill="#82c3df" stroke="#222" stroke-width="0.7"/><circle cx="648.9" cy="222.78" r="2.95" fill="#82c3df" stroke="#222" stroke-width="0.7"/><circle cx="648.9" cy="229.68" r="2.95" fill="#82c3df" stroke="#222" stroke-width="0.7"/><circle cx="665.7" cy="236.58" r="2.95" fill="#82c3df" stroke="#222" stroke-width="0.7"/><circle cx="665.7" cy="243.47" r="2.95" fill="#82c3df" stroke="#222" stroke-width="0.7"/><circle cx="677" cy="250.37" r="2.95" fill="#82c3df" stroke="#222" stroke-width="0.7"/><circle cx="659.2" cy="257.26" r="2.95" fill="#82c3df" stroke="#222" stroke-width="0.7"/><circle cx="659.2" cy="264.16" r="2.95" fill="#82c3df" stroke="#222" stroke-width="0.7"/><circle cx="659.2" cy="271.06" r="2.95" fill="#82c3df" stroke="#222" stroke-width="0.7"/><circle cx="659.2" cy="277.95" r="2.95" fill="#82c3df" stroke="#222" stroke-width="0.7"/><circle cx="647.3" cy="284.85" r="2.95" fill="#82c3df" stroke="#222" stroke-width="0.7"/><circle cx="677" cy="291.74" r="2.95" fill="#82c3df" stroke="#222" stroke-width="0.7"/><circle cx="677" cy="298.64" r="2.95" fill="#82c3df" stroke="#222" stroke-width="0.7"/><circle cx="677" cy="305.54" r="2.95" fill="#82c3df" stroke="#222" stroke-width="0.7"/><circle cx="677" cy="312.43" r="2.95" fill="#82c3df" stroke="#222" stroke-width="0.7"/><circle cx="665.7" cy="319.33" r="2.95" fill="#82c3df" stroke="#222" stroke-width="0.7"/><circle cx="659.2" cy="326.22" r="2.95" fill="#82c3df" stroke="#222" stroke-width="0.7"/><circle cx="659.2" cy="333.12" r="2.95" fill="#82c3df" stroke="#222" stroke-width="0.7"/><circle cx="677" cy="340.02" r="2.95" fill="#82c3df" stroke="#222" stroke-width="0.7"/><circle cx="677" cy="346.91" r="2.95" fill="#82c3df" stroke="#222" stroke-width="0.7"/><circle cx="659.2" cy="353.81" r="2.95" fill="#82c3df" stroke="#222" stroke-width="0.7"/><circle cx="654.2" cy="360.70" r="2.95" fill="#82c3df" stroke="#222" stroke-width="0.7"/></g>
<rect x="645.9" y="18.9" width="32.200000000000045" height="345.3" fill="none" stroke="#222" stroke-width="1.3"/>
<path d="M645.9 364.2V366.4 M652.7 364.2V366.4 M659.5 364.2V366.4 M666.3 364.2V366.4 M673.1 364.2V366.4" stroke="#333" stroke-width="0.7"/>
<text x="645" y="372" font-size="5.6" fill="#4d4d4d" textLength="34" lengthAdjust="spacingAndGlyphs">0 10203040</text>
<text x="651.8" y="381.6" font-size="8.9" fill="#1a1a1a">Rank</text>
<rect x="439.5" y="405.5" width="8" height="7" fill="none" stroke="#2a2222" stroke-width="1.3"/>
<circle cx="443.4" cy="420.6" r="4.0" fill="none" stroke="#1a1a1a" stroke-width="1.3"/>
<text x="453.8" y="412.6" font-size="9.2" fill="#1a1a1a">Association in non-ASD</text>
<text x="453.8" y="423.7" font-size="9.2" fill="#1a1a1a">Associations in ASD</text>
<text x="562.6" y="409.7" font-size="9.3" fill="#1a1a1a">Coef Assessed by MaAsLin2</text>
<linearGradient id="cb" x1="0" x2="1" y1="0" y2="0"><stop offset="0" stop-color="#2f2a8e"/><stop offset="0.47" stop-color="#ffffff"/><stop offset="1" stop-color="#a82a2a"/></linearGradient>
<rect x="563.4" y="412.1" width="53.4" height="10.6" fill="url(#cb)"/>
<path d="M576.5 421v1.7M588.2 421v1.7M603.5 421v1.7" stroke="#fff" stroke-width="0.6"/>
<text x="576.5" y="430.7" font-size="6.4" fill="#4d4d4d" text-anchor="middle">−0.5</text>
<text x="589.2" y="430.7" font-size="6.4" fill="#4d4d4d" text-anchor="middle">0.0</text>
<text x="603.5" y="430.7" font-size="6.4" fill="#4d4d4d" text-anchor="middle">0.5</text>
<text transform="translate(12.6,468) scale(1,1.09)" font-size="22" font-weight="bold" fill="#1a1a1a">B</text>
<rect x="581.8" y="446.8" width="11.5" height="11.5" fill="#a7dbd3" stroke="#1a1a1a" stroke-width="1.1"/>
<rect x="581.8" y="461.5" width="11.5" height="11.5" fill="#fac59b" stroke="#1a1a1a" stroke-width="1.1"/>
<text x="598.5" y="455.9" font-size="9.3" fill="#1a1a1a">Positive num.</text>
<text x="598.5" y="470.6" font-size="9.3" fill="#1a1a1a">Negative num.</text>
<rect x="52.3" y="478.6" width="611.0" height="59.0" fill="none" stroke="#555" stroke-width="1.2"/>
<text x="49.6" y="499" font-size="9" text-anchor="end" fill="#1a1a1a">non-ASD</text>
<text x="48.3" y="521.5" font-size="9" text-anchor="end" fill="#1a1a1a">ASD</text>
<circle cx="65.30" cy="518.4" r="8.0" fill="#fac59b"/><path d="M65.30 518.4L65.30 510.4A8.0 8.0 0 0 1 72.23 522.40Z" fill="#a7dbd3"/><path d="M65.30 518.4L72.23 522.40" stroke="#111" stroke-width="1.3"/><path d="M65.30 518.4V510.4" stroke="#111" stroke-width="1.3"/><circle cx="65.30" cy="518.4" r="8.0" fill="none" stroke="#111" stroke-width="1.5"/>
<text x="65.30" y="533.6" font-size="6.9" text-anchor="middle" fill="#222">9</text>
<circle cx="85.44" cy="518.4" r="8.0" fill="#fac59b"/><path d="M85.44 518.4L85.44 510.4A8.0 8.0 0 1 1 81.59 525.41Z" fill="#a7dbd3"/><path d="M85.44 518.4L81.59 525.41" stroke="#111" stroke-width="1.3"/><path d="M85.44 518.4V510.4" stroke="#111" stroke-width="1.3"/><circle cx="85.44" cy="518.4" r="8.0" fill="none" stroke="#111" stroke-width="1.5"/>
<text x="85.44" y="533.6" font-size="6.9" text-anchor="middle" fill="#222">27</text>
<circle cx="105.58" cy="518.4" r="8.0" fill="#fac59b"/><path d="M105.58 518.4V510.4" stroke="#111" stroke-width="1.3"/><circle cx="105.58" cy="518.4" r="8.0" fill="none" stroke="#111" stroke-width="1.5"/>
<text x="105.58" y="533.6" font-size="6.9" text-anchor="middle" fill="#222">3</text>
<circle cx="125.72" cy="518.4" r="8.0" fill="#fac59b"/><path d="M125.72 518.4L125.72 510.4A8.0 8.0 0 1 1 120.24 524.23Z" fill="#a7dbd3"/><path d="M125.72 518.4L120.24 524.23" stroke="#111" stroke-width="1.3"/><path d="M125.72 518.4V510.4" stroke="#111" stroke-width="1.3"/><circle cx="125.72" cy="518.4" r="8.0" fill="none" stroke="#111" stroke-width="1.5"/>
<text x="125.72" y="533.6" font-size="6.9" text-anchor="middle" fill="#222">8</text>
<circle cx="145.86" cy="518.4" r="8.0" fill="#fac59b"/><path d="M145.86 518.4L145.86 510.4A8.0 8.0 0 1 1 139.39 523.10Z" fill="#a7dbd3"/><path d="M145.86 518.4L139.39 523.10" stroke="#111" stroke-width="1.3"/><path d="M145.86 518.4V510.4" stroke="#111" stroke-width="1.3"/><circle cx="145.86" cy="518.4" r="8.0" fill="none" stroke="#111" stroke-width="1.5"/>
<text x="145.86" y="533.6" font-size="6.9" text-anchor="middle" fill="#222">19</text>
<circle cx="166.00" cy="518.4" r="8.0" fill="#fac59b"/><path d="M166.00 518.4L166.00 510.4A8.0 8.0 0 0 1 171.48 512.57Z" fill="#a7dbd3"/><path d="M166.00 518.4L171.48 512.57" stroke="#111" stroke-width="1.3"/><path d="M166.00 518.4V510.4" stroke="#111" stroke-width="1.3"/><circle cx="166.00" cy="518.4" r="8.0" fill="none" stroke="#111" stroke-width="1.5"/>
<text x="166.00" y="533.6" font-size="6.9" text-anchor="middle" fill="#222">9</text>
<circle cx="186.14" cy="518.4" r="8.0" fill="#fac59b"/><path d="M186.14 518.4L186.14 510.4A8.0 8.0 0 0 1 186.14 526.40Z" fill="#a7dbd3"/><path d="M186.14 518.4L186.14 526.40" stroke="#111" stroke-width="1.3"/><path d="M186.14 518.4V510.4" stroke="#111" stroke-width="1.3"/><circle cx="186.14" cy="518.4" r="8.0" fill="none" stroke="#111" stroke-width="1.5"/>
<text x="186.14" y="533.6" font-size="6.9" text-anchor="middle" fill="#222">6</text>
<circle cx="206.28" cy="518.4" r="8.0" fill="#fac59b"/><path d="M206.28 518.4V510.4" stroke="#111" stroke-width="1.3"/><circle cx="206.28" cy="518.4" r="8.0" fill="none" stroke="#111" stroke-width="1.5"/>
<text x="206.28" y="533.6" font-size="6.9" text-anchor="middle" fill="#222">1</text>
<circle cx="226.42" cy="518.4" r="8.0" fill="#fac59b"/><path d="M226.42 518.4L226.42 510.4A8.0 8.0 0 0 1 234.28 516.90Z" fill="#a7dbd3"/><path d="M226.42 518.4L234.28 516.90" stroke="#111" stroke-width="1.3"/><path d="M226.42 518.4V510.4" stroke="#111" stroke-width="1.3"/><circle cx="226.42" cy="518.4" r="8.0" fill="none" stroke="#111" stroke-width="1.5"/>
<text x="226.42" y="533.6" font-size="6.9" text-anchor="middle" fill="#222">27</text>
<circle cx="246.56" cy="518.4" r="8.0" fill="#fac59b"/><path d="M246.56 518.4L246.56 510.4A8.0 8.0 0 1 1 241.86 524.87Z" fill="#a7dbd3"/><path d="M246.56 518.4L241.86 524.87" stroke="#111" stroke-width="1.3"/><path d="M246.56 518.4V510.4" stroke="#111" stroke-width="1.3"/><circle cx="246.56" cy="518.4" r="8.0" fill="none" stroke="#111" stroke-width="1.5"/>
<text x="246.56" y="533.6" font-size="6.9" text-anchor="middle" fill="#222">20</text>
<circle cx="266.70" cy="518.4" r="8.0" fill="#fac59b"/><path d="M266.70 518.4L266.70 510.4A8.0 8.0 0 0 1 273.63 522.40Z" fill="#a7dbd3"/><path d="M266.70 518.4L273.63 522.40" stroke="#111" stroke-width="1.3"/><path d="M266.70 518.4V510.4" stroke="#111" stroke-width="1.3"/><circle cx="266.70" cy="518.4" r="8.0" fill="none" stroke="#111" stroke-width="1.5"/>
<text x="266.70" y="533.6" font-size="6.9" text-anchor="middle" fill="#222">9</text>
<circle cx="286.84" cy="518.4" r="8.0" fill="#fac59b"/><path d="M286.84 518.4L286.84 510.4A8.0 8.0 0 0 1 286.84 526.40Z" fill="#a7dbd3"/><path d="M286.84 518.4L286.84 526.40" stroke="#111" stroke-width="1.3"/><path d="M286.84 518.4V510.4" stroke="#111" stroke-width="1.3"/><circle cx="286.84" cy="518.4" r="8.0" fill="none" stroke="#111" stroke-width="1.5"/>
<text x="286.84" y="533.6" font-size="6.9" text-anchor="middle" fill="#222">4</text>
<circle cx="306.98" cy="518.4" r="8.0" fill="#fac59b"/><path d="M306.98 518.4L306.98 510.4A8.0 8.0 0 1 1 299.74 521.81Z" fill="#a7dbd3"/><path d="M306.98 518.4L299.74 521.81" stroke="#111" stroke-width="1.3"/><path d="M306.98 518.4V510.4" stroke="#111" stroke-width="1.3"/><circle cx="306.98" cy="518.4" r="8.0" fill="none" stroke="#111" stroke-width="1.5"/>
<text x="306.98" y="533.6" font-size="6.9" text-anchor="middle" fill="#222">28</text>
<circle cx="327.12" cy="518.4" r="8.0" fill="#fac59b"/><path d="M327.12 518.4L327.12 510.4A8.0 8.0 0 1 1 319.12 518.40Z" fill="#a7dbd3"/><path d="M327.12 518.4L319.12 518.40" stroke="#111" stroke-width="1.3"/><path d="M327.12 518.4V510.4" stroke="#111" stroke-width="1.3"/><circle cx="327.12" cy="518.4" r="8.0" fill="none" stroke="#111" stroke-width="1.5"/>
<text x="327.12" y="533.6" font-size="6.9" text-anchor="middle" fill="#222">4</text>
<circle cx="347.26" cy="518.4" r="8.0" fill="#fac59b"/><path d="M347.26 518.4L347.26 510.4A8.0 8.0 0 1 1 339.98 515.08Z" fill="#a7dbd3"/><path d="M347.26 518.4L339.98 515.08" stroke="#111" stroke-width="1.3"/><path d="M347.26 518.4V510.4" stroke="#111" stroke-width="1.3"/><circle cx="347.26" cy="518.4" r="8.0" fill="none" stroke="#111" stroke-width="1.5"/>
<text x="347.26" y="533.6" font-size="6.9" text-anchor="middle" fill="#222">11</text>
<circle cx="367.40" cy="518.4" r="8.0" fill="#fac59b"/><path d="M367.40 518.4L367.40 510.4A8.0 8.0 0 1 1 359.79 515.93Z" fill="#a7dbd3"/><path d="M367.40 518.4L359.79 515.93" stroke="#111" stroke-width="1.3"/><path d="M367.40 518.4V510.4" stroke="#111" stroke-width="1.3"/><circle cx="367.40" cy="518.4" r="8.0" fill="none" stroke="#111" stroke-width="1.5"/>
<text x="367.40" y="533.6" font-size="6.9" text-anchor="middle" fill="#222">5</text>
<circle cx="387.54" cy="518.4" r="8.0" fill="#fac59b"/><path d="M387.54 518.4L387.54 510.4A8.0 8.0 0 1 1 382.84 524.87Z" fill="#a7dbd3"/><path d="M387.54 518.4L382.84 524.87" stroke="#111" stroke-width="1.3"/><path d="M387.54 518.4V510.4" stroke="#111" stroke-width="1.3"/><circle cx="387.54" cy="518.4" r="8.0" fill="none" stroke="#111" stroke-width="1.5"/>
<text x="387.54" y="533.6" font-size="6.9" text-anchor="middle" fill="#222">5</text>
<circle cx="407.68" cy="518.4" r="8.0" fill="#fac59b"/><path d="M407.68 518.4L407.68 510.4A8.0 8.0 0 1 1 402.20 524.23Z" fill="#a7dbd3"/><path d="M407.68 518.4L402.20 524.23" stroke="#111" stroke-width="1.3"/><path d="M407.68 518.4V510.4" stroke="#111" stroke-width="1.3"/><circle cx="407.68" cy="518.4" r="8.0" fill="none" stroke="#111" stroke-width="1.5"/>
<text x="407.68" y="533.6" font-size="6.9" text-anchor="middle" fill="#222">10</text>
<circle cx="427.82" cy="518.4" r="8.0" fill="#fac59b"/><path d="M427.82 518.4L427.82 510.4A8.0 8.0 0 0 1 435.43 515.93Z" fill="#a7dbd3"/><path d="M427.82 518.4L435.43 515.93" stroke="#111" stroke-width="1.3"/><path d="M427.82 518.4V510.4" stroke="#111" stroke-width="1.3"/><circle cx="427.82" cy="518.4" r="8.0" fill="none" stroke="#111" stroke-width="1.5"/>
<text x="427.82" y="533.6" font-size="6.9" text-anchor="middle" fill="#222">10</text>
<circle cx="447.96" cy="518.4" r="8.0" fill="#a7dbd3"/><path d="M447.96 518.4V510.4" stroke="#111" stroke-width="1.3"/><circle cx="447.96" cy="518.4" r="8.0" fill="none" stroke="#111" stroke-width="1.5"/>
<text x="447.96" y="533.6" font-size="6.9" text-anchor="middle" fill="#222">6</text>
<circle cx="468.10" cy="518.4" r="8.0" fill="#fac59b"/><path d="M468.10 518.4L468.10 510.4A8.0 8.0 0 0 1 476.10 518.40Z" fill="#a7dbd3"/><path d="M468.10 518.4L476.10 518.40" stroke="#111" stroke-width="1.3"/><path d="M468.10 518.4V510.4" stroke="#111" stroke-width="1.3"/><circle cx="468.10" cy="518.4" r="8.0" fill="none" stroke="#111" stroke-width="1.5"/>
<text x="468.10" y="533.6" font-size="6.9" text-anchor="middle" fill="#222">16</text>
<circle cx="488.24" cy="518.4" r="8.0" fill="#fac59b"/><path d="M488.24 518.4L488.24 510.4A8.0 8.0 0 0 1 495.17 522.40Z" fill="#a7dbd3"/><path d="M488.24 518.4L495.17 522.40" stroke="#111" stroke-width="1.3"/><path d="M488.24 518.4V510.4" stroke="#111" stroke-width="1.3"/><circle cx="488.24" cy="518.4" r="8.0" fill="none" stroke="#111" stroke-width="1.5"/>
<text x="488.24" y="533.6" font-size="6.9" text-anchor="middle" fill="#222">3</text>
<circle cx="508.38" cy="518.4" r="8.0" fill="#fac59b"/><path d="M508.38 518.4L508.38 510.4A8.0 8.0 0 1 1 500.94 521.34Z" fill="#a7dbd3"/><path d="M508.38 518.4L500.94 521.34" stroke="#111" stroke-width="1.3"/><path d="M508.38 518.4V510.4" stroke="#111" stroke-width="1.3"/><circle cx="508.38" cy="518.4" r="8.0" fill="none" stroke="#111" stroke-width="1.5"/>
<text x="508.38" y="533.6" font-size="6.9" text-anchor="middle" fill="#222">13</text>
<circle cx="528.52" cy="518.4" r="8.0" fill="#fac59b"/><path d="M528.52 518.4L528.52 510.4A8.0 8.0 0 1 1 521.77 522.69Z" fill="#a7dbd3"/><path d="M528.52 518.4L521.77 522.69" stroke="#111" stroke-width="1.3"/><path d="M528.52 518.4V510.4" stroke="#111" stroke-width="1.3"/><circle cx="528.52" cy="518.4" r="8.0" fill="none" stroke="#111" stroke-width="1.5"/>
<text x="528.52" y="533.6" font-size="6.9" text-anchor="middle" fill="#222">18</text>
<circle cx="548.66" cy="518.4" r="8.0" fill="#fac59b"/><path d="M548.66 518.4L548.66 510.4A8.0 8.0 0 0 1 548.66 526.40Z" fill="#a7dbd3"/><path d="M548.66 518.4L548.66 526.40" stroke="#111" stroke-width="1.3"/><path d="M548.66 518.4V510.4" stroke="#111" stroke-width="1.3"/><circle cx="548.66" cy="518.4" r="8.0" fill="none" stroke="#111" stroke-width="1.5"/>
<text x="548.66" y="533.6" font-size="6.9" text-anchor="middle" fill="#222">6</text>
<circle cx="568.80" cy="518.4" r="8.0" fill="#fac59b"/><path d="M568.80 518.4L568.80 510.4A8.0 8.0 0 1 1 564.10 524.87Z" fill="#a7dbd3"/><path d="M568.80 518.4L564.10 524.87" stroke="#111" stroke-width="1.3"/><path d="M568.80 518.4V510.4" stroke="#111" stroke-width="1.3"/><circle cx="568.80" cy="518.4" r="8.0" fill="none" stroke="#111" stroke-width="1.5"/>
<text x="568.80" y="533.6" font-size="6.9" text-anchor="middle" fill="#222">5</text>
<circle cx="588.94" cy="518.4" r="8.0" fill="#fac59b"/><path d="M588.94 518.4L588.94 510.4A8.0 8.0 0 0 1 596.55 515.93Z" fill="#a7dbd3"/><path d="M588.94 518.4L596.55 515.93" stroke="#111" stroke-width="1.3"/><path d="M588.94 518.4V510.4" stroke="#111" stroke-width="1.3"/><circle cx="588.94" cy="518.4" r="8.0" fill="none" stroke="#111" stroke-width="1.5"/>
<text x="588.94" y="533.6" font-size="6.9" text-anchor="middle" fill="#222">5</text>
<circle cx="609.08" cy="518.4" r="8.0" fill="#fac59b"/><path d="M609.08 518.4L609.08 510.4A8.0 8.0 0 0 1 616.01 522.40Z" fill="#a7dbd3"/><path d="M609.08 518.4L616.01 522.40" stroke="#111" stroke-width="1.3"/><path d="M609.08 518.4V510.4" stroke="#111" stroke-width="1.3"/><circle cx="609.08" cy="518.4" r="8.0" fill="none" stroke="#111" stroke-width="1.5"/>
<text x="609.08" y="533.6" font-size="6.9" text-anchor="middle" fill="#222">9</text>
<circle cx="629.22" cy="518.4" r="8.0" fill="#a7dbd3"/><path d="M629.22 518.4V510.4" stroke="#111" stroke-width="1.3"/><circle cx="629.22" cy="518.4" r="8.0" fill="none" stroke="#111" stroke-width="1.5"/>
<text x="629.22" y="533.6" font-size="6.9" text-anchor="middle" fill="#222">3</text>
<circle cx="649.36" cy="518.4" r="8.0" fill="#fac59b"/><path d="M649.36 518.4L649.36 510.4A8.0 8.0 0 1 1 644.22 512.27Z" fill="#a7dbd3"/><path d="M649.36 518.4L644.22 512.27" stroke="#111" stroke-width="1.3"/><path d="M649.36 518.4V510.4" stroke="#111" stroke-width="1.3"/><circle cx="649.36" cy="518.4" r="8.0" fill="none" stroke="#111" stroke-width="1.5"/>
<text x="649.36" y="533.6" font-size="6.9" text-anchor="middle" fill="#222">9</text>
<circle cx="65.30" cy="496.1" r="8.0" fill="#fac59b"/><path d="M65.30 496.1L65.30 488.1A8.0 8.0 0 1 1 57.30 496.10Z" fill="#a7dbd3"/><path d="M65.30 496.1L57.30 496.10" stroke="#111" stroke-width="1.3"/><path d="M65.30 496.1V488.1" stroke="#111" stroke-width="1.3"/><circle cx="65.30" cy="496.1" r="8.0" fill="none" stroke="#111" stroke-width="1.5"/>
<text x="65.30" y="503" font-size="6.9" text-anchor="middle" fill="#222">4</text>
<circle cx="166.00" cy="496.1" r="8.0" fill="#fac59b"/><path d="M166.00 496.1L166.00 488.1A8.0 8.0 0 0 1 172.93 500.10Z" fill="#a7dbd3"/><path d="M166.00 496.1L172.93 500.10" stroke="#111" stroke-width="1.3"/><path d="M166.00 496.1V488.1" stroke="#111" stroke-width="1.3"/><circle cx="166.00" cy="496.1" r="8.0" fill="none" stroke="#111" stroke-width="1.5"/>
<text x="166.00" y="503" font-size="6.9" text-anchor="middle" fill="#222">3</text>
<circle cx="226.42" cy="496.1" r="8.0" fill="#fac59b"/><path d="M226.42 496.1V488.1" stroke="#111" stroke-width="1.3"/><circle cx="226.42" cy="496.1" r="8.0" fill="none" stroke="#111" stroke-width="1.5"/>
<text x="226.42" y="503" font-size="6.9" text-anchor="middle" fill="#222">1</text>
<circle cx="508.38" cy="496.1" r="8.0" fill="#a7dbd3"/><path d="M508.38 496.1V488.1" stroke="#111" stroke-width="1.3"/><circle cx="508.38" cy="496.1" r="8.0" fill="none" stroke="#111" stroke-width="1.5"/>
<text x="508.38" y="503" font-size="6.9" text-anchor="middle" fill="#222">1</text>
<circle cx="528.52" cy="496.1" r="8.0" fill="#a7dbd3"/><path d="M528.52 496.1V488.1" stroke="#111" stroke-width="1.3"/><circle cx="528.52" cy="496.1" r="8.0" fill="none" stroke="#111" stroke-width="1.5"/>
<text x="528.52" y="503" font-size="6.9" text-anchor="middle" fill="#222">1</text>
<path d="M52.3 537.6V743.2H663.3V537.6" fill="none" stroke="#555" stroke-width="1.2"/>
<text x="48.4" y="739.9" font-size="7.2" text-anchor="end" fill="#4d4d4d">0.0</text>
<text x="48.4" y="686.7" font-size="7.2" text-anchor="end" fill="#4d4d4d">0.2</text>
<text x="48.4" y="633.5" font-size="7.2" text-anchor="end" fill="#4d4d4d">0.4</text>
<text x="48.4" y="580.3" font-size="7.2" text-anchor="end" fill="#4d4d4d">0.6</text>
<text x="665.6" y="744.5" font-size="7.2" fill="#4d4d4d">0.5</text>
<text x="665.6" y="685.7" font-size="7.2" fill="#4d4d4d">0.6</text>
<text x="665.6" y="626.9" font-size="7.2" fill="#4d4d4d">0.7</text>
<text x="665.6" y="568.1" font-size="7.2" fill="#4d4d4d">0.8</text>
<text transform="translate(30.3,641) rotate(-90)" font-size="11.7" text-anchor="middle" fill="#1a1a1a">Correlation Coefficient</text>
<text transform="translate(676.3,639.4) rotate(90)" font-size="11.5" text-anchor="middle" fill="#1a1a1a">AUC</text>
<path d="M64.00 556.5V584.0M64.00 607.4V637.2" stroke="#58ab5c" stroke-width="1.05"/>
<rect x="56.20" y="584.0" width="15.6" height="23.40" fill="#9ed6c4" stroke="#58ab5c" stroke-width="1.05"/>
<path d="M56.20 596.8H71.80" stroke="#58ab5c" stroke-width="1.8"/>
<path d="M84.25 577.4V603.6M84.25 626.5V650.0" stroke="#58ab5c" stroke-width="1.05"/>
<rect x="76.45" y="603.6" width="15.6" height="22.90" fill="#9ed6c4" stroke="#58ab5c" stroke-width="1.05"/>
<path d="M76.45 615.6H92.05" stroke="#58ab5c" stroke-width="1.8"/>
<path d="M104.50 578.2V604.9M104.50 627.3V659.1" stroke="#58ab5c" stroke-width="1.05"/>
<rect x="96.70" y="604.9" width="15.6" height="22.40" fill="#9ed6c4" stroke="#58ab5c" stroke-width="1.05"/>
<path d="M96.70 615.6H112.30" stroke="#58ab5c" stroke-width="1.8"/>
<path d="M124.75 582.0V613.8M124.75 642.3V681.2" stroke="#58ab5c" stroke-width="1.05"/>
<rect x="116.95" y="613.8" width="15.6" height="28.50" fill="#9ed6c4" stroke="#58ab5c" stroke-width="1.05"/>
<path d="M116.95 628.6H132.55" stroke="#58ab5c" stroke-width="1.8"/>
<path d="M145.00 604.9V626.5M145.00 648.1V678.7" stroke="#58ab5c" stroke-width="1.05"/>
<rect x="137.20" y="626.5" width="15.6" height="21.60" fill="#9ed6c4" stroke="#58ab5c" stroke-width="1.05"/>
<path d="M137.20 636.7H152.80" stroke="#58ab5c" stroke-width="1.8"/>
<path d="M165.25 599.0V633.6M165.25 665.4V698.3" stroke="#58ab5c" stroke-width="1.05"/>
<rect x="157.45" y="633.6" width="15.6" height="31.80" fill="#9ed6c4" stroke="#58ab5c" stroke-width="1.05"/>
<path d="M157.45 648.1H173.05" stroke="#58ab5c" stroke-width="1.8"/>
<path d="M185.50 612.0V641.3M185.50 670.3V709.2" stroke="#58ab5c" stroke-width="1.05"/>
<rect x="177.70" y="641.3" width="15.6" height="29.00" fill="#9ed6c4" stroke="#58ab5c" stroke-width="1.05"/>
<path d="M177.70 656.0H193.30" stroke="#58ab5c" stroke-width="1.8"/>
<path d="M205.75 573.1V613.8M205.75 641.3V668.5" stroke="#d7652e" stroke-width="1.05"/>
<rect x="197.95" y="613.8" width="15.6" height="27.50" fill="#f6ad7b" stroke="#d7652e" stroke-width="1.05"/>
<path d="M197.95 627.8H213.55" stroke="#d7652e" stroke-width="1.8"/>
<path d="M226.00 547.1V594.0M226.00 666.7V699.0" stroke="#d7652e" stroke-width="1.05"/>
<rect x="218.20" y="594.0" width="15.6" height="72.70" fill="#f6ad7b" stroke="#d7652e" stroke-width="1.05"/>
<path d="M218.20 618.1H233.80" stroke="#d7652e" stroke-width="1.8"/>
<path d="M246.25 591.7V612.5M246.25 643.3V674.4" stroke="#d7652e" stroke-width="1.05"/>
<rect x="238.45" y="612.5" width="15.6" height="30.80" fill="#f6ad7b" stroke="#d7652e" stroke-width="1.05"/>
<path d="M238.45 624.8H254.05" stroke="#d7652e" stroke-width="1.8"/>
<path d="M266.50 585.8V614.6M266.50 641.3V671.0" stroke="#d7652e" stroke-width="1.05"/>
<rect x="258.70" y="614.6" width="15.6" height="26.70" fill="#f6ad7b" stroke="#d7652e" stroke-width="1.05"/>
<path d="M258.70 626.8H274.30" stroke="#d7652e" stroke-width="1.8"/>
<path d="M286.75 586.3V620.2M286.75 650.7V683.8" stroke="#d7652e" stroke-width="1.05"/>
<rect x="278.95" y="620.2" width="15.6" height="30.50" fill="#f6ad7b" stroke="#d7652e" stroke-width="1.05"/>
<path d="M278.95 636.2H294.55" stroke="#d7652e" stroke-width="1.8"/>
<path d="M307.00 601.8V624.5M307.00 650.2V683.0" stroke="#d7652e" stroke-width="1.05"/>
<rect x="299.20" y="624.5" width="15.6" height="25.70" fill="#f6ad7b" stroke="#d7652e" stroke-width="1.05"/>
<path d="M299.20 641.8H314.80" stroke="#d7652e" stroke-width="1.8"/>
<path d="M327.25 593.4V622.7M327.25 654.5V678.7" stroke="#d7652e" stroke-width="1.05"/>
<rect x="319.45" y="622.7" width="15.6" height="31.80" fill="#f6ad7b" stroke="#d7652e" stroke-width="1.05"/>
<path d="M319.45 642.6H335.05" stroke="#d7652e" stroke-width="1.8"/>
<path d="M347.50 594.0V624.0M347.50 656.6V699.8" stroke="#d7652e" stroke-width="1.05"/>
<rect x="339.70" y="624.0" width="15.6" height="32.60" fill="#f6ad7b" stroke="#d7652e" stroke-width="1.05"/>
<path d="M339.70 639.3H355.30" stroke="#d7652e" stroke-width="1.8"/>
<path d="M367.75 607.0V631.1M367.75 651.2V674.4" stroke="#d7652e" stroke-width="1.05"/>
<rect x="359.95" y="631.1" width="15.6" height="20.10" fill="#f6ad7b" stroke="#d7652e" stroke-width="1.05"/>
<path d="M359.95 640.0H375.55" stroke="#d7652e" stroke-width="1.8"/>
<path d="M388.00 608.2V629.8M388.00 651.5V681.3" stroke="#d7652e" stroke-width="1.05"/>
<rect x="380.20" y="629.8" width="15.6" height="21.70" fill="#f6ad7b" stroke="#d7652e" stroke-width="1.05"/>
<path d="M380.20 642.3H395.80" stroke="#d7652e" stroke-width="1.8"/>
<path d="M408.25 597.3V632.9M408.25 658.4V689.4" stroke="#d7652e" stroke-width="1.05"/>
<rect x="400.45" y="632.9" width="15.6" height="25.50" fill="#f6ad7b" stroke="#d7652e" stroke-width="1.05"/>
<path d="M400.45 643.6H416.05" stroke="#d7652e" stroke-width="1.8"/>
<path d="M428.50 611.3V634.9M428.50 655.8V685.8" stroke="#d7652e" stroke-width="1.05"/>
<rect x="420.70" y="634.9" width="15.6" height="20.90" fill="#f6ad7b" stroke="#d7652e" stroke-width="1.05"/>
<path d="M420.70 643.8H436.30" stroke="#d7652e" stroke-width="1.8"/>
<path d="M448.75 580.2V630.4M448.75 669.8V714.3" stroke="#d7652e" stroke-width="1.05"/>
<rect x="440.95" y="630.4" width="15.6" height="39.40" fill="#f6ad7b" stroke="#d7652e" stroke-width="1.05"/>
<path d="M440.95 649.4H456.55" stroke="#d7652e" stroke-width="1.8"/>
<path d="M469.00 613.8V639.3M469.00 663.4V683.8" stroke="#d7652e" stroke-width="1.05"/>
<rect x="461.20" y="639.3" width="15.6" height="24.10" fill="#f6ad7b" stroke="#d7652e" stroke-width="1.05"/>
<path d="M461.20 648.9H476.80" stroke="#d7652e" stroke-width="1.8"/>
<path d="M489.25 620.2V640.5M489.25 661.4V683.8" stroke="#d7652e" stroke-width="1.05"/>
<rect x="481.45" y="640.5" width="15.6" height="20.90" fill="#f6ad7b" stroke="#d7652e" stroke-width="1.05"/>
<path d="M481.45 650.7H497.05" stroke="#d7652e" stroke-width="1.8"/>
<path d="M509.50 557.3V585.8M509.50 622.2V669.8" stroke="#3c8fd1" stroke-width="1.05"/>
<rect x="501.70" y="585.8" width="15.6" height="36.40" fill="#abd0f0" stroke="#3c8fd1" stroke-width="1.05"/>
<path d="M501.70 597.4H517.30" stroke="#3c8fd1" stroke-width="1.8"/>
<path d="M529.75 571.0V612.5M529.75 645.1V689.7" stroke="#3c8fd1" stroke-width="1.05"/>
<rect x="521.95" y="612.5" width="15.6" height="32.60" fill="#abd0f0" stroke="#3c8fd1" stroke-width="1.05"/>
<path d="M521.95 630.4H537.55" stroke="#3c8fd1" stroke-width="1.8"/>
<path d="M550.00 589.1V618.4M550.00 646.1V681.3" stroke="#3c8fd1" stroke-width="1.05"/>
<rect x="542.20" y="618.4" width="15.6" height="27.70" fill="#abd0f0" stroke="#3c8fd1" stroke-width="1.05"/>
<path d="M542.20 632.9H557.80" stroke="#3c8fd1" stroke-width="1.8"/>
<path d="M570.25 628.4V662.3M570.25 686.8V717.3" stroke="#3c8fd1" stroke-width="1.05"/>
<rect x="562.45" y="662.3" width="15.6" height="24.50" fill="#abd0f0" stroke="#3c8fd1" stroke-width="1.05"/>
<path d="M562.45 676.6H578.05" stroke="#3c8fd1" stroke-width="1.8"/>
<path d="M590.50 657.0V681.5M590.50 706.2V731.4" stroke="#3c8fd1" stroke-width="1.05"/>
<rect x="582.70" y="681.5" width="15.6" height="24.70" fill="#abd0f0" stroke="#3c8fd1" stroke-width="1.05"/>
<path d="M582.70 691.1H598.30" stroke="#3c8fd1" stroke-width="1.8"/>
<path d="M610.75 655.3V686.5M610.75 708.1V732.3" stroke="#3c8fd1" stroke-width="1.05"/>
<rect x="602.95" y="686.5" width="15.6" height="21.60" fill="#abd0f0" stroke="#3c8fd1" stroke-width="1.05"/>
<path d="M602.95 695.3H618.55" stroke="#3c8fd1" stroke-width="1.8"/>
<path d="M631.00 663.0V686.7M631.00 711.3V733.1" stroke="#3c8fd1" stroke-width="1.05"/>
<rect x="623.20" y="686.7" width="15.6" height="24.60" fill="#abd0f0" stroke="#3c8fd1" stroke-width="1.05"/>
<path d="M623.20 700.9H638.80" stroke="#3c8fd1" stroke-width="1.8"/>
<path d="M651.25 683.0V705.6M651.25 725.0V734.4" stroke="#3c8fd1" stroke-width="1.05"/>
<rect x="643.45" y="705.6" width="15.6" height="19.40" fill="#abd0f0" stroke="#3c8fd1" stroke-width="1.05"/>
<path d="M643.45 716.9H659.05" stroke="#3c8fd1" stroke-width="1.8"/>
<circle cx="63.70" cy="683.8" r="2.9" fill="#a0a0a4"/>
<circle cx="67.90" cy="674.1" r="2.85" fill="none" stroke="#737373" stroke-width="1.7"/>
<circle cx="83.95" cy="650.7" r="2.9" fill="#a0a0a4"/>
<circle cx="88.15" cy="649.4" r="2.85" fill="none" stroke="#737373" stroke-width="1.7"/>
<circle cx="104.20" cy="639.2" r="2.9" fill="#a0a0a4"/>
<circle cx="108.40" cy="675.6" r="2.85" fill="none" stroke="#737373" stroke-width="1.7"/>
<circle cx="124.45" cy="668.5" r="2.9" fill="#a0a0a4"/>
<circle cx="128.65" cy="676.9" r="2.85" fill="none" stroke="#737373" stroke-width="1.7"/>
<circle cx="144.70" cy="683.0" r="2.9" fill="#a0a0a4"/>
<circle cx="148.90" cy="691.9" r="2.85" fill="none" stroke="#737373" stroke-width="1.7"/>
<circle cx="164.95" cy="675.6" r="2.9" fill="#a0a0a4"/>
<circle cx="169.15" cy="676.1" r="2.85" fill="none" stroke="#737373" stroke-width="1.7"/>
<circle cx="185.20" cy="675.4" r="2.9" fill="#a0a0a4"/>
<circle cx="189.40" cy="677.4" r="2.85" fill="none" stroke="#737373" stroke-width="1.7"/>
<circle cx="205.45" cy="680.7" r="2.9" fill="#a0a0a4"/>
<circle cx="209.65" cy="671.6" r="2.85" fill="none" stroke="#737373" stroke-width="1.7"/>
<circle cx="225.70" cy="661.4" r="2.9" fill="#a0a0a4"/>
<circle cx="229.90" cy="667.8" r="2.85" fill="none" stroke="#737373" stroke-width="1.7"/>
<circle cx="245.95" cy="629.8" r="2.9" fill="#a0a0a4"/>
<circle cx="250.15" cy="656.6" r="2.85" fill="none" stroke="#737373" stroke-width="1.7"/>
<circle cx="266.20" cy="675.4" r="2.9" fill="#a0a0a4"/>
<circle cx="270.40" cy="689.7" r="2.85" fill="none" stroke="#737373" stroke-width="1.7"/>
<circle cx="286.45" cy="650.0" r="2.9" fill="#a0a0a4"/>
<circle cx="290.65" cy="668.0" r="2.85" fill="none" stroke="#737373" stroke-width="1.7"/>
<circle cx="306.70" cy="650.7" r="2.9" fill="#a0a0a4"/>
<circle cx="310.90" cy="664.7" r="2.85" fill="none" stroke="#737373" stroke-width="1.7"/>
<circle cx="326.95" cy="680.7" r="2.9" fill="#a0a0a4"/>
<circle cx="331.15" cy="640.5" r="2.85" fill="none" stroke="#737373" stroke-width="1.7"/>
<circle cx="347.20" cy="664.0" r="2.9" fill="#a0a0a4"/>
<circle cx="351.40" cy="680.2" r="2.85" fill="none" stroke="#737373" stroke-width="1.7"/>
<circle cx="367.45" cy="663.7" r="2.9" fill="#a0a0a4"/>
<circle cx="371.65" cy="690.7" r="2.85" fill="none" stroke="#737373" stroke-width="1.7"/>
<circle cx="387.70" cy="657.8" r="2.9" fill="#a0a0a4"/>
<circle cx="391.90" cy="633.7" r="2.85" fill="none" stroke="#737373" stroke-width="1.7"/>
<circle cx="407.95" cy="658.4" r="2.9" fill="#a0a0a4"/>
<circle cx="412.15" cy="699.6" r="2.85" fill="none" stroke="#737373" stroke-width="1.7"/>
<circle cx="428.20" cy="642.3" r="2.9" fill="#a0a0a4"/>
<circle cx="432.40" cy="653.3" r="2.85" fill="none" stroke="#737373" stroke-width="1.7"/>
<circle cx="448.45" cy="652.0" r="2.9" fill="#a0a0a4"/>
<circle cx="452.65" cy="676.4" r="2.85" fill="none" stroke="#737373" stroke-width="1.7"/>
<circle cx="468.70" cy="655.0" r="2.9" fill="#a0a0a4"/>
<circle cx="472.90" cy="696.0" r="2.85" fill="none" stroke="#737373" stroke-width="1.7"/>
<circle cx="488.95" cy="658.9" r="2.9" fill="#a0a0a4"/>
<circle cx="493.15" cy="683.3" r="2.85" fill="none" stroke="#737373" stroke-width="1.7"/>
<circle cx="509.20" cy="669.8" r="2.9" fill="#a0a0a4"/>
<circle cx="513.40" cy="674.1" r="2.85" fill="none" stroke="#737373" stroke-width="1.7"/>
<circle cx="529.45" cy="641.8" r="2.9" fill="#a0a0a4"/>
<circle cx="533.65" cy="686.6" r="2.85" fill="none" stroke="#737373" stroke-width="1.7"/>
<circle cx="549.70" cy="636.2" r="2.9" fill="#a0a0a4"/>
<circle cx="553.90" cy="665.5" r="2.85" fill="none" stroke="#737373" stroke-width="1.7"/>
<circle cx="569.95" cy="663.9" r="2.9" fill="#a0a0a4"/>
<circle cx="574.15" cy="680.4" r="2.85" fill="none" stroke="#737373" stroke-width="1.7"/>
<circle cx="590.20" cy="654.3" r="2.9" fill="#a0a0a4"/>
<circle cx="594.40" cy="687.8" r="2.85" fill="none" stroke="#737373" stroke-width="1.7"/>
<circle cx="610.45" cy="641.9" r="2.9" fill="#a0a0a4"/>
<circle cx="614.65" cy="681.2" r="2.85" fill="none" stroke="#737373" stroke-width="1.7"/>
<circle cx="630.70" cy="661.1" r="2.9" fill="#a0a0a4"/>
<circle cx="634.90" cy="688.4" r="2.85" fill="none" stroke="#737373" stroke-width="1.7"/>
<circle cx="650.95" cy="667.6" r="2.9" fill="#a0a0a4"/>
<circle cx="655.15" cy="663.8" r="2.85" fill="none" stroke="#737373" stroke-width="1.7"/>
<circle cx="557.3" cy="548.2" r="3.0" fill="none" stroke="#555" stroke-width="1.1"/>
<text x="562.8" y="550.6" font-size="8.1" fill="#1a1a1a">non-ASD</text>
<circle cx="556.9" cy="558.1" r="2.9" fill="#a0a0a4"/>
<text x="563" y="561.1" font-size="8.1" fill="#1a1a1a">ASD</text>
<path d="M556.6 566.3V568M556.6 575.9V577.6" stroke="#777" stroke-width="0.9"/>
<rect x="551.6" y="568" width="10" height="7.9" fill="none" stroke="#777" stroke-width="0.9"/>
<path d="M551.6 572H561.6" stroke="#777" stroke-width="1.1"/>
<text x="563" y="571.5" font-size="8.1" fill="#1a1a1a">Correlation 95% CI in ASD</text>
<text x="563" y="579.4" font-size="8.1" fill="#1a1a1a">n=462</text>
<text transform="translate(63.80,755.20) rotate(-45)" font-size="9.3" text-anchor="end" fill="#1a1a1a">Mineral insufficiency</text>
<text transform="translate(85.75,755.50) rotate(-45)" font-size="9.3" text-anchor="end" fill="#1a1a1a">CCDI</text>
<text transform="translate(105.70,755.50) rotate(-45)" font-size="9.3" text-anchor="end" fill="#1a1a1a">Vitamin insufficiency</text>
<text transform="translate(130.05,756.00) rotate(-45)" font-size="9.3" text-anchor="end" fill="#1a1a1a">AHEI</text>
<text transform="translate(147.70,755.50) rotate(-45)" font-size="9.3" text-anchor="end" fill="#1a1a1a">Sulfur diet score</text>
<text transform="translate(167.75,755.50) rotate(-45)" font-size="9.3" text-anchor="end" fill="#1a1a1a">DII</text>
<text transform="translate(188.10,755.50) rotate(-45)" font-size="9.3" text-anchor="end" fill="#1a1a1a">HFD</text>
<text transform="translate(205.25,757.00) rotate(-45)" font-size="9.3" text-anchor="end" fill="#1a1a1a">Polysorbate-80</text>
<text transform="translate(228.20,755.50) rotate(-45)" font-size="9.3" text-anchor="end" fill="#1a1a1a">Starch</text>
<text transform="translate(248.65,756.50) rotate(-45)" font-size="9.3" text-anchor="end" fill="#1a1a1a">Magnesium</text>
<text transform="translate(268.90,755.50) rotate(-45)" font-size="9.3" text-anchor="end" fill="#1a1a1a">Fat</text>
<text transform="translate(286.25,756.10) rotate(-45)" font-size="9.3" text-anchor="end" fill="#1a1a1a">Carrageenan</text>
<text transform="translate(308.20,755.50) rotate(-45)" font-size="9.3" text-anchor="end" fill="#1a1a1a">Protein</text>
<text transform="translate(328.45,755.50) rotate(-45)" font-size="9.3" text-anchor="end" fill="#1a1a1a">Vitamin D</text>
<text transform="translate(348.70,755.50) rotate(-45)" font-size="9.3" text-anchor="end" fill="#1a1a1a">Vitamin B3</text>
<text transform="translate(368.95,755.50) rotate(-45)" font-size="9.3" text-anchor="end" fill="#1a1a1a">Vitamin B12</text>
<text transform="translate(389.20,755.50) rotate(-45)" font-size="9.3" text-anchor="end" fill="#1a1a1a">Vitamin B5</text>
<text transform="translate(409.45,755.50) rotate(-45)" font-size="9.3" text-anchor="end" fill="#1a1a1a">PUFA</text>
<text transform="translate(429.70,755.50) rotate(-45)" font-size="9.3" text-anchor="end" fill="#1a1a1a">Folate</text>
<text transform="translate(449.95,755.50) rotate(-45)" font-size="9.3" text-anchor="end" fill="#1a1a1a">TFA</text>
<text transform="translate(470.20,755.50) rotate(-45)" font-size="9.3" text-anchor="end" fill="#1a1a1a">Fibre</text>
<text transform="translate(487.85,756.30) rotate(-45)" font-size="9.3" text-anchor="end" fill="#1a1a1a">Carboxymethylcellulose</text>
<text transform="translate(511.50,755.50) rotate(-45)" font-size="9.3" text-anchor="end" fill="#1a1a1a">Vegetable</text>
<text transform="translate(530.95,755.50) rotate(-45)" font-size="9.3" text-anchor="end" fill="#1a1a1a">Bean</text>
<text transform="translate(551.20,755.50) rotate(-45)" font-size="9.3" text-anchor="end" fill="#1a1a1a">Darkgreen</text>
<text transform="translate(571.45,755.50) rotate(-45)" font-size="9.3" text-anchor="end" fill="#1a1a1a">Dairy</text>
<text transform="translate(591.70,755.50) rotate(-45)" font-size="9.3" text-anchor="end" fill="#1a1a1a">Firedfood</text>
<text transform="translate(611.95,755.50) rotate(-45)" font-size="9.3" text-anchor="end" fill="#1a1a1a">Fruit</text>
<text transform="translate(632.20,755.50) rotate(-45)" font-size="9.3" text-anchor="end" fill="#1a1a1a">Procmeat</text>
<text transform="translate(652.45,755.50) rotate(-45)" font-size="9.3" text-anchor="end" fill="#1a1a1a">Sugarjam</text></svg>
</body></html>
